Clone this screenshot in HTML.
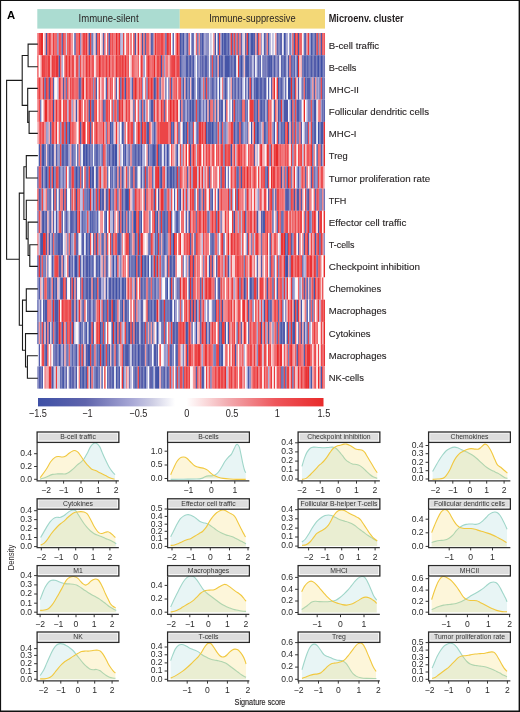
<!DOCTYPE html>
<html><head><meta charset="utf-8"><style>
html,body{margin:0;padding:0;background:#fff;}
svg{display:block;font-family:"Liberation Sans", sans-serif;will-change:transform;}
</style></head><body>
<svg width="520" height="712" viewBox="0 0 520 712">
<rect width="520" height="712" fill="#fff"/>
<rect x="37.3" y="9.1" width="142.5" height="19.5" fill="#abdcd1"/>
<rect x="179.8" y="9.1" width="145.2" height="19.5" fill="#f3d877"/>
<text x="108.55000000000001" y="22" font-size="10.5" text-anchor="middle" fill="#231f20" textLength="60" lengthAdjust="spacingAndGlyphs">Immune-silent</text>
<text x="252.4" y="22" font-size="10.5" text-anchor="middle" fill="#231f20" textLength="86.5" lengthAdjust="spacingAndGlyphs">Immune-suppressive</text>
<text x="328.7" y="21.9" font-size="10.8" font-weight="bold" fill="#231f20" textLength="75" lengthAdjust="spacingAndGlyphs">Microenv. cluster</text>
<text x="7" y="18.8" font-size="11.3" font-weight="bold" fill="#000">A</text>
<text x="328.8" y="48.70" font-size="9.9" fill="#231f20" stroke="#231f20" stroke-width="0.12" textLength="50.40" lengthAdjust="spacingAndGlyphs">B-cell traffic</text>
<text x="328.8" y="70.84" font-size="9.9" fill="#231f20" stroke="#231f20" stroke-width="0.12" textLength="27.70" lengthAdjust="spacingAndGlyphs">B-cells</text>
<text x="328.8" y="92.98" font-size="9.9" fill="#231f20" stroke="#231f20" stroke-width="0.12" textLength="30.20" lengthAdjust="spacingAndGlyphs">MHC-II</text>
<text x="328.8" y="115.12" font-size="9.9" fill="#231f20" stroke="#231f20" stroke-width="0.12" textLength="100.20" lengthAdjust="spacingAndGlyphs">Follicular dendritic cells</text>
<text x="328.8" y="137.26" font-size="9.9" fill="#231f20" stroke="#231f20" stroke-width="0.12" textLength="27.70" lengthAdjust="spacingAndGlyphs">MHC-I</text>
<text x="328.8" y="159.40" font-size="9.9" fill="#231f20" stroke="#231f20" stroke-width="0.12" textLength="18.80" lengthAdjust="spacingAndGlyphs">Treg</text>
<text x="328.8" y="181.54" font-size="9.9" fill="#231f20" stroke="#231f20" stroke-width="0.12" textLength="101.40" lengthAdjust="spacingAndGlyphs">Tumor proliferation rate</text>
<text x="328.8" y="203.68" font-size="9.9" fill="#231f20" stroke="#231f20" stroke-width="0.12" textLength="17.60" lengthAdjust="spacingAndGlyphs">TFH</text>
<text x="328.8" y="225.82" font-size="9.9" fill="#231f20" stroke="#231f20" stroke-width="0.12" textLength="77.50" lengthAdjust="spacingAndGlyphs">Effector cell traffic</text>
<text x="328.8" y="247.96" font-size="9.9" fill="#231f20" stroke="#231f20" stroke-width="0.12" textLength="25.70" lengthAdjust="spacingAndGlyphs">T-cells</text>
<text x="328.8" y="270.10" font-size="9.9" fill="#231f20" stroke="#231f20" stroke-width="0.12" textLength="91.10" lengthAdjust="spacingAndGlyphs">Checkpoint inhibition</text>
<text x="328.8" y="292.24" font-size="9.9" fill="#231f20" stroke="#231f20" stroke-width="0.12" textLength="52.40" lengthAdjust="spacingAndGlyphs">Chemokines</text>
<text x="328.8" y="314.38" font-size="9.9" fill="#231f20" stroke="#231f20" stroke-width="0.12" textLength="57.70" lengthAdjust="spacingAndGlyphs">Macrophages</text>
<text x="328.8" y="336.52" font-size="9.9" fill="#231f20" stroke="#231f20" stroke-width="0.12" textLength="41.70" lengthAdjust="spacingAndGlyphs">Cytokines</text>
<text x="328.8" y="358.66" font-size="9.9" fill="#231f20" stroke="#231f20" stroke-width="0.12" textLength="57.70" lengthAdjust="spacingAndGlyphs">Macrophages</text>
<text x="328.8" y="380.80" font-size="9.9" fill="#231f20" stroke="#231f20" stroke-width="0.12" textLength="35.10" lengthAdjust="spacingAndGlyphs">NK-cells</text>
<style>.h0{fill:#3e50a6}.h1{fill:#4554a7}.h2{fill:#4b58a8}.h3{fill:#525caa}.h4{fill:#5860ab}.h5{fill:#5f64ac}.h6{fill:#6e72b5}.h7{fill:#7d80bd}.h8{fill:#8c8ec6}.h9{fill:#9b9cce}.h10{fill:#aaaad7}.h11{fill:#bcbcde}.h12{fill:#cdcde4}.h13{fill:#e2e2ef}.h14{fill:#f7f7fa}.h15{fill:#ffffff}.h16{fill:#fef8f8}.h17{fill:#fce5e6}.h18{fill:#f9d2d4}.h19{fill:#f6bec2}.h20{fill:#f2aaaf}.h21{fill:#f1999e}.h22{fill:#f0888d}.h23{fill:#f0777c}.h24{fill:#ef666b}.h25{fill:#ee555a}.h26{fill:#ed4c50}.h27{fill:#ec4447}.h28{fill:#ea3b3d}.h29{fill:#e93334}.h30{fill:#e82a2a}.hm rect{height:22.25px}</style><defs><filter id="hb" x="0" y="0" width="1" height="1"><feGaussianBlur stdDeviation="0.35 0.2"/></filter></defs><g class="hm" filter="url(#hb)"><g transform="translate(0,33.00)"><rect x="37.30" width="1.43" class="h24"/><rect x="38.72" width="1.44" class="h27"/><rect x="40.15" width="2.86" class="h30"/><rect x="43.00" width="1.43" class="h16"/><rect x="44.42" width="1.44" class="h21"/><rect x="45.85" width="1.43" class="h1"/><rect x="47.27" width="1.44" class="h27"/><rect x="48.70" width="1.43" class="h28"/><rect x="50.12" width="1.43" class="h27"/><rect x="51.55" width="1.44" class="h21"/><rect x="52.98" width="1.44" class="h28"/><rect x="54.40" width="1.43" class="h26"/><rect x="55.83" width="1.43" class="h24"/><rect x="57.25" width="1.43" class="h7"/><rect x="58.67" width="1.44" class="h26"/><rect x="60.10" width="1.44" class="h27"/><rect x="61.53" width="1.43" class="h4"/><rect x="62.95" width="1.43" class="h26"/><rect x="64.38" width="1.43" class="h28"/><rect x="65.80" width="1.43" class="h12"/><rect x="67.22" width="1.44" class="h28"/><rect x="68.65" width="1.43" class="h27"/><rect x="70.08" width="1.43" class="h25"/><rect x="71.50" width="1.44" class="h22"/><rect x="72.93" width="1.43" class="h14"/><rect x="74.35" width="1.43" class="h0"/><rect x="75.78" width="1.43" class="h24"/><rect x="77.20" width="1.43" class="h26"/><rect x="78.62" width="1.44" class="h29"/><rect x="80.05" width="1.43" class="h8"/><rect x="81.48" width="1.43" class="h23"/><rect x="82.90" width="2.86" class="h27"/><rect x="85.75" width="1.44" class="h29"/><rect x="87.18" width="1.43" class="h23"/><rect x="88.60" width="1.43" class="h2"/><rect x="90.03" width="1.43" class="h28"/><rect x="91.45" width="1.43" class="h4"/><rect x="92.88" width="1.44" class="h11"/><rect x="94.30" width="1.43" class="h19"/><rect x="95.73" width="1.43" class="h2"/><rect x="97.15" width="1.43" class="h27"/><rect x="98.58" width="1.43" class="h28"/><rect x="100.00" width="1.44" class="h14"/><rect x="101.43" width="1.43" class="h19"/><rect x="102.85" width="1.43" class="h3"/><rect x="104.28" width="1.44" class="h26"/><rect x="105.70" width="1.43" class="h14"/><rect x="107.13" width="1.43" class="h26"/><rect x="108.55" width="1.46" class="h3"/><rect x="110.00" width="1.46" class="h25"/><rect x="111.46" width="1.46" class="h28"/><rect x="112.91" width="2.92" class="h23"/><rect x="115.82" width="1.46" class="h30"/><rect x="117.27" width="1.46" class="h27"/><rect x="118.73" width="1.46" class="h29"/><rect x="120.18" width="1.46" class="h9"/><rect x="121.64" width="1.46" class="h11"/><rect x="123.09" width="1.46" class="h29"/><rect x="124.54" width="1.46" class="h14"/><rect x="126.00" width="1.46" class="h23"/><rect x="127.45" width="1.46" class="h29"/><rect x="128.91" width="1.46" class="h18"/><rect x="130.36" width="1.46" class="h27"/><rect x="131.82" width="1.46" class="h15"/><rect x="133.27" width="1.46" class="h29"/><rect x="134.72" width="1.46" class="h2"/><rect x="136.18" width="1.46" class="h19"/><rect x="137.63" width="1.46" class="h30"/><rect x="139.09" width="1.46" class="h19"/><rect x="140.54" width="1.46" class="h23"/><rect x="141.99" width="1.46" class="h1"/><rect x="143.45" width="1.46" class="h24"/><rect x="144.90" width="1.46" class="h4"/><rect x="146.36" width="1.46" class="h27"/><rect x="147.81" width="1.46" class="h24"/><rect x="149.26" width="1.46" class="h21"/><rect x="150.72" width="1.46" class="h4"/><rect x="152.17" width="1.46" class="h1"/><rect x="153.63" width="1.46" class="h22"/><rect x="155.08" width="1.46" class="h30"/><rect x="156.53" width="4.37" class="h25"/><rect x="160.90" width="2.92" class="h27"/><rect x="163.81" width="1.46" class="h23"/><rect x="165.26" width="1.46" class="h3"/><rect x="166.71" width="1.46" class="h29"/><rect x="168.17" width="1.46" class="h30"/><rect x="169.62" width="1.46" class="h27"/><rect x="171.08" width="1.46" class="h15"/><rect x="172.53" width="1.46" class="h5"/><rect x="173.98" width="1.46" class="h16"/><rect x="175.44" width="1.46" class="h24"/><rect x="176.89" width="1.46" class="h30"/><rect x="178.35" width="1.46" class="h27"/><rect x="179.80" width="1.46" class="h1"/><rect x="181.25" width="1.46" class="h2"/><rect x="182.70" width="1.46" class="h1"/><rect x="184.16" width="1.46" class="h8"/><rect x="185.61" width="1.46" class="h7"/><rect x="187.06" width="1.46" class="h2"/><rect x="188.51" width="1.46" class="h24"/><rect x="189.96" width="1.46" class="h16"/><rect x="191.42" width="1.46" class="h1"/><rect x="192.87" width="1.46" class="h6"/><rect x="194.32" width="1.46" class="h14"/><rect x="195.77" width="1.46" class="h24"/><rect x="197.22" width="1.46" class="h3"/><rect x="198.68" width="1.46" class="h22"/><rect x="200.13" width="1.46" class="h3"/><rect x="201.58" width="1.46" class="h1"/><rect x="203.03" width="1.46" class="h6"/><rect x="204.48" width="1.46" class="h9"/><rect x="205.94" width="1.46" class="h8"/><rect x="207.39" width="1.46" class="h5"/><rect x="208.84" width="1.46" class="h16"/><rect x="210.29" width="1.46" class="h11"/><rect x="211.74" width="1.46" class="h16"/><rect x="213.20" width="1.46" class="h22"/><rect x="214.65" width="1.46" class="h1"/><rect x="216.10" width="1.46" class="h14"/><rect x="217.55" width="1.46" class="h2"/><rect x="219.00" width="1.46" class="h27"/><rect x="220.46" width="1.46" class="h8"/><rect x="221.91" width="1.46" class="h1"/><rect x="223.36" width="2.91" class="h2"/><rect x="226.26" width="1.46" class="h1"/><rect x="227.72" width="1.46" class="h3"/><rect x="229.17" width="1.46" class="h7"/><rect x="230.62" width="1.46" class="h28"/><rect x="232.07" width="1.46" class="h4"/><rect x="233.52" width="1.46" class="h27"/><rect x="234.98" width="1.46" class="h7"/><rect x="236.43" width="1.46" class="h27"/><rect x="237.88" width="1.46" class="h6"/><rect x="239.33" width="1.46" class="h25"/><rect x="240.78" width="1.46" class="h5"/><rect x="242.24" width="1.46" class="h11"/><rect x="243.69" width="1.46" class="h18"/><rect x="245.14" width="1.46" class="h0"/><rect x="246.59" width="1.46" class="h28"/><rect x="248.04" width="1.46" class="h0"/><rect x="249.50" width="1.46" class="h7"/><rect x="250.95" width="2.89" class="h1"/><rect x="253.82" width="1.43" class="h3"/><rect x="255.25" width="1.43" class="h22"/><rect x="256.67" width="1.43" class="h3"/><rect x="258.09" width="1.43" class="h28"/><rect x="259.52" width="1.43" class="h22"/><rect x="260.94" width="1.43" class="h9"/><rect x="262.36" width="1.43" class="h16"/><rect x="263.79" width="1.43" class="h3"/><rect x="265.21" width="1.43" class="h5"/><rect x="266.64" width="1.43" class="h23"/><rect x="268.06" width="1.43" class="h2"/><rect x="269.48" width="1.43" class="h10"/><rect x="270.91" width="1.43" class="h16"/><rect x="272.33" width="1.43" class="h10"/><rect x="273.75" width="1.43" class="h14"/><rect x="275.18" width="1.43" class="h22"/><rect x="276.60" width="1.43" class="h4"/><rect x="278.02" width="1.43" class="h7"/><rect x="279.45" width="1.43" class="h1"/><rect x="280.87" width="1.43" class="h5"/><rect x="282.29" width="1.43" class="h16"/><rect x="283.72" width="1.43" class="h0"/><rect x="285.14" width="1.43" class="h4"/><rect x="286.56" width="1.43" class="h10"/><rect x="287.99" width="1.43" class="h16"/><rect x="289.41" width="1.43" class="h3"/><rect x="290.84" width="1.43" class="h11"/><rect x="292.26" width="1.43" class="h26"/><rect x="293.68" width="1.43" class="h2"/><rect x="295.11" width="1.43" class="h30"/><rect x="296.53" width="1.43" class="h27"/><rect x="297.95" width="1.43" class="h1"/><rect x="299.38" width="1.43" class="h28"/><rect x="300.80" width="1.43" class="h24"/><rect x="302.22" width="1.43" class="h16"/><rect x="303.65" width="1.43" class="h6"/><rect x="305.07" width="1.43" class="h2"/><rect x="306.49" width="1.43" class="h22"/><rect x="307.92" width="1.43" class="h28"/><rect x="309.34" width="1.43" class="h9"/><rect x="310.76" width="1.43" class="h1"/><rect x="312.19" width="1.43" class="h3"/><rect x="313.61" width="1.43" class="h7"/><rect x="315.04" width="1.43" class="h1"/><rect x="316.46" width="1.43" class="h29"/><rect x="317.88" width="1.43" class="h7"/><rect x="319.31" width="1.43" class="h25"/><rect x="320.73" width="1.43" class="h2"/><rect x="322.15" width="1.43" class="h27"/><rect x="323.58" width="1.43" class="h25"/></g><g transform="translate(0,55.23)"><rect x="37.30" width="1.43" class="h27"/><rect x="38.72" width="1.44" class="h16"/><rect x="40.15" width="1.43" class="h19"/><rect x="41.57" width="1.44" class="h28"/><rect x="43.00" width="2.86" class="h27"/><rect x="45.85" width="1.43" class="h25"/><rect x="47.27" width="2.86" class="h28"/><rect x="50.12" width="1.43" class="h20"/><rect x="51.55" width="1.44" class="h28"/><rect x="52.98" width="2.86" class="h27"/><rect x="55.83" width="2.86" class="h29"/><rect x="58.67" width="1.44" class="h2"/><rect x="60.10" width="1.44" class="h26"/><rect x="61.53" width="1.43" class="h10"/><rect x="62.95" width="1.43" class="h16"/><rect x="64.38" width="1.43" class="h27"/><rect x="65.80" width="1.43" class="h29"/><rect x="67.22" width="1.44" class="h26"/><rect x="68.65" width="1.43" class="h30"/><rect x="70.08" width="1.43" class="h24"/><rect x="71.50" width="1.44" class="h28"/><rect x="72.93" width="1.43" class="h26"/><rect x="74.35" width="1.43" class="h19"/><rect x="75.78" width="1.43" class="h26"/><rect x="77.20" width="1.43" class="h30"/><rect x="78.62" width="1.44" class="h8"/><rect x="80.05" width="1.43" class="h27"/><rect x="81.48" width="1.43" class="h21"/><rect x="82.90" width="1.43" class="h24"/><rect x="84.33" width="1.43" class="h23"/><rect x="85.75" width="1.44" class="h29"/><rect x="87.18" width="1.43" class="h28"/><rect x="88.60" width="1.43" class="h29"/><rect x="90.03" width="1.43" class="h23"/><rect x="91.45" width="1.43" class="h28"/><rect x="92.88" width="1.44" class="h25"/><rect x="94.30" width="1.43" class="h14"/><rect x="95.73" width="1.43" class="h23"/><rect x="97.15" width="1.43" class="h25"/><rect x="98.58" width="1.43" class="h30"/><rect x="100.00" width="1.44" class="h26"/><rect x="101.43" width="1.43" class="h27"/><rect x="102.85" width="1.43" class="h25"/><rect x="104.28" width="1.44" class="h26"/><rect x="105.70" width="1.43" class="h28"/><rect x="107.13" width="1.43" class="h25"/><rect x="108.55" width="1.46" class="h29"/><rect x="110.00" width="1.46" class="h23"/><rect x="111.46" width="1.46" class="h26"/><rect x="112.91" width="1.46" class="h24"/><rect x="114.37" width="1.46" class="h23"/><rect x="115.82" width="1.46" class="h29"/><rect x="117.27" width="1.46" class="h30"/><rect x="118.73" width="1.46" class="h26"/><rect x="120.18" width="1.46" class="h30"/><rect x="121.64" width="1.46" class="h28"/><rect x="123.09" width="1.46" class="h27"/><rect x="124.54" width="1.46" class="h29"/><rect x="126.00" width="1.46" class="h24"/><rect x="127.45" width="1.46" class="h29"/><rect x="128.91" width="1.46" class="h14"/><rect x="130.36" width="1.46" class="h19"/><rect x="131.82" width="1.46" class="h25"/><rect x="133.27" width="1.46" class="h27"/><rect x="134.72" width="1.46" class="h22"/><rect x="136.18" width="1.46" class="h23"/><rect x="137.63" width="1.46" class="h24"/><rect x="139.09" width="1.46" class="h15"/><rect x="140.54" width="1.46" class="h28"/><rect x="141.99" width="1.46" class="h24"/><rect x="143.45" width="1.46" class="h8"/><rect x="144.90" width="1.46" class="h14"/><rect x="146.36" width="1.46" class="h27"/><rect x="147.81" width="1.46" class="h29"/><rect x="149.26" width="1.46" class="h28"/><rect x="150.72" width="1.46" class="h23"/><rect x="152.17" width="1.46" class="h26"/><rect x="153.63" width="1.46" class="h30"/><rect x="155.08" width="1.46" class="h22"/><rect x="156.53" width="2.92" class="h27"/><rect x="159.44" width="1.46" class="h30"/><rect x="160.90" width="1.46" class="h1"/><rect x="162.35" width="1.46" class="h27"/><rect x="163.81" width="1.46" class="h9"/><rect x="165.26" width="2.92" class="h23"/><rect x="168.17" width="1.46" class="h20"/><rect x="169.62" width="1.46" class="h24"/><rect x="171.08" width="2.92" class="h27"/><rect x="173.98" width="1.46" class="h28"/><rect x="175.44" width="1.46" class="h25"/><rect x="176.89" width="2.92" class="h27"/><rect x="179.80" width="1.46" class="h2"/><rect x="181.25" width="1.46" class="h3"/><rect x="182.70" width="1.46" class="h8"/><rect x="184.16" width="1.46" class="h7"/><rect x="185.61" width="2.91" class="h2"/><rect x="188.51" width="1.46" class="h5"/><rect x="189.96" width="1.46" class="h2"/><rect x="191.42" width="1.46" class="h4"/><rect x="192.87" width="1.46" class="h1"/><rect x="194.32" width="1.46" class="h9"/><rect x="195.77" width="1.46" class="h15"/><rect x="197.22" width="1.46" class="h3"/><rect x="198.68" width="1.46" class="h9"/><rect x="200.13" width="1.46" class="h3"/><rect x="201.58" width="1.46" class="h4"/><rect x="203.03" width="1.46" class="h6"/><rect x="204.48" width="1.46" class="h1"/><rect x="205.94" width="1.46" class="h3"/><rect x="207.39" width="1.46" class="h4"/><rect x="208.84" width="1.46" class="h14"/><rect x="210.29" width="1.46" class="h3"/><rect x="211.74" width="1.46" class="h26"/><rect x="213.20" width="1.46" class="h1"/><rect x="214.65" width="1.46" class="h7"/><rect x="216.10" width="1.46" class="h1"/><rect x="217.55" width="1.46" class="h21"/><rect x="219.00" width="1.46" class="h0"/><rect x="220.46" width="1.46" class="h1"/><rect x="221.91" width="1.46" class="h4"/><rect x="223.36" width="1.46" class="h7"/><rect x="224.81" width="4.37" class="h1"/><rect x="229.17" width="1.46" class="h0"/><rect x="230.62" width="1.46" class="h5"/><rect x="232.07" width="1.46" class="h6"/><rect x="233.52" width="2.91" class="h2"/><rect x="236.43" width="1.46" class="h15"/><rect x="237.88" width="1.46" class="h29"/><rect x="239.33" width="1.46" class="h3"/><rect x="240.78" width="1.46" class="h0"/><rect x="242.24" width="1.46" class="h5"/><rect x="243.69" width="1.46" class="h19"/><rect x="245.14" width="2.91" class="h2"/><rect x="248.04" width="1.46" class="h1"/><rect x="249.50" width="1.46" class="h6"/><rect x="250.95" width="1.46" class="h7"/><rect x="252.40" width="1.43" class="h11"/><rect x="253.82" width="1.43" class="h5"/><rect x="255.25" width="1.43" class="h14"/><rect x="256.67" width="1.43" class="h8"/><rect x="258.09" width="1.43" class="h3"/><rect x="259.52" width="1.43" class="h2"/><rect x="260.94" width="1.43" class="h14"/><rect x="262.36" width="1.43" class="h3"/><rect x="263.79" width="1.43" class="h7"/><rect x="265.21" width="1.43" class="h4"/><rect x="266.64" width="1.43" class="h6"/><rect x="268.06" width="2.86" class="h2"/><rect x="270.91" width="1.43" class="h1"/><rect x="272.33" width="1.43" class="h6"/><rect x="273.75" width="1.43" class="h2"/><rect x="275.18" width="1.43" class="h6"/><rect x="276.60" width="1.43" class="h7"/><rect x="278.02" width="1.43" class="h5"/><rect x="279.45" width="1.43" class="h16"/><rect x="280.87" width="1.43" class="h4"/><rect x="282.29" width="1.43" class="h1"/><rect x="283.72" width="1.43" class="h3"/><rect x="285.14" width="1.43" class="h2"/><rect x="286.56" width="1.43" class="h11"/><rect x="287.99" width="1.43" class="h2"/><rect x="289.41" width="1.43" class="h26"/><rect x="290.84" width="1.43" class="h5"/><rect x="292.26" width="1.43" class="h3"/><rect x="293.68" width="1.43" class="h4"/><rect x="295.11" width="1.43" class="h10"/><rect x="296.53" width="1.43" class="h1"/><rect x="297.95" width="1.43" class="h30"/><rect x="299.38" width="1.43" class="h19"/><rect x="300.80" width="1.43" class="h20"/><rect x="302.22" width="1.43" class="h2"/><rect x="303.65" width="1.43" class="h3"/><rect x="305.07" width="1.43" class="h2"/><rect x="306.49" width="1.43" class="h1"/><rect x="307.92" width="1.43" class="h6"/><rect x="309.34" width="1.43" class="h3"/><rect x="310.76" width="1.43" class="h2"/><rect x="312.19" width="1.43" class="h4"/><rect x="313.61" width="2.86" class="h3"/><rect x="316.46" width="1.43" class="h2"/><rect x="317.88" width="1.43" class="h0"/><rect x="319.31" width="1.43" class="h3"/><rect x="320.73" width="1.43" class="h0"/><rect x="322.15" width="1.43" class="h2"/><rect x="323.58" width="1.43" class="h6"/></g><g transform="translate(0,77.45)"><rect x="37.30" width="1.43" class="h26"/><rect x="38.72" width="1.44" class="h28"/><rect x="40.15" width="1.43" class="h24"/><rect x="41.57" width="1.44" class="h22"/><rect x="43.00" width="1.43" class="h29"/><rect x="44.42" width="1.44" class="h2"/><rect x="45.85" width="1.43" class="h28"/><rect x="47.27" width="1.44" class="h29"/><rect x="48.70" width="1.43" class="h2"/><rect x="50.12" width="1.43" class="h30"/><rect x="51.55" width="1.44" class="h24"/><rect x="52.98" width="1.44" class="h3"/><rect x="54.40" width="2.86" class="h16"/><rect x="57.25" width="1.43" class="h11"/><rect x="58.67" width="1.44" class="h29"/><rect x="60.10" width="1.44" class="h26"/><rect x="61.53" width="1.43" class="h22"/><rect x="62.95" width="1.43" class="h2"/><rect x="64.38" width="1.43" class="h25"/><rect x="65.80" width="1.43" class="h6"/><rect x="67.22" width="1.44" class="h29"/><rect x="68.65" width="1.43" class="h20"/><rect x="70.08" width="1.43" class="h28"/><rect x="71.50" width="1.44" class="h27"/><rect x="72.93" width="1.43" class="h25"/><rect x="74.35" width="1.43" class="h26"/><rect x="75.78" width="1.43" class="h24"/><rect x="77.20" width="1.43" class="h27"/><rect x="78.62" width="1.44" class="h4"/><rect x="80.05" width="1.43" class="h5"/><rect x="81.48" width="1.43" class="h28"/><rect x="82.90" width="1.43" class="h30"/><rect x="84.33" width="1.43" class="h18"/><rect x="85.75" width="1.44" class="h28"/><rect x="87.18" width="1.43" class="h27"/><rect x="88.60" width="1.43" class="h25"/><rect x="90.03" width="1.43" class="h26"/><rect x="91.45" width="1.43" class="h27"/><rect x="92.88" width="1.44" class="h8"/><rect x="94.30" width="1.43" class="h28"/><rect x="95.73" width="1.43" class="h2"/><rect x="97.15" width="1.43" class="h16"/><rect x="98.58" width="1.43" class="h27"/><rect x="100.00" width="1.44" class="h18"/><rect x="101.43" width="2.86" class="h23"/><rect x="104.28" width="1.44" class="h14"/><rect x="105.70" width="1.43" class="h3"/><rect x="107.13" width="1.43" class="h29"/><rect x="108.55" width="1.46" class="h21"/><rect x="110.00" width="1.46" class="h26"/><rect x="111.46" width="1.46" class="h27"/><rect x="112.91" width="1.46" class="h15"/><rect x="114.37" width="1.46" class="h23"/><rect x="115.82" width="1.46" class="h3"/><rect x="117.27" width="1.46" class="h14"/><rect x="118.73" width="1.46" class="h29"/><rect x="120.18" width="1.46" class="h3"/><rect x="121.64" width="1.46" class="h29"/><rect x="123.09" width="1.46" class="h27"/><rect x="124.54" width="1.46" class="h1"/><rect x="126.00" width="1.46" class="h25"/><rect x="127.45" width="1.46" class="h27"/><rect x="128.91" width="1.46" class="h24"/><rect x="130.36" width="1.46" class="h10"/><rect x="131.82" width="1.46" class="h3"/><rect x="133.27" width="1.46" class="h29"/><rect x="134.72" width="1.46" class="h30"/><rect x="136.18" width="1.46" class="h28"/><rect x="137.63" width="1.46" class="h22"/><rect x="139.09" width="1.46" class="h28"/><rect x="140.54" width="1.46" class="h26"/><rect x="141.99" width="1.46" class="h8"/><rect x="143.45" width="1.46" class="h16"/><rect x="144.90" width="1.46" class="h23"/><rect x="146.36" width="1.46" class="h6"/><rect x="147.81" width="1.46" class="h28"/><rect x="149.26" width="1.46" class="h27"/><rect x="150.72" width="1.46" class="h29"/><rect x="152.17" width="1.46" class="h28"/><rect x="153.63" width="1.46" class="h1"/><rect x="155.08" width="1.46" class="h4"/><rect x="156.53" width="1.46" class="h28"/><rect x="157.99" width="1.46" class="h24"/><rect x="159.44" width="1.46" class="h3"/><rect x="160.90" width="1.46" class="h20"/><rect x="162.35" width="1.46" class="h25"/><rect x="163.81" width="1.46" class="h18"/><rect x="165.26" width="1.46" class="h5"/><rect x="166.71" width="1.46" class="h15"/><rect x="168.17" width="1.46" class="h7"/><rect x="169.62" width="1.46" class="h26"/><rect x="171.08" width="1.46" class="h2"/><rect x="172.53" width="1.46" class="h23"/><rect x="173.98" width="1.46" class="h24"/><rect x="175.44" width="1.46" class="h29"/><rect x="176.89" width="1.46" class="h19"/><rect x="178.35" width="1.46" class="h28"/><rect x="179.80" width="1.46" class="h27"/><rect x="181.25" width="1.46" class="h7"/><rect x="182.70" width="1.46" class="h2"/><rect x="184.16" width="1.46" class="h21"/><rect x="185.61" width="1.46" class="h1"/><rect x="187.06" width="1.46" class="h7"/><rect x="188.51" width="1.46" class="h3"/><rect x="189.96" width="1.46" class="h19"/><rect x="191.42" width="2.91" class="h1"/><rect x="194.32" width="1.46" class="h6"/><rect x="195.77" width="1.46" class="h15"/><rect x="197.22" width="1.46" class="h3"/><rect x="198.68" width="1.46" class="h2"/><rect x="200.13" width="1.46" class="h3"/><rect x="201.58" width="1.46" class="h10"/><rect x="203.03" width="1.46" class="h24"/><rect x="204.48" width="1.46" class="h3"/><rect x="205.94" width="1.46" class="h27"/><rect x="207.39" width="1.46" class="h3"/><rect x="208.84" width="1.46" class="h10"/><rect x="210.29" width="1.46" class="h5"/><rect x="211.74" width="1.46" class="h4"/><rect x="213.20" width="1.46" class="h1"/><rect x="214.65" width="1.46" class="h9"/><rect x="216.10" width="1.46" class="h2"/><rect x="217.55" width="1.46" class="h14"/><rect x="219.00" width="1.46" class="h1"/><rect x="220.46" width="1.46" class="h14"/><rect x="221.91" width="1.46" class="h23"/><rect x="223.36" width="1.46" class="h6"/><rect x="224.81" width="1.46" class="h1"/><rect x="226.26" width="1.46" class="h2"/><rect x="227.72" width="1.46" class="h14"/><rect x="229.17" width="1.46" class="h9"/><rect x="230.62" width="1.46" class="h21"/><rect x="232.07" width="1.46" class="h2"/><rect x="233.52" width="1.46" class="h6"/><rect x="234.98" width="1.46" class="h4"/><rect x="236.43" width="1.46" class="h7"/><rect x="237.88" width="1.46" class="h3"/><rect x="239.33" width="1.46" class="h6"/><rect x="240.78" width="1.46" class="h3"/><rect x="242.24" width="1.46" class="h10"/><rect x="243.69" width="1.46" class="h14"/><rect x="245.14" width="1.46" class="h2"/><rect x="246.59" width="1.46" class="h11"/><rect x="248.04" width="1.46" class="h0"/><rect x="249.50" width="1.46" class="h28"/><rect x="250.95" width="1.46" class="h5"/><rect x="252.40" width="1.43" class="h10"/><rect x="253.82" width="1.43" class="h4"/><rect x="255.25" width="2.86" class="h1"/><rect x="258.09" width="1.43" class="h4"/><rect x="259.52" width="1.43" class="h1"/><rect x="260.94" width="1.43" class="h3"/><rect x="262.36" width="1.43" class="h4"/><rect x="263.79" width="2.86" class="h3"/><rect x="266.64" width="1.43" class="h16"/><rect x="268.06" width="1.43" class="h1"/><rect x="269.48" width="1.43" class="h15"/><rect x="270.91" width="1.43" class="h4"/><rect x="272.33" width="1.43" class="h24"/><rect x="273.75" width="1.43" class="h30"/><rect x="275.18" width="1.43" class="h16"/><rect x="276.60" width="1.43" class="h28"/><rect x="278.02" width="1.43" class="h1"/><rect x="279.45" width="1.43" class="h5"/><rect x="280.87" width="1.43" class="h3"/><rect x="282.29" width="1.43" class="h5"/><rect x="283.72" width="1.43" class="h12"/><rect x="285.14" width="1.43" class="h2"/><rect x="286.56" width="1.43" class="h16"/><rect x="287.99" width="2.86" class="h0"/><rect x="290.84" width="1.43" class="h30"/><rect x="292.26" width="1.43" class="h5"/><rect x="293.68" width="1.43" class="h2"/><rect x="295.11" width="1.43" class="h28"/><rect x="296.53" width="1.43" class="h18"/><rect x="297.95" width="1.43" class="h3"/><rect x="299.38" width="1.43" class="h14"/><rect x="300.80" width="1.43" class="h10"/><rect x="302.22" width="1.43" class="h2"/><rect x="303.65" width="1.43" class="h24"/><rect x="305.07" width="1.43" class="h1"/><rect x="306.49" width="4.28" class="h3"/><rect x="310.76" width="1.43" class="h9"/><rect x="312.19" width="1.43" class="h22"/><rect x="313.61" width="1.43" class="h4"/><rect x="315.04" width="1.43" class="h22"/><rect x="316.46" width="1.43" class="h7"/><rect x="317.88" width="1.43" class="h10"/><rect x="319.31" width="1.43" class="h4"/><rect x="320.73" width="1.43" class="h26"/><rect x="322.15" width="1.43" class="h2"/><rect x="323.58" width="1.43" class="h6"/></g><g transform="translate(0,99.68)"><rect x="37.30" width="1.43" class="h23"/><rect x="38.72" width="1.44" class="h26"/><rect x="40.15" width="1.43" class="h5"/><rect x="41.57" width="1.44" class="h15"/><rect x="43.00" width="1.43" class="h19"/><rect x="44.42" width="2.86" class="h30"/><rect x="47.27" width="1.44" class="h23"/><rect x="48.70" width="1.43" class="h25"/><rect x="50.12" width="1.43" class="h27"/><rect x="51.55" width="1.44" class="h26"/><rect x="52.98" width="1.44" class="h0"/><rect x="54.40" width="1.43" class="h23"/><rect x="55.83" width="1.43" class="h29"/><rect x="57.25" width="1.43" class="h24"/><rect x="58.67" width="1.44" class="h26"/><rect x="60.10" width="1.44" class="h30"/><rect x="61.53" width="1.43" class="h16"/><rect x="62.95" width="1.43" class="h27"/><rect x="64.38" width="1.43" class="h29"/><rect x="65.80" width="1.43" class="h26"/><rect x="67.22" width="1.44" class="h10"/><rect x="68.65" width="2.86" class="h27"/><rect x="71.50" width="1.44" class="h9"/><rect x="72.93" width="1.43" class="h21"/><rect x="74.35" width="1.43" class="h19"/><rect x="75.78" width="1.43" class="h1"/><rect x="77.20" width="1.43" class="h19"/><rect x="78.62" width="2.86" class="h29"/><rect x="81.48" width="1.43" class="h24"/><rect x="82.90" width="1.43" class="h15"/><rect x="84.33" width="1.43" class="h30"/><rect x="85.75" width="1.44" class="h21"/><rect x="87.18" width="1.43" class="h27"/><rect x="88.60" width="1.43" class="h1"/><rect x="90.03" width="1.43" class="h30"/><rect x="91.45" width="1.43" class="h2"/><rect x="92.88" width="1.44" class="h5"/><rect x="94.30" width="1.43" class="h29"/><rect x="95.73" width="1.43" class="h27"/><rect x="97.15" width="1.43" class="h16"/><rect x="98.58" width="1.43" class="h24"/><rect x="100.00" width="1.44" class="h20"/><rect x="101.43" width="1.43" class="h25"/><rect x="102.85" width="1.43" class="h4"/><rect x="104.28" width="1.44" class="h2"/><rect x="105.70" width="2.86" class="h27"/><rect x="108.55" width="1.46" class="h26"/><rect x="110.00" width="1.46" class="h15"/><rect x="111.46" width="1.46" class="h27"/><rect x="112.91" width="1.46" class="h8"/><rect x="114.37" width="1.46" class="h30"/><rect x="115.82" width="1.46" class="h23"/><rect x="117.27" width="1.46" class="h2"/><rect x="118.73" width="1.46" class="h30"/><rect x="120.18" width="1.46" class="h28"/><rect x="121.64" width="1.46" class="h29"/><rect x="123.09" width="1.46" class="h21"/><rect x="124.54" width="1.46" class="h22"/><rect x="126.00" width="1.46" class="h28"/><rect x="127.45" width="1.46" class="h25"/><rect x="128.91" width="1.46" class="h26"/><rect x="130.36" width="1.46" class="h18"/><rect x="131.82" width="1.46" class="h19"/><rect x="133.27" width="1.46" class="h1"/><rect x="134.72" width="1.46" class="h25"/><rect x="136.18" width="1.46" class="h15"/><rect x="137.63" width="1.46" class="h25"/><rect x="139.09" width="1.46" class="h10"/><rect x="140.54" width="1.46" class="h4"/><rect x="141.99" width="1.46" class="h24"/><rect x="143.45" width="1.46" class="h2"/><rect x="144.90" width="1.46" class="h11"/><rect x="146.36" width="1.46" class="h25"/><rect x="147.81" width="1.46" class="h16"/><rect x="149.26" width="1.46" class="h7"/><rect x="150.72" width="2.92" class="h2"/><rect x="153.63" width="1.46" class="h28"/><rect x="155.08" width="1.46" class="h20"/><rect x="156.53" width="1.46" class="h27"/><rect x="157.99" width="1.46" class="h24"/><rect x="159.44" width="1.46" class="h21"/><rect x="160.90" width="1.46" class="h29"/><rect x="162.35" width="1.46" class="h28"/><rect x="163.81" width="1.46" class="h5"/><rect x="165.26" width="1.46" class="h28"/><rect x="166.71" width="1.46" class="h16"/><rect x="168.17" width="1.46" class="h25"/><rect x="169.62" width="1.46" class="h30"/><rect x="171.08" width="1.46" class="h27"/><rect x="172.53" width="1.46" class="h29"/><rect x="173.98" width="1.46" class="h25"/><rect x="175.44" width="1.46" class="h27"/><rect x="176.89" width="1.46" class="h29"/><rect x="178.35" width="1.46" class="h15"/><rect x="179.80" width="1.46" class="h2"/><rect x="181.25" width="1.46" class="h24"/><rect x="182.70" width="1.46" class="h6"/><rect x="184.16" width="1.46" class="h3"/><rect x="185.61" width="1.46" class="h10"/><rect x="187.06" width="1.46" class="h5"/><rect x="188.51" width="1.46" class="h6"/><rect x="189.96" width="1.46" class="h1"/><rect x="191.42" width="2.91" class="h2"/><rect x="194.32" width="1.46" class="h5"/><rect x="195.77" width="1.46" class="h27"/><rect x="197.22" width="1.46" class="h5"/><rect x="198.68" width="1.46" class="h3"/><rect x="200.13" width="1.46" class="h2"/><rect x="201.58" width="1.46" class="h10"/><rect x="203.03" width="1.46" class="h6"/><rect x="204.48" width="1.46" class="h10"/><rect x="205.94" width="1.46" class="h2"/><rect x="207.39" width="1.46" class="h21"/><rect x="208.84" width="1.46" class="h1"/><rect x="210.29" width="1.46" class="h27"/><rect x="211.74" width="1.46" class="h23"/><rect x="213.20" width="1.46" class="h3"/><rect x="214.65" width="1.46" class="h21"/><rect x="216.10" width="1.46" class="h0"/><rect x="217.55" width="1.46" class="h19"/><rect x="219.00" width="1.46" class="h3"/><rect x="220.46" width="1.46" class="h0"/><rect x="221.91" width="1.46" class="h3"/><rect x="223.36" width="1.46" class="h16"/><rect x="224.81" width="1.46" class="h2"/><rect x="226.26" width="1.46" class="h26"/><rect x="227.72" width="1.46" class="h15"/><rect x="229.17" width="1.46" class="h9"/><rect x="230.62" width="1.46" class="h16"/><rect x="232.07" width="1.46" class="h2"/><rect x="233.52" width="1.46" class="h28"/><rect x="234.98" width="1.46" class="h6"/><rect x="236.43" width="1.46" class="h5"/><rect x="237.88" width="1.46" class="h8"/><rect x="239.33" width="1.46" class="h2"/><rect x="240.78" width="1.46" class="h4"/><rect x="242.24" width="1.46" class="h27"/><rect x="243.69" width="1.46" class="h24"/><rect x="245.14" width="1.46" class="h2"/><rect x="246.59" width="1.46" class="h6"/><rect x="248.04" width="1.46" class="h15"/><rect x="249.50" width="4.34" class="h28"/><rect x="253.82" width="1.43" class="h5"/><rect x="255.25" width="1.43" class="h4"/><rect x="256.67" width="1.43" class="h1"/><rect x="258.09" width="1.43" class="h24"/><rect x="259.52" width="1.43" class="h4"/><rect x="260.94" width="1.43" class="h2"/><rect x="262.36" width="1.43" class="h1"/><rect x="263.79" width="1.43" class="h4"/><rect x="265.21" width="1.43" class="h9"/><rect x="266.64" width="1.43" class="h5"/><rect x="268.06" width="1.43" class="h27"/><rect x="269.48" width="1.43" class="h25"/><rect x="270.91" width="1.43" class="h21"/><rect x="272.33" width="1.43" class="h15"/><rect x="273.75" width="1.43" class="h2"/><rect x="275.18" width="1.43" class="h27"/><rect x="276.60" width="1.43" class="h20"/><rect x="278.02" width="1.43" class="h1"/><rect x="279.45" width="1.43" class="h0"/><rect x="280.87" width="1.43" class="h28"/><rect x="282.29" width="1.43" class="h8"/><rect x="283.72" width="4.28" class="h2"/><rect x="287.99" width="1.43" class="h14"/><rect x="289.41" width="1.43" class="h9"/><rect x="290.84" width="1.43" class="h0"/><rect x="292.26" width="1.43" class="h28"/><rect x="293.68" width="1.43" class="h7"/><rect x="295.11" width="1.43" class="h28"/><rect x="296.53" width="1.43" class="h1"/><rect x="297.95" width="1.43" class="h2"/><rect x="299.38" width="1.43" class="h1"/><rect x="300.80" width="1.43" class="h10"/><rect x="302.22" width="1.43" class="h15"/><rect x="303.65" width="1.43" class="h30"/><rect x="305.07" width="1.43" class="h15"/><rect x="306.49" width="1.43" class="h10"/><rect x="307.92" width="1.43" class="h7"/><rect x="309.34" width="1.43" class="h3"/><rect x="310.76" width="1.43" class="h25"/><rect x="312.19" width="1.43" class="h6"/><rect x="313.61" width="2.86" class="h1"/><rect x="316.46" width="1.43" class="h14"/><rect x="317.88" width="1.43" class="h22"/><rect x="319.31" width="1.43" class="h26"/><rect x="320.73" width="1.43" class="h9"/><rect x="322.15" width="1.43" class="h3"/><rect x="323.58" width="1.43" class="h4"/></g><g transform="translate(0,121.90)"><rect x="37.30" width="1.43" class="h20"/><rect x="38.72" width="1.44" class="h24"/><rect x="40.15" width="1.43" class="h29"/><rect x="41.57" width="1.44" class="h25"/><rect x="43.00" width="1.43" class="h27"/><rect x="44.42" width="1.44" class="h23"/><rect x="45.85" width="1.43" class="h9"/><rect x="47.27" width="1.44" class="h8"/><rect x="48.70" width="1.43" class="h20"/><rect x="50.12" width="1.43" class="h0"/><rect x="51.55" width="2.86" class="h27"/><rect x="54.40" width="1.43" class="h23"/><rect x="55.83" width="1.43" class="h29"/><rect x="57.25" width="1.43" class="h14"/><rect x="58.67" width="1.44" class="h24"/><rect x="60.10" width="1.44" class="h7"/><rect x="61.53" width="1.43" class="h28"/><rect x="62.95" width="1.43" class="h27"/><rect x="64.38" width="1.43" class="h3"/><rect x="65.80" width="1.43" class="h30"/><rect x="67.22" width="1.44" class="h4"/><rect x="68.65" width="1.43" class="h1"/><rect x="70.08" width="1.43" class="h28"/><rect x="71.50" width="1.44" class="h26"/><rect x="72.93" width="1.43" class="h24"/><rect x="74.35" width="1.43" class="h25"/><rect x="75.78" width="1.43" class="h19"/><rect x="77.20" width="1.43" class="h16"/><rect x="78.62" width="1.44" class="h28"/><rect x="80.05" width="1.43" class="h1"/><rect x="81.48" width="1.43" class="h26"/><rect x="82.90" width="2.86" class="h29"/><rect x="85.75" width="1.44" class="h15"/><rect x="87.18" width="1.43" class="h28"/><rect x="88.60" width="1.43" class="h29"/><rect x="90.03" width="1.43" class="h2"/><rect x="91.45" width="1.43" class="h29"/><rect x="92.88" width="1.44" class="h16"/><rect x="94.30" width="1.43" class="h27"/><rect x="95.73" width="1.43" class="h28"/><rect x="97.15" width="1.43" class="h25"/><rect x="98.58" width="4.29" class="h23"/><rect x="102.85" width="1.43" class="h29"/><rect x="104.28" width="1.44" class="h22"/><rect x="105.70" width="1.43" class="h7"/><rect x="107.13" width="1.43" class="h27"/><rect x="108.55" width="1.46" class="h23"/><rect x="110.00" width="1.46" class="h1"/><rect x="111.46" width="1.46" class="h0"/><rect x="112.91" width="1.46" class="h10"/><rect x="114.37" width="1.46" class="h19"/><rect x="115.82" width="1.46" class="h29"/><rect x="117.27" width="1.46" class="h19"/><rect x="118.73" width="1.46" class="h9"/><rect x="120.18" width="1.46" class="h15"/><rect x="121.64" width="1.46" class="h1"/><rect x="123.09" width="1.46" class="h5"/><rect x="124.54" width="1.46" class="h23"/><rect x="126.00" width="1.46" class="h14"/><rect x="127.45" width="1.46" class="h30"/><rect x="128.91" width="1.46" class="h24"/><rect x="130.36" width="2.92" class="h27"/><rect x="133.27" width="1.46" class="h5"/><rect x="134.72" width="1.46" class="h16"/><rect x="136.18" width="1.46" class="h23"/><rect x="137.63" width="1.46" class="h30"/><rect x="139.09" width="1.46" class="h28"/><rect x="140.54" width="1.46" class="h5"/><rect x="141.99" width="1.46" class="h29"/><rect x="143.45" width="1.46" class="h28"/><rect x="144.90" width="1.46" class="h27"/><rect x="146.36" width="2.92" class="h2"/><rect x="149.26" width="1.46" class="h29"/><rect x="150.72" width="1.46" class="h19"/><rect x="152.17" width="1.46" class="h7"/><rect x="153.63" width="1.46" class="h3"/><rect x="155.08" width="1.46" class="h7"/><rect x="156.53" width="1.46" class="h24"/><rect x="157.99" width="1.46" class="h26"/><rect x="159.44" width="1.46" class="h29"/><rect x="160.90" width="7.28" class="h27"/><rect x="168.17" width="1.46" class="h24"/><rect x="169.62" width="1.46" class="h26"/><rect x="171.08" width="1.46" class="h1"/><rect x="172.53" width="1.46" class="h2"/><rect x="173.98" width="1.46" class="h23"/><rect x="175.44" width="1.46" class="h19"/><rect x="176.89" width="1.46" class="h26"/><rect x="178.35" width="1.46" class="h0"/><rect x="179.80" width="1.46" class="h19"/><rect x="181.25" width="1.46" class="h15"/><rect x="182.70" width="1.46" class="h1"/><rect x="184.16" width="1.46" class="h0"/><rect x="185.61" width="1.46" class="h1"/><rect x="187.06" width="1.46" class="h27"/><rect x="188.51" width="1.46" class="h4"/><rect x="189.96" width="1.46" class="h7"/><rect x="191.42" width="1.46" class="h3"/><rect x="192.87" width="1.46" class="h26"/><rect x="194.32" width="1.46" class="h14"/><rect x="195.77" width="1.46" class="h8"/><rect x="197.22" width="1.46" class="h0"/><rect x="198.68" width="2.91" class="h29"/><rect x="201.58" width="1.46" class="h28"/><rect x="203.03" width="1.46" class="h24"/><rect x="204.48" width="1.46" class="h30"/><rect x="205.94" width="1.46" class="h2"/><rect x="207.39" width="4.37" class="h3"/><rect x="211.74" width="1.46" class="h0"/><rect x="213.20" width="1.46" class="h1"/><rect x="214.65" width="1.46" class="h7"/><rect x="216.10" width="1.46" class="h3"/><rect x="217.55" width="1.46" class="h26"/><rect x="219.00" width="1.46" class="h10"/><rect x="220.46" width="1.46" class="h0"/><rect x="221.91" width="1.46" class="h25"/><rect x="223.36" width="1.46" class="h6"/><rect x="224.81" width="1.46" class="h7"/><rect x="226.26" width="1.46" class="h8"/><rect x="227.72" width="1.46" class="h21"/><rect x="229.17" width="1.46" class="h24"/><rect x="230.62" width="1.46" class="h28"/><rect x="232.07" width="1.46" class="h29"/><rect x="233.52" width="1.46" class="h1"/><rect x="234.98" width="1.46" class="h7"/><rect x="236.43" width="1.46" class="h3"/><rect x="237.88" width="1.46" class="h4"/><rect x="239.33" width="1.46" class="h29"/><rect x="240.78" width="1.46" class="h3"/><rect x="242.24" width="1.46" class="h2"/><rect x="243.69" width="1.46" class="h10"/><rect x="245.14" width="1.46" class="h7"/><rect x="246.59" width="1.46" class="h6"/><rect x="248.04" width="1.46" class="h20"/><rect x="249.50" width="1.46" class="h15"/><rect x="250.95" width="1.46" class="h0"/><rect x="252.40" width="1.43" class="h20"/><rect x="253.82" width="1.43" class="h30"/><rect x="255.25" width="1.43" class="h1"/><rect x="256.67" width="1.43" class="h0"/><rect x="258.09" width="1.43" class="h2"/><rect x="259.52" width="1.43" class="h7"/><rect x="260.94" width="1.43" class="h11"/><rect x="262.36" width="1.43" class="h23"/><rect x="263.79" width="1.43" class="h2"/><rect x="265.21" width="1.43" class="h0"/><rect x="266.64" width="1.43" class="h7"/><rect x="268.06" width="1.43" class="h26"/><rect x="269.48" width="1.43" class="h27"/><rect x="270.91" width="1.43" class="h22"/><rect x="272.33" width="1.43" class="h7"/><rect x="273.75" width="1.43" class="h1"/><rect x="275.18" width="1.43" class="h15"/><rect x="276.60" width="1.43" class="h26"/><rect x="278.02" width="1.43" class="h3"/><rect x="279.45" width="1.43" class="h8"/><rect x="280.87" width="1.43" class="h5"/><rect x="282.29" width="1.43" class="h1"/><rect x="283.72" width="1.43" class="h2"/><rect x="285.14" width="1.43" class="h27"/><rect x="286.56" width="1.43" class="h29"/><rect x="287.99" width="1.43" class="h2"/><rect x="289.41" width="1.43" class="h20"/><rect x="290.84" width="1.43" class="h4"/><rect x="292.26" width="1.43" class="h29"/><rect x="293.68" width="1.43" class="h6"/><rect x="295.11" width="1.43" class="h28"/><rect x="296.53" width="2.86" class="h7"/><rect x="299.38" width="1.43" class="h25"/><rect x="300.80" width="1.43" class="h3"/><rect x="302.22" width="1.43" class="h15"/><rect x="303.65" width="1.43" class="h11"/><rect x="305.07" width="1.43" class="h6"/><rect x="306.49" width="1.43" class="h3"/><rect x="307.92" width="1.43" class="h26"/><rect x="309.34" width="1.43" class="h10"/><rect x="310.76" width="1.43" class="h27"/><rect x="312.19" width="1.43" class="h1"/><rect x="313.61" width="1.43" class="h3"/><rect x="315.04" width="1.43" class="h1"/><rect x="316.46" width="1.43" class="h15"/><rect x="317.88" width="1.43" class="h0"/><rect x="319.31" width="1.43" class="h5"/><rect x="320.73" width="2.86" class="h1"/><rect x="323.58" width="1.43" class="h29"/></g><g transform="translate(0,144.12)"><rect x="37.30" width="1.43" class="h15"/><rect x="38.72" width="1.44" class="h2"/><rect x="40.15" width="1.43" class="h27"/><rect x="41.57" width="1.44" class="h2"/><rect x="43.00" width="1.43" class="h0"/><rect x="44.42" width="1.44" class="h2"/><rect x="45.85" width="1.43" class="h18"/><rect x="47.27" width="1.44" class="h5"/><rect x="48.70" width="1.43" class="h2"/><rect x="50.12" width="1.43" class="h3"/><rect x="51.55" width="1.44" class="h1"/><rect x="52.98" width="1.44" class="h5"/><rect x="54.40" width="1.43" class="h18"/><rect x="55.83" width="1.43" class="h3"/><rect x="57.25" width="1.43" class="h7"/><rect x="58.67" width="1.44" class="h8"/><rect x="60.10" width="1.44" class="h29"/><rect x="61.53" width="1.43" class="h2"/><rect x="62.95" width="1.43" class="h4"/><rect x="64.38" width="1.43" class="h3"/><rect x="65.80" width="2.86" class="h4"/><rect x="68.65" width="1.43" class="h10"/><rect x="70.08" width="1.43" class="h21"/><rect x="71.50" width="1.44" class="h3"/><rect x="72.93" width="1.43" class="h7"/><rect x="74.35" width="1.43" class="h3"/><rect x="75.78" width="1.43" class="h16"/><rect x="77.20" width="1.43" class="h1"/><rect x="78.62" width="1.44" class="h23"/><rect x="80.05" width="1.43" class="h8"/><rect x="81.48" width="1.43" class="h15"/><rect x="82.90" width="2.86" class="h2"/><rect x="85.75" width="1.44" class="h0"/><rect x="87.18" width="1.43" class="h1"/><rect x="88.60" width="1.43" class="h4"/><rect x="90.03" width="1.43" class="h7"/><rect x="91.45" width="1.43" class="h2"/><rect x="92.88" width="1.44" class="h14"/><rect x="94.30" width="1.43" class="h2"/><rect x="95.73" width="1.43" class="h4"/><rect x="97.15" width="1.43" class="h0"/><rect x="98.58" width="1.43" class="h7"/><rect x="100.00" width="1.44" class="h10"/><rect x="101.43" width="1.43" class="h3"/><rect x="102.85" width="1.43" class="h26"/><rect x="104.28" width="1.44" class="h28"/><rect x="105.70" width="1.43" class="h10"/><rect x="107.13" width="1.43" class="h5"/><rect x="108.55" width="1.46" class="h2"/><rect x="110.00" width="1.46" class="h7"/><rect x="111.46" width="1.46" class="h2"/><rect x="112.91" width="1.46" class="h1"/><rect x="114.37" width="2.92" class="h0"/><rect x="117.27" width="1.46" class="h12"/><rect x="118.73" width="1.46" class="h22"/><rect x="120.18" width="1.46" class="h10"/><rect x="121.64" width="1.46" class="h14"/><rect x="123.09" width="1.46" class="h2"/><rect x="124.54" width="1.46" class="h1"/><rect x="126.00" width="1.46" class="h10"/><rect x="127.45" width="1.46" class="h7"/><rect x="128.91" width="1.46" class="h6"/><rect x="130.36" width="1.46" class="h23"/><rect x="131.82" width="1.46" class="h7"/><rect x="133.27" width="1.46" class="h1"/><rect x="134.72" width="1.46" class="h3"/><rect x="136.18" width="1.46" class="h4"/><rect x="137.63" width="1.46" class="h3"/><rect x="139.09" width="1.46" class="h5"/><rect x="140.54" width="1.46" class="h1"/><rect x="141.99" width="1.46" class="h10"/><rect x="143.45" width="1.46" class="h9"/><rect x="144.90" width="1.46" class="h15"/><rect x="146.36" width="1.46" class="h22"/><rect x="147.81" width="1.46" class="h2"/><rect x="149.26" width="2.92" class="h7"/><rect x="152.17" width="2.92" class="h1"/><rect x="155.08" width="1.46" class="h4"/><rect x="156.53" width="1.46" class="h28"/><rect x="157.99" width="1.46" class="h2"/><rect x="159.44" width="1.46" class="h1"/><rect x="160.90" width="1.46" class="h7"/><rect x="162.35" width="1.46" class="h14"/><rect x="163.81" width="1.46" class="h3"/><rect x="165.26" width="1.46" class="h10"/><rect x="166.71" width="1.46" class="h0"/><rect x="168.17" width="1.46" class="h3"/><rect x="169.62" width="1.46" class="h16"/><rect x="171.08" width="1.46" class="h27"/><rect x="172.53" width="1.46" class="h21"/><rect x="173.98" width="1.46" class="h19"/><rect x="175.44" width="1.46" class="h6"/><rect x="176.89" width="1.46" class="h1"/><rect x="178.35" width="1.46" class="h14"/><rect x="179.80" width="1.46" class="h27"/><rect x="181.25" width="1.46" class="h8"/><rect x="182.70" width="1.46" class="h24"/><rect x="184.16" width="1.46" class="h19"/><rect x="185.61" width="1.46" class="h29"/><rect x="187.06" width="1.46" class="h15"/><rect x="188.51" width="1.46" class="h30"/><rect x="189.96" width="1.46" class="h1"/><rect x="191.42" width="1.46" class="h24"/><rect x="192.87" width="1.46" class="h29"/><rect x="194.32" width="1.46" class="h27"/><rect x="195.77" width="1.46" class="h12"/><rect x="197.22" width="1.46" class="h29"/><rect x="198.68" width="2.91" class="h28"/><rect x="201.58" width="1.46" class="h16"/><rect x="203.03" width="1.46" class="h26"/><rect x="204.48" width="1.46" class="h21"/><rect x="205.94" width="1.46" class="h27"/><rect x="207.39" width="1.46" class="h26"/><rect x="208.84" width="1.46" class="h27"/><rect x="210.29" width="1.46" class="h21"/><rect x="211.74" width="1.46" class="h25"/><rect x="213.20" width="1.46" class="h30"/><rect x="214.65" width="1.46" class="h15"/><rect x="216.10" width="1.46" class="h27"/><rect x="217.55" width="1.46" class="h26"/><rect x="219.00" width="1.46" class="h21"/><rect x="220.46" width="1.46" class="h29"/><rect x="221.91" width="1.46" class="h27"/><rect x="223.36" width="1.46" class="h6"/><rect x="224.81" width="1.46" class="h28"/><rect x="226.26" width="1.46" class="h29"/><rect x="227.72" width="1.46" class="h26"/><rect x="229.17" width="1.46" class="h30"/><rect x="230.62" width="1.46" class="h0"/><rect x="232.07" width="1.46" class="h22"/><rect x="233.52" width="1.46" class="h28"/><rect x="234.98" width="1.46" class="h11"/><rect x="236.43" width="1.46" class="h24"/><rect x="237.88" width="2.91" class="h28"/><rect x="240.78" width="1.46" class="h27"/><rect x="242.24" width="1.46" class="h24"/><rect x="243.69" width="1.46" class="h25"/><rect x="245.14" width="1.46" class="h23"/><rect x="246.59" width="1.46" class="h14"/><rect x="248.04" width="1.46" class="h26"/><rect x="249.50" width="2.91" class="h25"/><rect x="252.40" width="1.43" class="h28"/><rect x="253.82" width="1.43" class="h3"/><rect x="255.25" width="1.43" class="h19"/><rect x="256.67" width="1.43" class="h11"/><rect x="258.09" width="1.43" class="h14"/><rect x="259.52" width="1.43" class="h27"/><rect x="260.94" width="1.43" class="h29"/><rect x="262.36" width="1.43" class="h21"/><rect x="263.79" width="1.43" class="h19"/><rect x="265.21" width="1.43" class="h14"/><rect x="266.64" width="1.43" class="h29"/><rect x="268.06" width="1.43" class="h28"/><rect x="269.48" width="1.43" class="h6"/><rect x="270.91" width="1.43" class="h28"/><rect x="272.33" width="1.43" class="h21"/><rect x="273.75" width="1.43" class="h28"/><rect x="275.18" width="2.86" class="h30"/><rect x="278.02" width="1.43" class="h24"/><rect x="279.45" width="1.43" class="h28"/><rect x="280.87" width="1.43" class="h23"/><rect x="282.29" width="1.43" class="h26"/><rect x="283.72" width="1.43" class="h23"/><rect x="285.14" width="1.43" class="h28"/><rect x="286.56" width="1.43" class="h26"/><rect x="287.99" width="1.43" class="h23"/><rect x="289.41" width="1.43" class="h16"/><rect x="290.84" width="1.43" class="h28"/><rect x="292.26" width="1.43" class="h6"/><rect x="293.68" width="1.43" class="h24"/><rect x="295.11" width="1.43" class="h27"/><rect x="296.53" width="1.43" class="h16"/><rect x="297.95" width="1.43" class="h26"/><rect x="299.38" width="1.43" class="h29"/><rect x="300.80" width="1.43" class="h27"/><rect x="302.22" width="1.43" class="h11"/><rect x="303.65" width="1.43" class="h27"/><rect x="305.07" width="1.43" class="h19"/><rect x="306.49" width="2.86" class="h25"/><rect x="309.34" width="1.43" class="h27"/><rect x="310.76" width="1.43" class="h29"/><rect x="312.19" width="1.43" class="h2"/><rect x="313.61" width="1.43" class="h22"/><rect x="315.04" width="1.43" class="h16"/><rect x="316.46" width="1.43" class="h2"/><rect x="317.88" width="1.43" class="h24"/><rect x="319.31" width="1.43" class="h26"/><rect x="320.73" width="1.43" class="h3"/><rect x="322.15" width="1.43" class="h9"/><rect x="323.58" width="1.43" class="h30"/></g><g transform="translate(0,166.35)"><rect x="37.30" width="1.43" class="h3"/><rect x="38.72" width="2.86" class="h25"/><rect x="41.57" width="1.44" class="h1"/><rect x="43.00" width="1.43" class="h9"/><rect x="44.42" width="1.44" class="h3"/><rect x="45.85" width="1.43" class="h0"/><rect x="47.27" width="1.44" class="h3"/><rect x="48.70" width="1.43" class="h29"/><rect x="50.12" width="1.43" class="h4"/><rect x="51.55" width="1.44" class="h26"/><rect x="52.98" width="1.44" class="h0"/><rect x="54.40" width="1.43" class="h6"/><rect x="55.83" width="1.43" class="h27"/><rect x="57.25" width="1.43" class="h30"/><rect x="58.67" width="1.44" class="h5"/><rect x="60.10" width="1.44" class="h7"/><rect x="61.53" width="1.43" class="h8"/><rect x="62.95" width="1.43" class="h6"/><rect x="64.38" width="1.43" class="h8"/><rect x="65.80" width="1.43" class="h27"/><rect x="67.22" width="1.44" class="h15"/><rect x="68.65" width="1.43" class="h7"/><rect x="70.08" width="1.43" class="h6"/><rect x="71.50" width="1.44" class="h29"/><rect x="72.93" width="1.43" class="h26"/><rect x="74.35" width="1.43" class="h2"/><rect x="75.78" width="1.43" class="h0"/><rect x="77.20" width="1.43" class="h2"/><rect x="78.62" width="1.44" class="h4"/><rect x="80.05" width="1.43" class="h25"/><rect x="81.48" width="1.43" class="h1"/><rect x="82.90" width="1.43" class="h15"/><rect x="84.33" width="1.43" class="h27"/><rect x="85.75" width="1.44" class="h6"/><rect x="87.18" width="1.43" class="h1"/><rect x="88.60" width="1.43" class="h28"/><rect x="90.03" width="1.43" class="h0"/><rect x="91.45" width="2.86" class="h2"/><rect x="94.30" width="1.43" class="h16"/><rect x="95.73" width="1.43" class="h2"/><rect x="97.15" width="1.43" class="h0"/><rect x="98.58" width="1.43" class="h24"/><rect x="100.00" width="1.44" class="h28"/><rect x="101.43" width="1.43" class="h11"/><rect x="102.85" width="1.43" class="h22"/><rect x="104.28" width="1.44" class="h30"/><rect x="105.70" width="1.43" class="h22"/><rect x="107.13" width="1.43" class="h3"/><rect x="108.55" width="1.46" class="h15"/><rect x="110.00" width="1.46" class="h5"/><rect x="111.46" width="1.46" class="h2"/><rect x="112.91" width="1.46" class="h10"/><rect x="114.37" width="1.46" class="h4"/><rect x="115.82" width="1.46" class="h3"/><rect x="117.27" width="1.46" class="h23"/><rect x="118.73" width="1.46" class="h4"/><rect x="120.18" width="1.46" class="h24"/><rect x="121.64" width="1.46" class="h2"/><rect x="123.09" width="1.46" class="h7"/><rect x="124.54" width="1.46" class="h19"/><rect x="126.00" width="1.46" class="h27"/><rect x="127.45" width="1.46" class="h6"/><rect x="128.91" width="1.46" class="h19"/><rect x="130.36" width="1.46" class="h2"/><rect x="131.82" width="1.46" class="h5"/><rect x="133.27" width="1.46" class="h26"/><rect x="134.72" width="1.46" class="h4"/><rect x="136.18" width="1.46" class="h1"/><rect x="137.63" width="2.92" class="h14"/><rect x="140.54" width="1.46" class="h3"/><rect x="141.99" width="1.46" class="h11"/><rect x="143.45" width="1.46" class="h3"/><rect x="144.90" width="1.46" class="h28"/><rect x="146.36" width="1.46" class="h0"/><rect x="147.81" width="1.46" class="h21"/><rect x="149.26" width="1.46" class="h27"/><rect x="150.72" width="1.46" class="h23"/><rect x="152.17" width="1.46" class="h1"/><rect x="153.63" width="1.46" class="h12"/><rect x="155.08" width="2.92" class="h28"/><rect x="157.99" width="1.46" class="h30"/><rect x="159.44" width="1.46" class="h3"/><rect x="160.90" width="1.46" class="h1"/><rect x="162.35" width="1.46" class="h27"/><rect x="163.81" width="1.46" class="h26"/><rect x="165.26" width="1.46" class="h11"/><rect x="166.71" width="1.46" class="h1"/><rect x="168.17" width="1.46" class="h3"/><rect x="169.62" width="2.92" class="h1"/><rect x="172.53" width="1.46" class="h2"/><rect x="173.98" width="1.46" class="h6"/><rect x="175.44" width="1.46" class="h2"/><rect x="176.89" width="1.46" class="h29"/><rect x="178.35" width="1.46" class="h4"/><rect x="179.80" width="1.46" class="h26"/><rect x="181.25" width="1.46" class="h27"/><rect x="182.70" width="1.46" class="h19"/><rect x="184.16" width="1.46" class="h23"/><rect x="185.61" width="1.46" class="h24"/><rect x="187.06" width="1.46" class="h3"/><rect x="188.51" width="1.46" class="h22"/><rect x="189.96" width="1.46" class="h28"/><rect x="191.42" width="1.46" class="h8"/><rect x="192.87" width="4.37" class="h28"/><rect x="197.22" width="1.46" class="h11"/><rect x="198.68" width="1.46" class="h30"/><rect x="200.13" width="1.46" class="h20"/><rect x="201.58" width="1.46" class="h29"/><rect x="203.03" width="1.46" class="h11"/><rect x="204.48" width="1.46" class="h24"/><rect x="205.94" width="1.46" class="h19"/><rect x="207.39" width="1.46" class="h30"/><rect x="208.84" width="1.46" class="h3"/><rect x="210.29" width="1.46" class="h27"/><rect x="211.74" width="1.46" class="h16"/><rect x="213.20" width="1.46" class="h24"/><rect x="214.65" width="2.91" class="h23"/><rect x="217.55" width="1.46" class="h14"/><rect x="219.00" width="1.46" class="h25"/><rect x="220.46" width="1.46" class="h4"/><rect x="221.91" width="2.91" class="h27"/><rect x="224.81" width="1.46" class="h3"/><rect x="226.26" width="1.46" class="h15"/><rect x="227.72" width="1.46" class="h6"/><rect x="229.17" width="1.46" class="h15"/><rect x="230.62" width="1.46" class="h27"/><rect x="232.07" width="1.46" class="h23"/><rect x="233.52" width="1.46" class="h24"/><rect x="234.98" width="1.46" class="h27"/><rect x="236.43" width="1.46" class="h1"/><rect x="237.88" width="1.46" class="h6"/><rect x="239.33" width="1.46" class="h28"/><rect x="240.78" width="1.46" class="h2"/><rect x="242.24" width="1.46" class="h29"/><rect x="243.69" width="1.46" class="h28"/><rect x="245.14" width="1.46" class="h24"/><rect x="246.59" width="1.46" class="h30"/><rect x="248.04" width="1.46" class="h25"/><rect x="249.50" width="1.46" class="h28"/><rect x="250.95" width="1.46" class="h20"/><rect x="252.40" width="1.43" class="h26"/><rect x="253.82" width="1.43" class="h27"/><rect x="255.25" width="1.43" class="h28"/><rect x="256.67" width="1.43" class="h14"/><rect x="258.09" width="1.43" class="h29"/><rect x="259.52" width="1.43" class="h19"/><rect x="260.94" width="1.43" class="h26"/><rect x="262.36" width="1.43" class="h29"/><rect x="263.79" width="1.43" class="h27"/><rect x="265.21" width="1.43" class="h3"/><rect x="266.64" width="1.43" class="h2"/><rect x="268.06" width="1.43" class="h28"/><rect x="269.48" width="1.43" class="h15"/><rect x="270.91" width="1.43" class="h30"/><rect x="272.33" width="2.86" class="h28"/><rect x="275.18" width="1.43" class="h24"/><rect x="276.60" width="1.43" class="h26"/><rect x="278.02" width="1.43" class="h25"/><rect x="279.45" width="1.43" class="h28"/><rect x="280.87" width="1.43" class="h1"/><rect x="282.29" width="1.43" class="h23"/><rect x="283.72" width="1.43" class="h7"/><rect x="285.14" width="1.43" class="h26"/><rect x="286.56" width="1.43" class="h3"/><rect x="287.99" width="1.43" class="h30"/><rect x="289.41" width="1.43" class="h29"/><rect x="290.84" width="1.43" class="h7"/><rect x="292.26" width="1.43" class="h21"/><rect x="293.68" width="1.43" class="h29"/><rect x="295.11" width="1.43" class="h16"/><rect x="296.53" width="1.43" class="h8"/><rect x="297.95" width="1.43" class="h3"/><rect x="299.38" width="1.43" class="h9"/><rect x="300.80" width="1.43" class="h23"/><rect x="302.22" width="1.43" class="h30"/><rect x="303.65" width="1.43" class="h23"/><rect x="305.07" width="1.43" class="h2"/><rect x="306.49" width="1.43" class="h24"/><rect x="307.92" width="1.43" class="h16"/><rect x="309.34" width="1.43" class="h21"/><rect x="310.76" width="1.43" class="h3"/><rect x="312.19" width="1.43" class="h30"/><rect x="313.61" width="1.43" class="h6"/><rect x="315.04" width="1.43" class="h8"/><rect x="316.46" width="1.43" class="h6"/><rect x="317.88" width="1.43" class="h27"/><rect x="319.31" width="1.43" class="h22"/><rect x="320.73" width="1.43" class="h26"/><rect x="322.15" width="1.43" class="h28"/><rect x="323.58" width="1.43" class="h19"/></g><g transform="translate(0,188.58)"><rect x="37.30" width="1.43" class="h26"/><rect x="38.72" width="1.44" class="h3"/><rect x="40.15" width="1.43" class="h5"/><rect x="41.57" width="1.44" class="h27"/><rect x="43.00" width="1.43" class="h10"/><rect x="44.42" width="1.44" class="h20"/><rect x="45.85" width="1.43" class="h23"/><rect x="47.27" width="1.44" class="h3"/><rect x="48.70" width="1.43" class="h6"/><rect x="50.12" width="1.43" class="h2"/><rect x="51.55" width="1.44" class="h16"/><rect x="52.98" width="1.44" class="h1"/><rect x="54.40" width="1.43" class="h27"/><rect x="55.83" width="1.43" class="h6"/><rect x="57.25" width="1.43" class="h14"/><rect x="58.67" width="1.44" class="h5"/><rect x="60.10" width="2.86" class="h23"/><rect x="62.95" width="1.43" class="h1"/><rect x="64.38" width="1.43" class="h28"/><rect x="65.80" width="1.43" class="h3"/><rect x="67.22" width="2.86" class="h15"/><rect x="70.08" width="1.43" class="h5"/><rect x="71.50" width="1.44" class="h27"/><rect x="72.93" width="1.43" class="h20"/><rect x="74.35" width="1.43" class="h30"/><rect x="75.78" width="1.43" class="h0"/><rect x="77.20" width="1.43" class="h28"/><rect x="78.62" width="1.44" class="h25"/><rect x="80.05" width="1.43" class="h11"/><rect x="81.48" width="1.43" class="h10"/><rect x="82.90" width="1.43" class="h25"/><rect x="84.33" width="1.43" class="h3"/><rect x="85.75" width="1.44" class="h7"/><rect x="87.18" width="1.43" class="h1"/><rect x="88.60" width="1.43" class="h2"/><rect x="90.03" width="1.43" class="h30"/><rect x="91.45" width="1.43" class="h10"/><rect x="92.88" width="1.44" class="h4"/><rect x="94.30" width="1.43" class="h7"/><rect x="95.73" width="1.43" class="h27"/><rect x="97.15" width="1.43" class="h1"/><rect x="98.58" width="1.43" class="h28"/><rect x="100.00" width="1.44" class="h1"/><rect x="101.43" width="2.86" class="h3"/><rect x="104.28" width="1.44" class="h19"/><rect x="105.70" width="1.43" class="h3"/><rect x="107.13" width="1.43" class="h2"/><rect x="108.55" width="1.46" class="h30"/><rect x="110.00" width="1.46" class="h3"/><rect x="111.46" width="1.46" class="h7"/><rect x="112.91" width="1.46" class="h6"/><rect x="114.37" width="1.46" class="h24"/><rect x="115.82" width="1.46" class="h27"/><rect x="117.27" width="1.46" class="h3"/><rect x="118.73" width="1.46" class="h21"/><rect x="120.18" width="1.46" class="h29"/><rect x="121.64" width="1.46" class="h3"/><rect x="123.09" width="1.46" class="h7"/><rect x="124.54" width="1.46" class="h4"/><rect x="126.00" width="2.92" class="h0"/><rect x="128.91" width="1.46" class="h27"/><rect x="130.36" width="1.46" class="h19"/><rect x="131.82" width="1.46" class="h10"/><rect x="133.27" width="1.46" class="h4"/><rect x="134.72" width="1.46" class="h28"/><rect x="136.18" width="1.46" class="h27"/><rect x="137.63" width="1.46" class="h23"/><rect x="139.09" width="1.46" class="h26"/><rect x="140.54" width="1.46" class="h21"/><rect x="141.99" width="1.46" class="h14"/><rect x="143.45" width="1.46" class="h25"/><rect x="144.90" width="1.46" class="h2"/><rect x="146.36" width="1.46" class="h28"/><rect x="147.81" width="2.92" class="h21"/><rect x="150.72" width="1.46" class="h25"/><rect x="152.17" width="1.46" class="h26"/><rect x="153.63" width="1.46" class="h3"/><rect x="155.08" width="1.46" class="h30"/><rect x="156.53" width="1.46" class="h14"/><rect x="157.99" width="1.46" class="h1"/><rect x="159.44" width="1.46" class="h23"/><rect x="160.90" width="2.92" class="h29"/><rect x="163.81" width="1.46" class="h7"/><rect x="165.26" width="1.46" class="h2"/><rect x="166.71" width="1.46" class="h23"/><rect x="168.17" width="1.46" class="h28"/><rect x="169.62" width="1.46" class="h10"/><rect x="171.08" width="1.46" class="h27"/><rect x="172.53" width="1.46" class="h15"/><rect x="173.98" width="1.46" class="h3"/><rect x="175.44" width="1.46" class="h15"/><rect x="176.89" width="1.46" class="h28"/><rect x="178.35" width="1.46" class="h3"/><rect x="179.80" width="1.46" class="h0"/><rect x="181.25" width="1.46" class="h18"/><rect x="182.70" width="1.46" class="h28"/><rect x="184.16" width="1.46" class="h10"/><rect x="185.61" width="1.46" class="h28"/><rect x="187.06" width="1.46" class="h8"/><rect x="188.51" width="1.46" class="h19"/><rect x="189.96" width="1.46" class="h28"/><rect x="191.42" width="2.91" class="h27"/><rect x="194.32" width="1.46" class="h2"/><rect x="195.77" width="1.46" class="h14"/><rect x="197.22" width="1.46" class="h28"/><rect x="198.68" width="1.46" class="h4"/><rect x="200.13" width="1.46" class="h6"/><rect x="201.58" width="1.46" class="h23"/><rect x="203.03" width="1.46" class="h2"/><rect x="204.48" width="1.46" class="h28"/><rect x="205.94" width="1.46" class="h20"/><rect x="207.39" width="1.46" class="h15"/><rect x="208.84" width="1.46" class="h28"/><rect x="210.29" width="1.46" class="h3"/><rect x="211.74" width="1.46" class="h2"/><rect x="213.20" width="1.46" class="h16"/><rect x="214.65" width="1.46" class="h25"/><rect x="216.10" width="1.46" class="h14"/><rect x="217.55" width="1.46" class="h0"/><rect x="219.00" width="1.46" class="h22"/><rect x="220.46" width="1.46" class="h29"/><rect x="221.91" width="5.82" class="h23"/><rect x="227.72" width="1.46" class="h29"/><rect x="229.17" width="1.46" class="h6"/><rect x="230.62" width="1.46" class="h28"/><rect x="232.07" width="1.46" class="h9"/><rect x="233.52" width="1.46" class="h15"/><rect x="234.98" width="1.46" class="h28"/><rect x="236.43" width="1.46" class="h1"/><rect x="237.88" width="1.46" class="h29"/><rect x="239.33" width="1.46" class="h26"/><rect x="240.78" width="1.46" class="h22"/><rect x="242.24" width="1.46" class="h25"/><rect x="243.69" width="1.46" class="h18"/><rect x="245.14" width="1.46" class="h7"/><rect x="246.59" width="1.46" class="h29"/><rect x="248.04" width="1.46" class="h24"/><rect x="249.50" width="1.46" class="h20"/><rect x="250.95" width="1.46" class="h24"/><rect x="252.40" width="1.43" class="h15"/><rect x="253.82" width="1.43" class="h27"/><rect x="255.25" width="1.43" class="h19"/><rect x="256.67" width="1.43" class="h11"/><rect x="258.09" width="1.43" class="h8"/><rect x="259.52" width="1.43" class="h26"/><rect x="260.94" width="1.43" class="h23"/><rect x="262.36" width="1.43" class="h18"/><rect x="263.79" width="2.86" class="h27"/><rect x="266.64" width="1.43" class="h16"/><rect x="268.06" width="1.43" class="h1"/><rect x="269.48" width="1.43" class="h27"/><rect x="270.91" width="1.43" class="h28"/><rect x="272.33" width="1.43" class="h1"/><rect x="273.75" width="1.43" class="h19"/><rect x="275.18" width="1.43" class="h1"/><rect x="276.60" width="2.86" class="h27"/><rect x="279.45" width="1.43" class="h25"/><rect x="280.87" width="1.43" class="h23"/><rect x="282.29" width="1.43" class="h28"/><rect x="283.72" width="1.43" class="h22"/><rect x="285.14" width="2.86" class="h3"/><rect x="287.99" width="1.43" class="h5"/><rect x="289.41" width="1.43" class="h6"/><rect x="290.84" width="1.43" class="h27"/><rect x="292.26" width="1.43" class="h29"/><rect x="293.68" width="1.43" class="h1"/><rect x="295.11" width="1.43" class="h24"/><rect x="296.53" width="2.86" class="h2"/><rect x="299.38" width="1.43" class="h26"/><rect x="300.80" width="1.43" class="h3"/><rect x="302.22" width="1.43" class="h22"/><rect x="303.65" width="1.43" class="h14"/><rect x="305.07" width="1.43" class="h28"/><rect x="306.49" width="1.43" class="h5"/><rect x="307.92" width="1.43" class="h2"/><rect x="309.34" width="1.43" class="h27"/><rect x="310.76" width="1.43" class="h20"/><rect x="312.19" width="1.43" class="h15"/><rect x="313.61" width="1.43" class="h24"/><rect x="315.04" width="1.43" class="h3"/><rect x="316.46" width="1.43" class="h28"/><rect x="317.88" width="1.43" class="h24"/><rect x="319.31" width="1.43" class="h5"/><rect x="320.73" width="1.43" class="h7"/><rect x="322.15" width="1.43" class="h23"/><rect x="323.58" width="1.43" class="h6"/></g><g transform="translate(0,210.80)"><rect x="37.30" width="1.43" class="h6"/><rect x="38.72" width="1.44" class="h26"/><rect x="40.15" width="1.43" class="h21"/><rect x="41.57" width="1.44" class="h4"/><rect x="43.00" width="1.43" class="h1"/><rect x="44.42" width="1.44" class="h4"/><rect x="45.85" width="1.43" class="h3"/><rect x="47.27" width="1.44" class="h20"/><rect x="48.70" width="1.43" class="h7"/><rect x="50.12" width="1.43" class="h1"/><rect x="51.55" width="1.44" class="h19"/><rect x="52.98" width="1.44" class="h3"/><rect x="54.40" width="1.43" class="h14"/><rect x="55.83" width="1.43" class="h1"/><rect x="57.25" width="1.43" class="h9"/><rect x="58.67" width="1.44" class="h25"/><rect x="60.10" width="1.44" class="h29"/><rect x="61.53" width="1.43" class="h3"/><rect x="62.95" width="1.43" class="h15"/><rect x="64.38" width="1.43" class="h6"/><rect x="65.80" width="1.43" class="h3"/><rect x="67.22" width="1.44" class="h6"/><rect x="68.65" width="1.43" class="h12"/><rect x="70.08" width="2.86" class="h3"/><rect x="72.93" width="1.43" class="h6"/><rect x="74.35" width="1.43" class="h5"/><rect x="75.78" width="1.43" class="h0"/><rect x="77.20" width="1.43" class="h27"/><rect x="78.62" width="1.44" class="h29"/><rect x="80.05" width="1.43" class="h11"/><rect x="81.48" width="1.43" class="h1"/><rect x="82.90" width="1.43" class="h7"/><rect x="84.33" width="1.43" class="h2"/><rect x="85.75" width="1.44" class="h9"/><rect x="87.18" width="1.43" class="h29"/><rect x="88.60" width="1.43" class="h9"/><rect x="90.03" width="1.43" class="h2"/><rect x="91.45" width="1.43" class="h0"/><rect x="92.88" width="1.44" class="h6"/><rect x="94.30" width="1.43" class="h1"/><rect x="95.73" width="1.43" class="h8"/><rect x="97.15" width="1.43" class="h0"/><rect x="98.58" width="1.43" class="h14"/><rect x="100.00" width="1.44" class="h21"/><rect x="101.43" width="1.43" class="h24"/><rect x="102.85" width="1.43" class="h16"/><rect x="104.28" width="1.44" class="h2"/><rect x="105.70" width="1.43" class="h0"/><rect x="107.13" width="1.43" class="h15"/><rect x="108.55" width="1.46" class="h29"/><rect x="110.00" width="2.92" class="h11"/><rect x="112.91" width="1.46" class="h3"/><rect x="114.37" width="1.46" class="h23"/><rect x="115.82" width="1.46" class="h16"/><rect x="117.27" width="1.46" class="h23"/><rect x="118.73" width="1.46" class="h1"/><rect x="120.18" width="1.46" class="h27"/><rect x="121.64" width="1.46" class="h0"/><rect x="123.09" width="1.46" class="h7"/><rect x="124.54" width="1.46" class="h5"/><rect x="126.00" width="1.46" class="h23"/><rect x="127.45" width="1.46" class="h0"/><rect x="128.91" width="1.46" class="h11"/><rect x="130.36" width="1.46" class="h6"/><rect x="131.82" width="1.46" class="h22"/><rect x="133.27" width="2.92" class="h0"/><rect x="136.18" width="1.46" class="h28"/><rect x="137.63" width="1.46" class="h27"/><rect x="139.09" width="1.46" class="h4"/><rect x="140.54" width="1.46" class="h1"/><rect x="141.99" width="1.46" class="h15"/><rect x="143.45" width="1.46" class="h27"/><rect x="144.90" width="1.46" class="h23"/><rect x="146.36" width="1.46" class="h25"/><rect x="147.81" width="1.46" class="h20"/><rect x="149.26" width="1.46" class="h4"/><rect x="150.72" width="1.46" class="h15"/><rect x="152.17" width="1.46" class="h25"/><rect x="153.63" width="1.46" class="h28"/><rect x="155.08" width="1.46" class="h2"/><rect x="156.53" width="1.46" class="h0"/><rect x="157.99" width="1.46" class="h21"/><rect x="159.44" width="1.46" class="h4"/><rect x="160.90" width="1.46" class="h28"/><rect x="162.35" width="1.46" class="h0"/><rect x="163.81" width="1.46" class="h3"/><rect x="165.26" width="1.46" class="h2"/><rect x="166.71" width="1.46" class="h5"/><rect x="168.17" width="1.46" class="h28"/><rect x="169.62" width="1.46" class="h30"/><rect x="171.08" width="1.46" class="h4"/><rect x="172.53" width="1.46" class="h15"/><rect x="173.98" width="1.46" class="h11"/><rect x="175.44" width="1.46" class="h1"/><rect x="176.89" width="1.46" class="h2"/><rect x="178.35" width="1.46" class="h3"/><rect x="179.80" width="1.46" class="h14"/><rect x="181.25" width="1.46" class="h28"/><rect x="182.70" width="1.46" class="h24"/><rect x="184.16" width="1.46" class="h14"/><rect x="185.61" width="1.46" class="h4"/><rect x="187.06" width="1.46" class="h18"/><rect x="188.51" width="1.46" class="h1"/><rect x="189.96" width="1.46" class="h27"/><rect x="191.42" width="1.46" class="h22"/><rect x="192.87" width="1.46" class="h25"/><rect x="194.32" width="1.46" class="h27"/><rect x="195.77" width="1.46" class="h6"/><rect x="197.22" width="1.46" class="h27"/><rect x="198.68" width="1.46" class="h28"/><rect x="200.13" width="1.46" class="h29"/><rect x="201.58" width="1.46" class="h22"/><rect x="203.03" width="1.46" class="h30"/><rect x="204.48" width="1.46" class="h28"/><rect x="205.94" width="1.46" class="h24"/><rect x="207.39" width="1.46" class="h1"/><rect x="208.84" width="1.46" class="h9"/><rect x="210.29" width="1.46" class="h25"/><rect x="211.74" width="1.46" class="h28"/><rect x="213.20" width="1.46" class="h25"/><rect x="214.65" width="1.46" class="h27"/><rect x="216.10" width="1.46" class="h3"/><rect x="217.55" width="1.46" class="h30"/><rect x="219.00" width="1.46" class="h23"/><rect x="220.46" width="1.46" class="h6"/><rect x="221.91" width="1.46" class="h19"/><rect x="223.36" width="1.46" class="h18"/><rect x="224.81" width="1.46" class="h28"/><rect x="226.26" width="1.46" class="h23"/><rect x="227.72" width="1.46" class="h25"/><rect x="229.17" width="1.46" class="h15"/><rect x="230.62" width="1.46" class="h16"/><rect x="232.07" width="1.46" class="h30"/><rect x="233.52" width="1.46" class="h0"/><rect x="234.98" width="2.91" class="h23"/><rect x="237.88" width="1.46" class="h10"/><rect x="239.33" width="1.46" class="h29"/><rect x="240.78" width="1.46" class="h11"/><rect x="242.24" width="1.46" class="h28"/><rect x="243.69" width="1.46" class="h29"/><rect x="245.14" width="1.46" class="h1"/><rect x="246.59" width="1.46" class="h23"/><rect x="248.04" width="1.46" class="h25"/><rect x="249.50" width="2.91" class="h27"/><rect x="252.40" width="1.43" class="h22"/><rect x="253.82" width="1.43" class="h29"/><rect x="255.25" width="1.43" class="h26"/><rect x="256.67" width="1.43" class="h2"/><rect x="258.09" width="1.43" class="h11"/><rect x="259.52" width="1.43" class="h18"/><rect x="260.94" width="1.43" class="h4"/><rect x="262.36" width="2.86" class="h2"/><rect x="265.21" width="1.43" class="h30"/><rect x="266.64" width="1.43" class="h26"/><rect x="268.06" width="1.43" class="h24"/><rect x="269.48" width="1.43" class="h28"/><rect x="270.91" width="1.43" class="h23"/><rect x="272.33" width="1.43" class="h1"/><rect x="273.75" width="1.43" class="h14"/><rect x="275.18" width="1.43" class="h21"/><rect x="276.60" width="1.43" class="h5"/><rect x="278.02" width="1.43" class="h28"/><rect x="279.45" width="1.43" class="h26"/><rect x="280.87" width="1.43" class="h6"/><rect x="282.29" width="1.43" class="h0"/><rect x="283.72" width="1.43" class="h23"/><rect x="285.14" width="2.86" class="h27"/><rect x="287.99" width="1.43" class="h19"/><rect x="289.41" width="1.43" class="h30"/><rect x="290.84" width="1.43" class="h21"/><rect x="292.26" width="1.43" class="h28"/><rect x="293.68" width="1.43" class="h23"/><rect x="295.11" width="1.43" class="h28"/><rect x="296.53" width="1.43" class="h23"/><rect x="297.95" width="1.43" class="h26"/><rect x="299.38" width="2.86" class="h27"/><rect x="302.22" width="1.43" class="h16"/><rect x="303.65" width="1.43" class="h24"/><rect x="305.07" width="1.43" class="h4"/><rect x="306.49" width="1.43" class="h25"/><rect x="307.92" width="1.43" class="h30"/><rect x="309.34" width="1.43" class="h1"/><rect x="310.76" width="1.43" class="h9"/><rect x="312.19" width="1.43" class="h30"/><rect x="313.61" width="1.43" class="h29"/><rect x="315.04" width="1.43" class="h26"/><rect x="316.46" width="1.43" class="h16"/><rect x="317.88" width="1.43" class="h1"/><rect x="319.31" width="2.86" class="h28"/><rect x="322.15" width="1.43" class="h15"/><rect x="323.58" width="1.43" class="h29"/></g><g transform="translate(0,233.03)"><rect x="37.30" width="1.43" class="h23"/><rect x="38.72" width="1.44" class="h11"/><rect x="40.15" width="2.86" class="h2"/><rect x="43.00" width="2.86" class="h29"/><rect x="45.85" width="1.43" class="h3"/><rect x="47.27" width="1.44" class="h22"/><rect x="48.70" width="1.43" class="h1"/><rect x="50.12" width="1.43" class="h10"/><rect x="51.55" width="1.44" class="h5"/><rect x="52.98" width="1.44" class="h24"/><rect x="54.40" width="1.43" class="h5"/><rect x="55.83" width="1.43" class="h6"/><rect x="57.25" width="2.86" class="h1"/><rect x="60.10" width="2.86" class="h3"/><rect x="62.95" width="1.43" class="h16"/><rect x="64.38" width="1.43" class="h11"/><rect x="65.80" width="1.43" class="h20"/><rect x="67.22" width="1.44" class="h6"/><rect x="68.65" width="1.43" class="h24"/><rect x="70.08" width="1.43" class="h1"/><rect x="71.50" width="1.44" class="h8"/><rect x="72.93" width="1.43" class="h11"/><rect x="74.35" width="1.43" class="h30"/><rect x="75.78" width="2.86" class="h5"/><rect x="78.62" width="2.86" class="h14"/><rect x="81.48" width="1.43" class="h2"/><rect x="82.90" width="1.43" class="h3"/><rect x="84.33" width="1.43" class="h14"/><rect x="85.75" width="1.44" class="h1"/><rect x="87.18" width="1.43" class="h3"/><rect x="88.60" width="1.43" class="h1"/><rect x="90.03" width="1.43" class="h26"/><rect x="91.45" width="1.43" class="h15"/><rect x="92.88" width="1.44" class="h5"/><rect x="94.30" width="1.43" class="h27"/><rect x="95.73" width="1.43" class="h1"/><rect x="97.15" width="1.43" class="h28"/><rect x="98.58" width="1.43" class="h9"/><rect x="100.00" width="1.44" class="h21"/><rect x="101.43" width="1.43" class="h0"/><rect x="102.85" width="1.43" class="h6"/><rect x="104.28" width="1.44" class="h22"/><rect x="105.70" width="1.43" class="h5"/><rect x="107.13" width="1.43" class="h27"/><rect x="108.55" width="1.46" class="h16"/><rect x="110.00" width="1.46" class="h27"/><rect x="111.46" width="1.46" class="h2"/><rect x="112.91" width="1.46" class="h24"/><rect x="114.37" width="2.92" class="h25"/><rect x="117.27" width="2.92" class="h2"/><rect x="120.18" width="1.46" class="h3"/><rect x="121.64" width="1.46" class="h22"/><rect x="123.09" width="1.46" class="h14"/><rect x="124.54" width="1.46" class="h23"/><rect x="126.00" width="2.92" class="h27"/><rect x="128.91" width="1.46" class="h3"/><rect x="130.36" width="1.46" class="h5"/><rect x="131.82" width="1.46" class="h20"/><rect x="133.27" width="1.46" class="h24"/><rect x="134.72" width="1.46" class="h2"/><rect x="136.18" width="1.46" class="h5"/><rect x="137.63" width="1.46" class="h29"/><rect x="139.09" width="1.46" class="h1"/><rect x="140.54" width="1.46" class="h29"/><rect x="141.99" width="1.46" class="h26"/><rect x="143.45" width="1.46" class="h18"/><rect x="144.90" width="1.46" class="h15"/><rect x="146.36" width="1.46" class="h18"/><rect x="147.81" width="1.46" class="h7"/><rect x="149.26" width="1.46" class="h0"/><rect x="150.72" width="1.46" class="h27"/><rect x="152.17" width="1.46" class="h26"/><rect x="153.63" width="1.46" class="h10"/><rect x="155.08" width="1.46" class="h2"/><rect x="156.53" width="1.46" class="h5"/><rect x="157.99" width="1.46" class="h28"/><rect x="159.44" width="1.46" class="h4"/><rect x="160.90" width="1.46" class="h20"/><rect x="162.35" width="1.46" class="h5"/><rect x="163.81" width="1.46" class="h2"/><rect x="165.26" width="1.46" class="h0"/><rect x="166.71" width="1.46" class="h8"/><rect x="168.17" width="1.46" class="h23"/><rect x="169.62" width="1.46" class="h28"/><rect x="171.08" width="1.46" class="h6"/><rect x="172.53" width="1.46" class="h0"/><rect x="173.98" width="1.46" class="h30"/><rect x="175.44" width="1.46" class="h29"/><rect x="176.89" width="1.46" class="h15"/><rect x="178.35" width="1.46" class="h27"/><rect x="179.80" width="1.46" class="h29"/><rect x="181.25" width="1.46" class="h14"/><rect x="182.70" width="1.46" class="h19"/><rect x="184.16" width="1.46" class="h28"/><rect x="185.61" width="1.46" class="h24"/><rect x="187.06" width="1.46" class="h27"/><rect x="188.51" width="1.46" class="h29"/><rect x="189.96" width="1.46" class="h3"/><rect x="191.42" width="1.46" class="h28"/><rect x="192.87" width="1.46" class="h19"/><rect x="194.32" width="1.46" class="h0"/><rect x="195.77" width="1.46" class="h27"/><rect x="197.22" width="1.46" class="h29"/><rect x="198.68" width="1.46" class="h23"/><rect x="200.13" width="1.46" class="h21"/><rect x="201.58" width="1.46" class="h11"/><rect x="203.03" width="1.46" class="h27"/><rect x="204.48" width="1.46" class="h23"/><rect x="205.94" width="1.46" class="h24"/><rect x="207.39" width="1.46" class="h26"/><rect x="208.84" width="1.46" class="h16"/><rect x="210.29" width="1.46" class="h1"/><rect x="211.74" width="1.46" class="h5"/><rect x="213.20" width="1.46" class="h1"/><rect x="214.65" width="1.46" class="h24"/><rect x="216.10" width="1.46" class="h26"/><rect x="217.55" width="1.46" class="h9"/><rect x="219.00" width="1.46" class="h16"/><rect x="220.46" width="1.46" class="h26"/><rect x="221.91" width="1.46" class="h29"/><rect x="223.36" width="1.46" class="h3"/><rect x="224.81" width="1.46" class="h16"/><rect x="226.26" width="1.46" class="h23"/><rect x="227.72" width="1.46" class="h30"/><rect x="229.17" width="1.46" class="h19"/><rect x="230.62" width="1.46" class="h29"/><rect x="232.07" width="1.46" class="h27"/><rect x="233.52" width="1.46" class="h28"/><rect x="234.98" width="1.46" class="h24"/><rect x="236.43" width="1.46" class="h29"/><rect x="237.88" width="1.46" class="h25"/><rect x="239.33" width="1.46" class="h27"/><rect x="240.78" width="1.46" class="h12"/><rect x="242.24" width="1.46" class="h30"/><rect x="243.69" width="1.46" class="h15"/><rect x="245.14" width="1.46" class="h18"/><rect x="246.59" width="1.46" class="h5"/><rect x="248.04" width="1.46" class="h28"/><rect x="249.50" width="1.46" class="h20"/><rect x="250.95" width="1.46" class="h7"/><rect x="252.40" width="1.43" class="h27"/><rect x="253.82" width="1.43" class="h11"/><rect x="255.25" width="2.86" class="h28"/><rect x="258.09" width="1.43" class="h24"/><rect x="259.52" width="1.43" class="h21"/><rect x="260.94" width="1.43" class="h6"/><rect x="262.36" width="1.43" class="h26"/><rect x="263.79" width="1.43" class="h22"/><rect x="265.21" width="1.43" class="h26"/><rect x="266.64" width="1.43" class="h29"/><rect x="268.06" width="1.43" class="h16"/><rect x="269.48" width="1.43" class="h2"/><rect x="270.91" width="1.43" class="h25"/><rect x="272.33" width="1.43" class="h21"/><rect x="273.75" width="1.43" class="h25"/><rect x="275.18" width="1.43" class="h29"/><rect x="276.60" width="1.43" class="h22"/><rect x="278.02" width="1.43" class="h14"/><rect x="279.45" width="1.43" class="h11"/><rect x="280.87" width="2.86" class="h29"/><rect x="283.72" width="1.43" class="h30"/><rect x="285.14" width="1.43" class="h0"/><rect x="286.56" width="1.43" class="h5"/><rect x="287.99" width="1.43" class="h28"/><rect x="289.41" width="1.43" class="h30"/><rect x="290.84" width="1.43" class="h4"/><rect x="292.26" width="1.43" class="h6"/><rect x="293.68" width="1.43" class="h27"/><rect x="295.11" width="1.43" class="h29"/><rect x="296.53" width="1.43" class="h15"/><rect x="297.95" width="1.43" class="h3"/><rect x="299.38" width="1.43" class="h24"/><rect x="300.80" width="1.43" class="h16"/><rect x="302.22" width="1.43" class="h23"/><rect x="303.65" width="1.43" class="h1"/><rect x="305.07" width="1.43" class="h25"/><rect x="306.49" width="1.43" class="h30"/><rect x="307.92" width="1.43" class="h3"/><rect x="309.34" width="1.43" class="h19"/><rect x="310.76" width="1.43" class="h27"/><rect x="312.19" width="1.43" class="h21"/><rect x="313.61" width="1.43" class="h25"/><rect x="315.04" width="1.43" class="h0"/><rect x="316.46" width="1.43" class="h26"/><rect x="317.88" width="1.43" class="h28"/><rect x="319.31" width="1.43" class="h0"/><rect x="320.73" width="1.43" class="h28"/><rect x="322.15" width="1.43" class="h24"/><rect x="323.58" width="1.43" class="h8"/></g><g transform="translate(0,255.25)"><rect x="37.30" width="1.43" class="h3"/><rect x="38.72" width="1.44" class="h29"/><rect x="40.15" width="1.43" class="h2"/><rect x="41.57" width="1.44" class="h25"/><rect x="43.00" width="1.43" class="h7"/><rect x="44.42" width="1.44" class="h2"/><rect x="45.85" width="1.43" class="h19"/><rect x="47.27" width="1.44" class="h6"/><rect x="48.70" width="1.43" class="h15"/><rect x="50.12" width="1.43" class="h14"/><rect x="51.55" width="1.44" class="h2"/><rect x="52.98" width="1.44" class="h8"/><rect x="54.40" width="1.43" class="h30"/><rect x="55.83" width="2.86" class="h27"/><rect x="58.67" width="2.86" class="h3"/><rect x="61.53" width="1.43" class="h22"/><rect x="62.95" width="1.43" class="h3"/><rect x="64.38" width="1.43" class="h11"/><rect x="65.80" width="1.43" class="h16"/><rect x="67.22" width="1.44" class="h25"/><rect x="68.65" width="1.43" class="h0"/><rect x="70.08" width="1.43" class="h6"/><rect x="71.50" width="1.44" class="h3"/><rect x="72.93" width="1.43" class="h11"/><rect x="74.35" width="2.86" class="h0"/><rect x="77.20" width="1.43" class="h6"/><rect x="78.62" width="1.44" class="h28"/><rect x="80.05" width="1.43" class="h3"/><rect x="81.48" width="1.43" class="h12"/><rect x="82.90" width="1.43" class="h2"/><rect x="84.33" width="1.43" class="h6"/><rect x="85.75" width="2.86" class="h2"/><rect x="88.60" width="1.43" class="h1"/><rect x="90.03" width="1.43" class="h6"/><rect x="91.45" width="1.43" class="h0"/><rect x="92.88" width="1.44" class="h7"/><rect x="94.30" width="1.43" class="h16"/><rect x="95.73" width="1.43" class="h3"/><rect x="97.15" width="1.43" class="h2"/><rect x="98.58" width="1.43" class="h1"/><rect x="100.00" width="1.44" class="h10"/><rect x="101.43" width="1.43" class="h21"/><rect x="102.85" width="1.43" class="h6"/><rect x="104.28" width="1.44" class="h23"/><rect x="105.70" width="1.43" class="h4"/><rect x="107.13" width="1.43" class="h5"/><rect x="108.55" width="1.46" class="h16"/><rect x="110.00" width="1.46" class="h20"/><rect x="111.46" width="1.46" class="h7"/><rect x="112.91" width="1.46" class="h0"/><rect x="114.37" width="1.46" class="h10"/><rect x="115.82" width="1.46" class="h1"/><rect x="117.27" width="1.46" class="h27"/><rect x="118.73" width="1.46" class="h11"/><rect x="120.18" width="1.46" class="h6"/><rect x="121.64" width="1.46" class="h21"/><rect x="123.09" width="1.46" class="h25"/><rect x="124.54" width="1.46" class="h23"/><rect x="126.00" width="1.46" class="h15"/><rect x="127.45" width="1.46" class="h24"/><rect x="128.91" width="1.46" class="h4"/><rect x="130.36" width="2.92" class="h6"/><rect x="133.27" width="1.46" class="h2"/><rect x="134.72" width="1.46" class="h1"/><rect x="136.18" width="1.46" class="h28"/><rect x="137.63" width="1.46" class="h2"/><rect x="139.09" width="1.46" class="h5"/><rect x="140.54" width="1.46" class="h29"/><rect x="141.99" width="1.46" class="h1"/><rect x="143.45" width="1.46" class="h3"/><rect x="144.90" width="1.46" class="h2"/><rect x="146.36" width="1.46" class="h6"/><rect x="147.81" width="1.46" class="h1"/><rect x="149.26" width="1.46" class="h15"/><rect x="150.72" width="1.46" class="h3"/><rect x="152.17" width="1.46" class="h7"/><rect x="153.63" width="1.46" class="h29"/><rect x="155.08" width="1.46" class="h3"/><rect x="156.53" width="1.46" class="h30"/><rect x="157.99" width="1.46" class="h8"/><rect x="159.44" width="1.46" class="h28"/><rect x="160.90" width="1.46" class="h9"/><rect x="162.35" width="1.46" class="h1"/><rect x="163.81" width="1.46" class="h9"/><rect x="165.26" width="1.46" class="h18"/><rect x="166.71" width="1.46" class="h3"/><rect x="168.17" width="1.46" class="h28"/><rect x="169.62" width="1.46" class="h2"/><rect x="171.08" width="1.46" class="h3"/><rect x="172.53" width="1.46" class="h4"/><rect x="173.98" width="1.46" class="h2"/><rect x="175.44" width="1.46" class="h24"/><rect x="176.89" width="1.46" class="h15"/><rect x="178.35" width="1.46" class="h14"/><rect x="179.80" width="1.46" class="h16"/><rect x="181.25" width="1.46" class="h28"/><rect x="182.70" width="1.46" class="h7"/><rect x="184.16" width="1.46" class="h15"/><rect x="185.61" width="1.46" class="h9"/><rect x="187.06" width="1.46" class="h20"/><rect x="188.51" width="1.46" class="h1"/><rect x="189.96" width="1.46" class="h28"/><rect x="191.42" width="1.46" class="h30"/><rect x="192.87" width="1.46" class="h1"/><rect x="194.32" width="1.46" class="h29"/><rect x="195.77" width="1.46" class="h20"/><rect x="197.22" width="1.46" class="h27"/><rect x="198.68" width="1.46" class="h23"/><rect x="200.13" width="1.46" class="h16"/><rect x="201.58" width="1.46" class="h21"/><rect x="203.03" width="1.46" class="h7"/><rect x="204.48" width="1.46" class="h25"/><rect x="205.94" width="1.46" class="h27"/><rect x="207.39" width="1.46" class="h14"/><rect x="208.84" width="1.46" class="h0"/><rect x="210.29" width="1.46" class="h29"/><rect x="211.74" width="1.46" class="h2"/><rect x="213.20" width="1.46" class="h22"/><rect x="214.65" width="1.46" class="h14"/><rect x="216.10" width="1.46" class="h1"/><rect x="217.55" width="2.91" class="h27"/><rect x="220.46" width="1.46" class="h23"/><rect x="221.91" width="1.46" class="h24"/><rect x="223.36" width="1.46" class="h9"/><rect x="224.81" width="1.46" class="h28"/><rect x="226.26" width="1.46" class="h26"/><rect x="227.72" width="1.46" class="h1"/><rect x="229.17" width="1.46" class="h11"/><rect x="230.62" width="1.46" class="h25"/><rect x="232.07" width="2.91" class="h18"/><rect x="234.98" width="1.46" class="h25"/><rect x="236.43" width="1.46" class="h30"/><rect x="237.88" width="1.46" class="h27"/><rect x="239.33" width="1.46" class="h29"/><rect x="240.78" width="1.46" class="h23"/><rect x="242.24" width="1.46" class="h29"/><rect x="243.69" width="1.46" class="h7"/><rect x="245.14" width="1.46" class="h29"/><rect x="246.59" width="1.46" class="h23"/><rect x="248.04" width="1.46" class="h19"/><rect x="249.50" width="1.46" class="h30"/><rect x="250.95" width="1.46" class="h26"/><rect x="252.40" width="1.43" class="h20"/><rect x="253.82" width="1.43" class="h23"/><rect x="255.25" width="1.43" class="h16"/><rect x="256.67" width="1.43" class="h5"/><rect x="258.09" width="1.43" class="h18"/><rect x="259.52" width="1.43" class="h19"/><rect x="260.94" width="1.43" class="h3"/><rect x="262.36" width="1.43" class="h22"/><rect x="263.79" width="1.43" class="h16"/><rect x="265.21" width="1.43" class="h24"/><rect x="266.64" width="1.43" class="h26"/><rect x="268.06" width="1.43" class="h14"/><rect x="269.48" width="1.43" class="h3"/><rect x="270.91" width="1.43" class="h26"/><rect x="272.33" width="1.43" class="h27"/><rect x="273.75" width="1.43" class="h8"/><rect x="275.18" width="1.43" class="h14"/><rect x="276.60" width="1.43" class="h27"/><rect x="278.02" width="1.43" class="h7"/><rect x="279.45" width="1.43" class="h29"/><rect x="280.87" width="1.43" class="h24"/><rect x="282.29" width="1.43" class="h23"/><rect x="283.72" width="1.43" class="h29"/><rect x="285.14" width="2.86" class="h0"/><rect x="287.99" width="1.43" class="h21"/><rect x="289.41" width="1.43" class="h6"/><rect x="290.84" width="2.86" class="h29"/><rect x="293.68" width="1.43" class="h23"/><rect x="295.11" width="1.43" class="h28"/><rect x="296.53" width="1.43" class="h27"/><rect x="297.95" width="1.43" class="h28"/><rect x="299.38" width="1.43" class="h27"/><rect x="300.80" width="1.43" class="h26"/><rect x="302.22" width="1.43" class="h2"/><rect x="303.65" width="1.43" class="h11"/><rect x="305.07" width="1.43" class="h10"/><rect x="306.49" width="1.43" class="h30"/><rect x="307.92" width="1.43" class="h26"/><rect x="309.34" width="2.86" class="h29"/><rect x="312.19" width="1.43" class="h23"/><rect x="313.61" width="1.43" class="h28"/><rect x="315.04" width="1.43" class="h27"/><rect x="316.46" width="1.43" class="h3"/><rect x="317.88" width="1.43" class="h24"/><rect x="319.31" width="1.43" class="h30"/><rect x="320.73" width="1.43" class="h19"/><rect x="322.15" width="1.43" class="h15"/><rect x="323.58" width="1.43" class="h30"/></g><g transform="translate(0,277.48)"><rect x="37.30" width="1.43" class="h7"/><rect x="38.72" width="1.44" class="h3"/><rect x="40.15" width="1.43" class="h21"/><rect x="41.57" width="1.44" class="h12"/><rect x="43.00" width="1.43" class="h6"/><rect x="44.42" width="1.44" class="h28"/><rect x="45.85" width="1.43" class="h23"/><rect x="47.27" width="1.44" class="h1"/><rect x="48.70" width="1.43" class="h4"/><rect x="50.12" width="1.43" class="h6"/><rect x="51.55" width="1.44" class="h23"/><rect x="52.98" width="1.44" class="h0"/><rect x="54.40" width="1.43" class="h4"/><rect x="55.83" width="1.43" class="h1"/><rect x="57.25" width="1.43" class="h20"/><rect x="58.67" width="1.44" class="h11"/><rect x="60.10" width="2.86" class="h2"/><rect x="62.95" width="1.43" class="h27"/><rect x="64.38" width="1.43" class="h28"/><rect x="65.80" width="1.43" class="h4"/><rect x="67.22" width="1.44" class="h16"/><rect x="68.65" width="1.43" class="h15"/><rect x="70.08" width="1.43" class="h2"/><rect x="71.50" width="1.44" class="h28"/><rect x="72.93" width="1.43" class="h1"/><rect x="74.35" width="1.43" class="h23"/><rect x="75.78" width="1.43" class="h4"/><rect x="77.20" width="1.43" class="h16"/><rect x="78.62" width="1.44" class="h15"/><rect x="80.05" width="1.43" class="h6"/><rect x="81.48" width="1.43" class="h28"/><rect x="82.90" width="1.43" class="h5"/><rect x="84.33" width="1.43" class="h4"/><rect x="85.75" width="2.86" class="h3"/><rect x="88.60" width="1.43" class="h1"/><rect x="90.03" width="1.43" class="h2"/><rect x="91.45" width="1.43" class="h23"/><rect x="92.88" width="1.44" class="h2"/><rect x="94.30" width="1.43" class="h0"/><rect x="95.73" width="1.43" class="h3"/><rect x="97.15" width="1.43" class="h27"/><rect x="98.58" width="2.86" class="h3"/><rect x="101.43" width="1.43" class="h10"/><rect x="102.85" width="1.43" class="h9"/><rect x="104.28" width="1.44" class="h18"/><rect x="105.70" width="1.43" class="h1"/><rect x="107.13" width="1.43" class="h11"/><rect x="108.55" width="2.92" class="h2"/><rect x="111.46" width="1.46" class="h5"/><rect x="112.91" width="1.46" class="h1"/><rect x="114.37" width="1.46" class="h3"/><rect x="115.82" width="1.46" class="h0"/><rect x="117.27" width="1.46" class="h4"/><rect x="118.73" width="1.46" class="h1"/><rect x="120.18" width="1.46" class="h8"/><rect x="121.64" width="1.46" class="h1"/><rect x="123.09" width="1.46" class="h0"/><rect x="124.54" width="1.46" class="h2"/><rect x="126.00" width="1.46" class="h19"/><rect x="127.45" width="1.46" class="h29"/><rect x="128.91" width="1.46" class="h21"/><rect x="130.36" width="1.46" class="h29"/><rect x="131.82" width="1.46" class="h10"/><rect x="133.27" width="1.46" class="h21"/><rect x="134.72" width="1.46" class="h1"/><rect x="136.18" width="1.46" class="h28"/><rect x="137.63" width="1.46" class="h16"/><rect x="139.09" width="1.46" class="h27"/><rect x="140.54" width="1.46" class="h3"/><rect x="141.99" width="1.46" class="h6"/><rect x="143.45" width="1.46" class="h3"/><rect x="144.90" width="1.46" class="h6"/><rect x="146.36" width="1.46" class="h25"/><rect x="147.81" width="1.46" class="h7"/><rect x="149.26" width="1.46" class="h1"/><rect x="150.72" width="1.46" class="h24"/><rect x="152.17" width="1.46" class="h5"/><rect x="153.63" width="1.46" class="h6"/><rect x="155.08" width="1.46" class="h3"/><rect x="156.53" width="1.46" class="h8"/><rect x="157.99" width="1.46" class="h7"/><rect x="159.44" width="1.46" class="h26"/><rect x="160.90" width="1.46" class="h10"/><rect x="162.35" width="1.46" class="h16"/><rect x="163.81" width="1.46" class="h15"/><rect x="165.26" width="1.46" class="h1"/><rect x="166.71" width="1.46" class="h0"/><rect x="168.17" width="1.46" class="h14"/><rect x="169.62" width="1.46" class="h2"/><rect x="171.08" width="1.46" class="h29"/><rect x="172.53" width="1.46" class="h6"/><rect x="173.98" width="1.46" class="h16"/><rect x="175.44" width="1.46" class="h9"/><rect x="176.89" width="1.46" class="h6"/><rect x="178.35" width="1.46" class="h2"/><rect x="179.80" width="1.46" class="h29"/><rect x="181.25" width="1.46" class="h21"/><rect x="182.70" width="1.46" class="h28"/><rect x="184.16" width="1.46" class="h30"/><rect x="185.61" width="1.46" class="h25"/><rect x="187.06" width="1.46" class="h14"/><rect x="188.51" width="1.46" class="h2"/><rect x="189.96" width="1.46" class="h30"/><rect x="191.42" width="1.46" class="h0"/><rect x="192.87" width="1.46" class="h25"/><rect x="194.32" width="1.46" class="h28"/><rect x="195.77" width="1.46" class="h19"/><rect x="197.22" width="1.46" class="h27"/><rect x="198.68" width="1.46" class="h23"/><rect x="200.13" width="1.46" class="h2"/><rect x="201.58" width="1.46" class="h28"/><rect x="203.03" width="1.46" class="h10"/><rect x="204.48" width="1.46" class="h27"/><rect x="205.94" width="1.46" class="h29"/><rect x="207.39" width="1.46" class="h28"/><rect x="208.84" width="2.91" class="h29"/><rect x="211.74" width="1.46" class="h23"/><rect x="213.20" width="1.46" class="h26"/><rect x="214.65" width="1.46" class="h6"/><rect x="216.10" width="1.46" class="h15"/><rect x="217.55" width="1.46" class="h5"/><rect x="219.00" width="1.46" class="h2"/><rect x="220.46" width="1.46" class="h28"/><rect x="221.91" width="1.46" class="h21"/><rect x="223.36" width="1.46" class="h27"/><rect x="224.81" width="1.46" class="h16"/><rect x="226.26" width="1.46" class="h24"/><rect x="227.72" width="1.46" class="h26"/><rect x="229.17" width="1.46" class="h20"/><rect x="230.62" width="1.46" class="h24"/><rect x="232.07" width="1.46" class="h29"/><rect x="233.52" width="1.46" class="h10"/><rect x="234.98" width="1.46" class="h20"/><rect x="236.43" width="1.46" class="h25"/><rect x="237.88" width="1.46" class="h30"/><rect x="239.33" width="1.46" class="h3"/><rect x="240.78" width="1.46" class="h27"/><rect x="242.24" width="1.46" class="h26"/><rect x="243.69" width="1.46" class="h0"/><rect x="245.14" width="1.46" class="h4"/><rect x="246.59" width="1.46" class="h26"/><rect x="248.04" width="1.46" class="h14"/><rect x="249.50" width="1.46" class="h0"/><rect x="250.95" width="1.46" class="h4"/><rect x="252.40" width="1.43" class="h3"/><rect x="253.82" width="2.86" class="h28"/><rect x="256.67" width="1.43" class="h4"/><rect x="258.09" width="1.43" class="h18"/><rect x="259.52" width="1.43" class="h29"/><rect x="260.94" width="2.86" class="h27"/><rect x="263.79" width="1.43" class="h18"/><rect x="265.21" width="1.43" class="h25"/><rect x="266.64" width="1.43" class="h1"/><rect x="268.06" width="1.43" class="h24"/><rect x="269.48" width="1.43" class="h26"/><rect x="270.91" width="1.43" class="h24"/><rect x="272.33" width="1.43" class="h1"/><rect x="273.75" width="1.43" class="h25"/><rect x="275.18" width="1.43" class="h16"/><rect x="276.60" width="1.43" class="h2"/><rect x="278.02" width="1.43" class="h24"/><rect x="279.45" width="1.43" class="h28"/><rect x="280.87" width="1.43" class="h25"/><rect x="282.29" width="1.43" class="h7"/><rect x="283.72" width="1.43" class="h29"/><rect x="285.14" width="1.43" class="h9"/><rect x="286.56" width="1.43" class="h29"/><rect x="287.99" width="1.43" class="h14"/><rect x="289.41" width="1.43" class="h19"/><rect x="290.84" width="1.43" class="h28"/><rect x="292.26" width="1.43" class="h4"/><rect x="293.68" width="1.43" class="h10"/><rect x="295.11" width="1.43" class="h14"/><rect x="296.53" width="1.43" class="h16"/><rect x="297.95" width="1.43" class="h24"/><rect x="299.38" width="1.43" class="h7"/><rect x="300.80" width="1.43" class="h12"/><rect x="302.22" width="1.43" class="h28"/><rect x="303.65" width="1.43" class="h3"/><rect x="305.07" width="1.43" class="h24"/><rect x="306.49" width="1.43" class="h1"/><rect x="307.92" width="1.43" class="h19"/><rect x="309.34" width="1.43" class="h2"/><rect x="310.76" width="1.43" class="h22"/><rect x="312.19" width="1.43" class="h29"/><rect x="313.61" width="1.43" class="h1"/><rect x="315.04" width="1.43" class="h28"/><rect x="316.46" width="1.43" class="h24"/><rect x="317.88" width="1.43" class="h28"/><rect x="319.31" width="1.43" class="h29"/><rect x="320.73" width="1.43" class="h18"/><rect x="322.15" width="1.43" class="h28"/><rect x="323.58" width="1.43" class="h15"/></g><g transform="translate(0,299.70)"><rect x="37.30" width="1.43" class="h3"/><rect x="38.72" width="1.44" class="h11"/><rect x="40.15" width="1.43" class="h4"/><rect x="41.57" width="1.44" class="h15"/><rect x="43.00" width="1.43" class="h3"/><rect x="44.42" width="2.86" class="h2"/><rect x="47.27" width="1.44" class="h27"/><rect x="48.70" width="2.86" class="h23"/><rect x="51.55" width="1.44" class="h6"/><rect x="52.98" width="1.44" class="h29"/><rect x="54.40" width="4.28" class="h2"/><rect x="58.67" width="1.44" class="h29"/><rect x="60.10" width="1.44" class="h15"/><rect x="61.53" width="1.43" class="h29"/><rect x="62.95" width="1.43" class="h25"/><rect x="64.38" width="1.43" class="h30"/><rect x="65.80" width="1.43" class="h26"/><rect x="67.22" width="1.44" class="h29"/><rect x="68.65" width="1.43" class="h26"/><rect x="70.08" width="1.43" class="h29"/><rect x="71.50" width="1.44" class="h2"/><rect x="72.93" width="1.43" class="h4"/><rect x="74.35" width="1.43" class="h23"/><rect x="75.78" width="1.43" class="h2"/><rect x="77.20" width="1.43" class="h9"/><rect x="78.62" width="1.44" class="h29"/><rect x="80.05" width="1.43" class="h20"/><rect x="81.48" width="1.43" class="h6"/><rect x="82.90" width="1.43" class="h5"/><rect x="84.33" width="1.43" class="h27"/><rect x="85.75" width="1.44" class="h14"/><rect x="87.18" width="1.43" class="h2"/><rect x="88.60" width="1.43" class="h3"/><rect x="90.03" width="1.43" class="h5"/><rect x="91.45" width="1.43" class="h9"/><rect x="92.88" width="1.44" class="h5"/><rect x="94.30" width="1.43" class="h2"/><rect x="95.73" width="1.43" class="h21"/><rect x="97.15" width="1.43" class="h26"/><rect x="98.58" width="1.43" class="h29"/><rect x="100.00" width="1.44" class="h11"/><rect x="101.43" width="1.43" class="h25"/><rect x="102.85" width="1.43" class="h3"/><rect x="104.28" width="1.44" class="h2"/><rect x="105.70" width="1.43" class="h5"/><rect x="107.13" width="1.43" class="h29"/><rect x="108.55" width="1.46" class="h3"/><rect x="110.00" width="1.46" class="h2"/><rect x="111.46" width="1.46" class="h30"/><rect x="112.91" width="2.92" class="h1"/><rect x="115.82" width="1.46" class="h6"/><rect x="117.27" width="1.46" class="h25"/><rect x="118.73" width="1.46" class="h12"/><rect x="120.18" width="1.46" class="h2"/><rect x="121.64" width="1.46" class="h0"/><rect x="123.09" width="1.46" class="h22"/><rect x="124.54" width="1.46" class="h2"/><rect x="126.00" width="1.46" class="h4"/><rect x="127.45" width="1.46" class="h3"/><rect x="128.91" width="1.46" class="h15"/><rect x="130.36" width="1.46" class="h26"/><rect x="131.82" width="1.46" class="h15"/><rect x="133.27" width="1.46" class="h27"/><rect x="134.72" width="1.46" class="h5"/><rect x="136.18" width="1.46" class="h24"/><rect x="137.63" width="1.46" class="h9"/><rect x="139.09" width="1.46" class="h10"/><rect x="140.54" width="1.46" class="h4"/><rect x="141.99" width="1.46" class="h5"/><rect x="143.45" width="1.46" class="h14"/><rect x="144.90" width="1.46" class="h18"/><rect x="146.36" width="1.46" class="h28"/><rect x="147.81" width="1.46" class="h3"/><rect x="149.26" width="1.46" class="h1"/><rect x="150.72" width="1.46" class="h3"/><rect x="152.17" width="1.46" class="h6"/><rect x="153.63" width="1.46" class="h2"/><rect x="155.08" width="1.46" class="h1"/><rect x="156.53" width="1.46" class="h30"/><rect x="157.99" width="1.46" class="h20"/><rect x="159.44" width="1.46" class="h3"/><rect x="160.90" width="1.46" class="h4"/><rect x="162.35" width="1.46" class="h3"/><rect x="163.81" width="1.46" class="h29"/><rect x="165.26" width="1.46" class="h1"/><rect x="166.71" width="1.46" class="h6"/><rect x="168.17" width="1.46" class="h4"/><rect x="169.62" width="2.92" class="h1"/><rect x="172.53" width="1.46" class="h15"/><rect x="173.98" width="1.46" class="h5"/><rect x="175.44" width="1.46" class="h8"/><rect x="176.89" width="1.46" class="h15"/><rect x="178.35" width="1.46" class="h8"/><rect x="179.80" width="1.46" class="h25"/><rect x="181.25" width="1.46" class="h6"/><rect x="182.70" width="1.46" class="h16"/><rect x="184.16" width="1.46" class="h27"/><rect x="185.61" width="1.46" class="h28"/><rect x="187.06" width="1.46" class="h21"/><rect x="188.51" width="1.46" class="h28"/><rect x="189.96" width="1.46" class="h2"/><rect x="191.42" width="1.46" class="h29"/><rect x="192.87" width="1.46" class="h0"/><rect x="194.32" width="1.46" class="h27"/><rect x="195.77" width="1.46" class="h1"/><rect x="197.22" width="1.46" class="h9"/><rect x="198.68" width="1.46" class="h27"/><rect x="200.13" width="1.46" class="h1"/><rect x="201.58" width="1.46" class="h23"/><rect x="203.03" width="1.46" class="h27"/><rect x="204.48" width="1.46" class="h10"/><rect x="205.94" width="1.46" class="h16"/><rect x="207.39" width="1.46" class="h4"/><rect x="208.84" width="1.46" class="h14"/><rect x="210.29" width="1.46" class="h16"/><rect x="211.74" width="1.46" class="h8"/><rect x="213.20" width="1.46" class="h4"/><rect x="214.65" width="1.46" class="h2"/><rect x="216.10" width="1.46" class="h28"/><rect x="217.55" width="1.46" class="h26"/><rect x="219.00" width="1.46" class="h6"/><rect x="220.46" width="1.46" class="h28"/><rect x="221.91" width="1.46" class="h1"/><rect x="223.36" width="1.46" class="h23"/><rect x="224.81" width="1.46" class="h22"/><rect x="226.26" width="1.46" class="h24"/><rect x="227.72" width="1.46" class="h26"/><rect x="229.17" width="1.46" class="h27"/><rect x="230.62" width="1.46" class="h28"/><rect x="232.07" width="1.46" class="h20"/><rect x="233.52" width="1.46" class="h27"/><rect x="234.98" width="1.46" class="h18"/><rect x="236.43" width="1.46" class="h22"/><rect x="237.88" width="2.91" class="h26"/><rect x="240.78" width="1.46" class="h15"/><rect x="242.24" width="2.91" class="h29"/><rect x="245.14" width="1.46" class="h20"/><rect x="246.59" width="1.46" class="h27"/><rect x="248.04" width="1.46" class="h2"/><rect x="249.50" width="1.46" class="h24"/><rect x="250.95" width="1.46" class="h25"/><rect x="252.40" width="1.43" class="h6"/><rect x="253.82" width="1.43" class="h16"/><rect x="255.25" width="1.43" class="h30"/><rect x="256.67" width="1.43" class="h20"/><rect x="258.09" width="1.43" class="h28"/><rect x="259.52" width="1.43" class="h11"/><rect x="260.94" width="1.43" class="h27"/><rect x="262.36" width="1.43" class="h10"/><rect x="263.79" width="1.43" class="h1"/><rect x="265.21" width="1.43" class="h28"/><rect x="266.64" width="1.43" class="h29"/><rect x="268.06" width="1.43" class="h3"/><rect x="269.48" width="1.43" class="h2"/><rect x="270.91" width="1.43" class="h6"/><rect x="272.33" width="1.43" class="h23"/><rect x="273.75" width="1.43" class="h25"/><rect x="275.18" width="1.43" class="h30"/><rect x="276.60" width="1.43" class="h25"/><rect x="278.02" width="1.43" class="h5"/><rect x="279.45" width="1.43" class="h25"/><rect x="280.87" width="1.43" class="h28"/><rect x="282.29" width="1.43" class="h4"/><rect x="283.72" width="1.43" class="h14"/><rect x="285.14" width="1.43" class="h7"/><rect x="286.56" width="1.43" class="h20"/><rect x="287.99" width="1.43" class="h27"/><rect x="289.41" width="1.43" class="h25"/><rect x="290.84" width="1.43" class="h29"/><rect x="292.26" width="1.43" class="h21"/><rect x="293.68" width="1.43" class="h1"/><rect x="295.11" width="1.43" class="h30"/><rect x="296.53" width="1.43" class="h1"/><rect x="297.95" width="1.43" class="h28"/><rect x="299.38" width="1.43" class="h20"/><rect x="300.80" width="1.43" class="h1"/><rect x="302.22" width="1.43" class="h14"/><rect x="303.65" width="1.43" class="h19"/><rect x="305.07" width="1.43" class="h23"/><rect x="306.49" width="1.43" class="h0"/><rect x="307.92" width="1.43" class="h15"/><rect x="309.34" width="1.43" class="h2"/><rect x="310.76" width="1.43" class="h24"/><rect x="312.19" width="1.43" class="h3"/><rect x="313.61" width="1.43" class="h24"/><rect x="315.04" width="1.43" class="h15"/><rect x="316.46" width="1.43" class="h22"/><rect x="317.88" width="1.43" class="h29"/><rect x="319.31" width="1.43" class="h10"/><rect x="320.73" width="1.43" class="h25"/><rect x="322.15" width="1.43" class="h29"/><rect x="323.58" width="1.43" class="h28"/></g><g transform="translate(0,321.93)"><rect x="37.30" width="1.43" class="h2"/><rect x="38.72" width="1.44" class="h21"/><rect x="40.15" width="1.43" class="h6"/><rect x="41.57" width="1.44" class="h26"/><rect x="43.00" width="1.43" class="h5"/><rect x="44.42" width="1.44" class="h20"/><rect x="45.85" width="1.43" class="h0"/><rect x="47.27" width="1.44" class="h24"/><rect x="48.70" width="1.43" class="h1"/><rect x="50.12" width="1.43" class="h12"/><rect x="51.55" width="1.44" class="h5"/><rect x="52.98" width="1.44" class="h24"/><rect x="54.40" width="1.43" class="h4"/><rect x="55.83" width="2.86" class="h2"/><rect x="58.67" width="1.44" class="h30"/><rect x="60.10" width="1.44" class="h26"/><rect x="61.53" width="1.43" class="h1"/><rect x="62.95" width="1.43" class="h28"/><rect x="64.38" width="1.43" class="h22"/><rect x="65.80" width="1.43" class="h6"/><rect x="67.22" width="1.44" class="h30"/><rect x="68.65" width="1.43" class="h25"/><rect x="70.08" width="1.43" class="h4"/><rect x="71.50" width="1.44" class="h30"/><rect x="72.93" width="1.43" class="h2"/><rect x="74.35" width="1.43" class="h12"/><rect x="75.78" width="2.86" class="h16"/><rect x="78.62" width="1.44" class="h7"/><rect x="80.05" width="1.43" class="h1"/><rect x="81.48" width="1.43" class="h4"/><rect x="82.90" width="1.43" class="h12"/><rect x="84.33" width="1.43" class="h3"/><rect x="85.75" width="1.44" class="h2"/><rect x="87.18" width="1.43" class="h12"/><rect x="88.60" width="1.43" class="h0"/><rect x="90.03" width="1.43" class="h3"/><rect x="91.45" width="1.43" class="h29"/><rect x="92.88" width="1.44" class="h3"/><rect x="94.30" width="1.43" class="h14"/><rect x="95.73" width="1.43" class="h24"/><rect x="97.15" width="1.43" class="h30"/><rect x="98.58" width="1.43" class="h29"/><rect x="100.00" width="1.44" class="h1"/><rect x="101.43" width="1.43" class="h2"/><rect x="102.85" width="1.43" class="h27"/><rect x="104.28" width="1.44" class="h2"/><rect x="105.70" width="1.43" class="h15"/><rect x="107.13" width="1.43" class="h28"/><rect x="108.55" width="2.92" class="h14"/><rect x="111.46" width="1.46" class="h0"/><rect x="112.91" width="1.46" class="h30"/><rect x="114.37" width="1.46" class="h5"/><rect x="115.82" width="1.46" class="h0"/><rect x="117.27" width="1.46" class="h26"/><rect x="118.73" width="1.46" class="h5"/><rect x="120.18" width="1.46" class="h29"/><rect x="121.64" width="1.46" class="h10"/><rect x="123.09" width="1.46" class="h12"/><rect x="124.54" width="1.46" class="h27"/><rect x="126.00" width="1.46" class="h5"/><rect x="127.45" width="1.46" class="h2"/><rect x="128.91" width="1.46" class="h0"/><rect x="130.36" width="1.46" class="h30"/><rect x="131.82" width="1.46" class="h5"/><rect x="133.27" width="1.46" class="h25"/><rect x="134.72" width="1.46" class="h0"/><rect x="136.18" width="2.92" class="h4"/><rect x="139.09" width="1.46" class="h11"/><rect x="140.54" width="2.92" class="h3"/><rect x="143.45" width="1.46" class="h2"/><rect x="144.90" width="1.46" class="h27"/><rect x="146.36" width="1.46" class="h3"/><rect x="147.81" width="1.46" class="h20"/><rect x="149.26" width="1.46" class="h3"/><rect x="150.72" width="1.46" class="h21"/><rect x="152.17" width="1.46" class="h2"/><rect x="153.63" width="1.46" class="h19"/><rect x="155.08" width="1.46" class="h14"/><rect x="156.53" width="1.46" class="h0"/><rect x="157.99" width="1.46" class="h9"/><rect x="159.44" width="1.46" class="h14"/><rect x="160.90" width="1.46" class="h7"/><rect x="162.35" width="1.46" class="h0"/><rect x="163.81" width="1.46" class="h26"/><rect x="165.26" width="1.46" class="h0"/><rect x="166.71" width="1.46" class="h14"/><rect x="168.17" width="1.46" class="h26"/><rect x="169.62" width="1.46" class="h8"/><rect x="171.08" width="1.46" class="h29"/><rect x="172.53" width="1.46" class="h2"/><rect x="173.98" width="1.46" class="h5"/><rect x="175.44" width="1.46" class="h1"/><rect x="176.89" width="1.46" class="h4"/><rect x="178.35" width="1.46" class="h29"/><rect x="179.80" width="1.46" class="h27"/><rect x="181.25" width="1.46" class="h29"/><rect x="182.70" width="1.46" class="h28"/><rect x="184.16" width="1.46" class="h26"/><rect x="185.61" width="1.46" class="h1"/><rect x="187.06" width="1.46" class="h2"/><rect x="188.51" width="1.46" class="h29"/><rect x="189.96" width="1.46" class="h23"/><rect x="191.42" width="1.46" class="h4"/><rect x="192.87" width="1.46" class="h15"/><rect x="194.32" width="1.46" class="h10"/><rect x="195.77" width="1.46" class="h0"/><rect x="197.22" width="1.46" class="h19"/><rect x="198.68" width="1.46" class="h21"/><rect x="200.13" width="1.46" class="h3"/><rect x="201.58" width="1.46" class="h29"/><rect x="203.03" width="1.46" class="h25"/><rect x="204.48" width="1.46" class="h28"/><rect x="205.94" width="1.46" class="h2"/><rect x="207.39" width="1.46" class="h9"/><rect x="208.84" width="1.46" class="h3"/><rect x="210.29" width="1.46" class="h24"/><rect x="211.74" width="1.46" class="h28"/><rect x="213.20" width="2.91" class="h24"/><rect x="216.10" width="1.46" class="h15"/><rect x="217.55" width="1.46" class="h25"/><rect x="219.00" width="1.46" class="h4"/><rect x="220.46" width="1.46" class="h1"/><rect x="221.91" width="2.91" class="h28"/><rect x="224.81" width="1.46" class="h2"/><rect x="226.26" width="1.46" class="h15"/><rect x="227.72" width="1.46" class="h1"/><rect x="229.17" width="1.46" class="h27"/><rect x="230.62" width="1.46" class="h21"/><rect x="232.07" width="1.46" class="h26"/><rect x="233.52" width="1.46" class="h28"/><rect x="234.98" width="1.46" class="h18"/><rect x="236.43" width="1.46" class="h6"/><rect x="237.88" width="1.46" class="h28"/><rect x="239.33" width="1.46" class="h25"/><rect x="240.78" width="1.46" class="h5"/><rect x="242.24" width="1.46" class="h19"/><rect x="243.69" width="1.46" class="h30"/><rect x="245.14" width="1.46" class="h28"/><rect x="246.59" width="1.46" class="h16"/><rect x="248.04" width="1.46" class="h5"/><rect x="249.50" width="1.46" class="h27"/><rect x="250.95" width="1.46" class="h23"/><rect x="252.40" width="2.86" class="h25"/><rect x="255.25" width="1.43" class="h28"/><rect x="256.67" width="1.43" class="h10"/><rect x="258.09" width="1.43" class="h26"/><rect x="259.52" width="1.43" class="h30"/><rect x="260.94" width="1.43" class="h2"/><rect x="262.36" width="1.43" class="h22"/><rect x="263.79" width="1.43" class="h29"/><rect x="265.21" width="1.43" class="h7"/><rect x="266.64" width="1.43" class="h22"/><rect x="268.06" width="1.43" class="h0"/><rect x="269.48" width="1.43" class="h23"/><rect x="270.91" width="1.43" class="h19"/><rect x="272.33" width="1.43" class="h7"/><rect x="273.75" width="1.43" class="h22"/><rect x="275.18" width="1.43" class="h27"/><rect x="276.60" width="1.43" class="h5"/><rect x="278.02" width="1.43" class="h26"/><rect x="279.45" width="1.43" class="h3"/><rect x="280.87" width="1.43" class="h2"/><rect x="282.29" width="2.86" class="h3"/><rect x="285.14" width="1.43" class="h14"/><rect x="286.56" width="1.43" class="h3"/><rect x="287.99" width="1.43" class="h28"/><rect x="289.41" width="1.43" class="h6"/><rect x="290.84" width="1.43" class="h29"/><rect x="292.26" width="2.86" class="h1"/><rect x="295.11" width="1.43" class="h26"/><rect x="296.53" width="1.43" class="h16"/><rect x="297.95" width="1.43" class="h7"/><rect x="299.38" width="1.43" class="h27"/><rect x="300.80" width="1.43" class="h2"/><rect x="302.22" width="1.43" class="h21"/><rect x="303.65" width="1.43" class="h3"/><rect x="305.07" width="1.43" class="h11"/><rect x="306.49" width="1.43" class="h5"/><rect x="307.92" width="1.43" class="h27"/><rect x="309.34" width="1.43" class="h8"/><rect x="310.76" width="1.43" class="h14"/><rect x="312.19" width="1.43" class="h25"/><rect x="313.61" width="1.43" class="h28"/><rect x="315.04" width="1.43" class="h23"/><rect x="316.46" width="1.43" class="h27"/><rect x="317.88" width="2.86" class="h16"/><rect x="320.73" width="1.43" class="h27"/><rect x="322.15" width="1.43" class="h20"/><rect x="323.58" width="1.43" class="h30"/></g><g transform="translate(0,344.15)"><rect x="37.30" width="1.43" class="h14"/><rect x="38.72" width="1.44" class="h3"/><rect x="40.15" width="1.43" class="h16"/><rect x="41.57" width="1.44" class="h26"/><rect x="43.00" width="1.43" class="h27"/><rect x="44.42" width="1.44" class="h2"/><rect x="45.85" width="1.43" class="h1"/><rect x="47.27" width="1.44" class="h27"/><rect x="48.70" width="1.43" class="h16"/><rect x="50.12" width="1.43" class="h22"/><rect x="51.55" width="1.44" class="h14"/><rect x="52.98" width="1.44" class="h7"/><rect x="54.40" width="1.43" class="h2"/><rect x="55.83" width="1.43" class="h5"/><rect x="57.25" width="1.43" class="h6"/><rect x="58.67" width="1.44" class="h0"/><rect x="60.10" width="1.44" class="h4"/><rect x="61.53" width="1.43" class="h10"/><rect x="62.95" width="1.43" class="h4"/><rect x="64.38" width="1.43" class="h21"/><rect x="65.80" width="1.43" class="h7"/><rect x="67.22" width="1.44" class="h3"/><rect x="68.65" width="1.43" class="h24"/><rect x="70.08" width="1.43" class="h8"/><rect x="71.50" width="1.44" class="h2"/><rect x="72.93" width="1.43" class="h8"/><rect x="74.35" width="1.43" class="h3"/><rect x="75.78" width="1.43" class="h2"/><rect x="77.20" width="1.43" class="h10"/><rect x="78.62" width="1.44" class="h26"/><rect x="80.05" width="1.43" class="h5"/><rect x="81.48" width="1.43" class="h29"/><rect x="82.90" width="1.43" class="h6"/><rect x="84.33" width="1.43" class="h19"/><rect x="85.75" width="1.44" class="h3"/><rect x="87.18" width="2.86" class="h0"/><rect x="90.03" width="1.43" class="h28"/><rect x="91.45" width="1.43" class="h2"/><rect x="92.88" width="1.44" class="h6"/><rect x="94.30" width="1.43" class="h25"/><rect x="95.73" width="1.43" class="h8"/><rect x="97.15" width="1.43" class="h1"/><rect x="98.58" width="1.43" class="h3"/><rect x="100.00" width="1.44" class="h29"/><rect x="101.43" width="1.43" class="h2"/><rect x="102.85" width="1.43" class="h1"/><rect x="104.28" width="1.44" class="h3"/><rect x="105.70" width="1.43" class="h27"/><rect x="107.13" width="1.43" class="h4"/><rect x="108.55" width="1.46" class="h2"/><rect x="110.00" width="1.46" class="h19"/><rect x="111.46" width="1.46" class="h1"/><rect x="112.91" width="1.46" class="h7"/><rect x="114.37" width="1.46" class="h25"/><rect x="115.82" width="1.46" class="h3"/><rect x="117.27" width="1.46" class="h1"/><rect x="118.73" width="1.46" class="h12"/><rect x="120.18" width="1.46" class="h22"/><rect x="121.64" width="1.46" class="h25"/><rect x="123.09" width="1.46" class="h1"/><rect x="124.54" width="1.46" class="h4"/><rect x="126.00" width="2.92" class="h2"/><rect x="128.91" width="1.46" class="h7"/><rect x="130.36" width="1.46" class="h12"/><rect x="131.82" width="1.46" class="h3"/><rect x="133.27" width="1.46" class="h4"/><rect x="134.72" width="1.46" class="h3"/><rect x="136.18" width="1.46" class="h6"/><rect x="137.63" width="1.46" class="h0"/><rect x="139.09" width="1.46" class="h4"/><rect x="140.54" width="4.37" class="h3"/><rect x="144.90" width="1.46" class="h21"/><rect x="146.36" width="1.46" class="h4"/><rect x="147.81" width="1.46" class="h3"/><rect x="149.26" width="1.46" class="h1"/><rect x="150.72" width="1.46" class="h7"/><rect x="152.17" width="1.46" class="h15"/><rect x="153.63" width="2.92" class="h2"/><rect x="156.53" width="1.46" class="h3"/><rect x="157.99" width="1.46" class="h16"/><rect x="159.44" width="1.46" class="h28"/><rect x="160.90" width="1.46" class="h16"/><rect x="162.35" width="1.46" class="h14"/><rect x="163.81" width="2.92" class="h9"/><rect x="166.71" width="1.46" class="h8"/><rect x="168.17" width="1.46" class="h28"/><rect x="169.62" width="1.46" class="h4"/><rect x="171.08" width="1.46" class="h3"/><rect x="172.53" width="1.46" class="h7"/><rect x="173.98" width="1.46" class="h15"/><rect x="175.44" width="1.46" class="h0"/><rect x="176.89" width="1.46" class="h5"/><rect x="178.35" width="1.46" class="h29"/><rect x="179.80" width="1.46" class="h21"/><rect x="181.25" width="1.46" class="h12"/><rect x="182.70" width="1.46" class="h7"/><rect x="184.16" width="1.46" class="h19"/><rect x="185.61" width="1.46" class="h28"/><rect x="187.06" width="1.46" class="h1"/><rect x="188.51" width="1.46" class="h29"/><rect x="189.96" width="1.46" class="h28"/><rect x="191.42" width="1.46" class="h27"/><rect x="192.87" width="1.46" class="h20"/><rect x="194.32" width="2.91" class="h27"/><rect x="197.22" width="2.91" class="h29"/><rect x="200.13" width="1.46" class="h25"/><rect x="201.58" width="1.46" class="h10"/><rect x="203.03" width="1.46" class="h23"/><rect x="204.48" width="1.46" class="h30"/><rect x="205.94" width="1.46" class="h28"/><rect x="207.39" width="1.46" class="h24"/><rect x="208.84" width="1.46" class="h26"/><rect x="210.29" width="1.46" class="h29"/><rect x="211.74" width="1.46" class="h23"/><rect x="213.20" width="2.91" class="h7"/><rect x="216.10" width="2.91" class="h27"/><rect x="219.00" width="1.46" class="h3"/><rect x="220.46" width="1.46" class="h0"/><rect x="221.91" width="1.46" class="h1"/><rect x="223.36" width="1.46" class="h15"/><rect x="224.81" width="1.46" class="h23"/><rect x="226.26" width="1.46" class="h27"/><rect x="227.72" width="1.46" class="h16"/><rect x="229.17" width="1.46" class="h28"/><rect x="230.62" width="1.46" class="h18"/><rect x="232.07" width="1.46" class="h28"/><rect x="233.52" width="1.46" class="h26"/><rect x="234.98" width="1.46" class="h1"/><rect x="236.43" width="1.46" class="h23"/><rect x="237.88" width="1.46" class="h14"/><rect x="239.33" width="1.46" class="h25"/><rect x="240.78" width="1.46" class="h21"/><rect x="242.24" width="1.46" class="h28"/><rect x="243.69" width="1.46" class="h11"/><rect x="245.14" width="1.46" class="h16"/><rect x="246.59" width="1.46" class="h23"/><rect x="248.04" width="1.46" class="h25"/><rect x="249.50" width="1.46" class="h28"/><rect x="250.95" width="1.46" class="h26"/><rect x="252.40" width="1.43" class="h23"/><rect x="253.82" width="1.43" class="h28"/><rect x="255.25" width="1.43" class="h23"/><rect x="256.67" width="1.43" class="h8"/><rect x="258.09" width="2.86" class="h29"/><rect x="260.94" width="1.43" class="h25"/><rect x="262.36" width="1.43" class="h12"/><rect x="263.79" width="1.43" class="h27"/><rect x="265.21" width="1.43" class="h30"/><rect x="266.64" width="1.43" class="h14"/><rect x="268.06" width="1.43" class="h28"/><rect x="269.48" width="1.43" class="h30"/><rect x="270.91" width="1.43" class="h18"/><rect x="272.33" width="1.43" class="h21"/><rect x="273.75" width="1.43" class="h23"/><rect x="275.18" width="1.43" class="h25"/><rect x="276.60" width="1.43" class="h30"/><rect x="278.02" width="1.43" class="h28"/><rect x="279.45" width="2.86" class="h29"/><rect x="282.29" width="1.43" class="h14"/><rect x="283.72" width="1.43" class="h25"/><rect x="285.14" width="1.43" class="h20"/><rect x="286.56" width="1.43" class="h24"/><rect x="287.99" width="1.43" class="h7"/><rect x="289.41" width="1.43" class="h30"/><rect x="290.84" width="1.43" class="h29"/><rect x="292.26" width="1.43" class="h24"/><rect x="293.68" width="1.43" class="h20"/><rect x="295.11" width="1.43" class="h26"/><rect x="296.53" width="1.43" class="h2"/><rect x="297.95" width="1.43" class="h26"/><rect x="299.38" width="1.43" class="h29"/><rect x="300.80" width="1.43" class="h23"/><rect x="302.22" width="1.43" class="h24"/><rect x="303.65" width="1.43" class="h3"/><rect x="305.07" width="1.43" class="h27"/><rect x="306.49" width="4.28" class="h29"/><rect x="310.76" width="1.43" class="h24"/><rect x="312.19" width="1.43" class="h18"/><rect x="313.61" width="1.43" class="h25"/><rect x="315.04" width="1.43" class="h27"/><rect x="316.46" width="1.43" class="h15"/><rect x="317.88" width="1.43" class="h27"/><rect x="319.31" width="1.43" class="h14"/><rect x="320.73" width="1.43" class="h27"/><rect x="322.15" width="1.43" class="h25"/><rect x="323.58" width="1.43" class="h29"/></g><g transform="translate(0,366.38)"><rect x="37.30" width="1.43" class="h7"/><rect x="38.72" width="1.44" class="h3"/><rect x="40.15" width="1.43" class="h2"/><rect x="41.57" width="1.44" class="h3"/><rect x="43.00" width="1.43" class="h15"/><rect x="44.42" width="1.44" class="h23"/><rect x="45.85" width="2.86" class="h20"/><rect x="48.70" width="2.86" class="h29"/><rect x="51.55" width="1.44" class="h2"/><rect x="52.98" width="1.44" class="h8"/><rect x="54.40" width="1.43" class="h12"/><rect x="55.83" width="1.43" class="h28"/><rect x="57.25" width="2.86" class="h12"/><rect x="60.10" width="1.44" class="h3"/><rect x="61.53" width="1.43" class="h4"/><rect x="62.95" width="1.43" class="h1"/><rect x="64.38" width="1.43" class="h7"/><rect x="65.80" width="1.43" class="h5"/><rect x="67.22" width="1.44" class="h16"/><rect x="68.65" width="1.43" class="h7"/><rect x="70.08" width="1.43" class="h1"/><rect x="71.50" width="1.44" class="h3"/><rect x="72.93" width="1.43" class="h5"/><rect x="74.35" width="1.43" class="h7"/><rect x="75.78" width="1.43" class="h2"/><rect x="77.20" width="1.43" class="h15"/><rect x="78.62" width="1.44" class="h23"/><rect x="80.05" width="1.43" class="h1"/><rect x="81.48" width="1.43" class="h2"/><rect x="82.90" width="1.43" class="h1"/><rect x="84.33" width="1.43" class="h4"/><rect x="85.75" width="1.44" class="h2"/><rect x="87.18" width="1.43" class="h29"/><rect x="88.60" width="1.43" class="h12"/><rect x="90.03" width="1.43" class="h0"/><rect x="91.45" width="1.43" class="h25"/><rect x="92.88" width="1.44" class="h10"/><rect x="94.30" width="1.43" class="h3"/><rect x="95.73" width="1.43" class="h4"/><rect x="97.15" width="1.43" class="h1"/><rect x="98.58" width="1.43" class="h6"/><rect x="100.00" width="1.44" class="h18"/><rect x="101.43" width="1.43" class="h1"/><rect x="102.85" width="1.43" class="h15"/><rect x="104.28" width="1.44" class="h30"/><rect x="105.70" width="1.43" class="h15"/><rect x="107.13" width="1.43" class="h2"/><rect x="108.55" width="1.46" class="h6"/><rect x="110.00" width="1.46" class="h5"/><rect x="111.46" width="1.46" class="h2"/><rect x="112.91" width="1.46" class="h3"/><rect x="114.37" width="1.46" class="h14"/><rect x="115.82" width="1.46" class="h1"/><rect x="117.27" width="1.46" class="h3"/><rect x="118.73" width="1.46" class="h2"/><rect x="120.18" width="1.46" class="h16"/><rect x="121.64" width="1.46" class="h29"/><rect x="123.09" width="1.46" class="h3"/><rect x="124.54" width="1.46" class="h11"/><rect x="126.00" width="1.46" class="h22"/><rect x="127.45" width="1.46" class="h19"/><rect x="128.91" width="1.46" class="h6"/><rect x="130.36" width="1.46" class="h10"/><rect x="131.82" width="1.46" class="h16"/><rect x="133.27" width="1.46" class="h3"/><rect x="134.72" width="1.46" class="h4"/><rect x="136.18" width="1.46" class="h2"/><rect x="137.63" width="1.46" class="h26"/><rect x="139.09" width="1.46" class="h1"/><rect x="140.54" width="1.46" class="h5"/><rect x="141.99" width="1.46" class="h3"/><rect x="143.45" width="1.46" class="h4"/><rect x="144.90" width="1.46" class="h1"/><rect x="146.36" width="1.46" class="h9"/><rect x="147.81" width="1.46" class="h15"/><rect x="149.26" width="2.92" class="h5"/><rect x="152.17" width="1.46" class="h0"/><rect x="153.63" width="1.46" class="h11"/><rect x="155.08" width="2.92" class="h1"/><rect x="157.99" width="1.46" class="h0"/><rect x="159.44" width="1.46" class="h20"/><rect x="160.90" width="1.46" class="h6"/><rect x="162.35" width="1.46" class="h2"/><rect x="163.81" width="1.46" class="h3"/><rect x="165.26" width="1.46" class="h7"/><rect x="166.71" width="1.46" class="h3"/><rect x="168.17" width="1.46" class="h2"/><rect x="169.62" width="1.46" class="h27"/><rect x="171.08" width="1.46" class="h8"/><rect x="172.53" width="1.46" class="h23"/><rect x="173.98" width="1.46" class="h15"/><rect x="175.44" width="1.46" class="h3"/><rect x="176.89" width="1.46" class="h27"/><rect x="178.35" width="1.46" class="h6"/><rect x="179.80" width="2.91" class="h26"/><rect x="182.70" width="1.46" class="h6"/><rect x="184.16" width="1.46" class="h29"/><rect x="185.61" width="1.46" class="h28"/><rect x="187.06" width="1.46" class="h26"/><rect x="188.51" width="1.46" class="h29"/><rect x="189.96" width="1.46" class="h14"/><rect x="191.42" width="1.46" class="h16"/><rect x="192.87" width="1.46" class="h21"/><rect x="194.32" width="1.46" class="h24"/><rect x="195.77" width="1.46" class="h3"/><rect x="197.22" width="1.46" class="h28"/><rect x="198.68" width="1.46" class="h21"/><rect x="200.13" width="1.46" class="h28"/><rect x="201.58" width="1.46" class="h2"/><rect x="203.03" width="1.46" class="h3"/><rect x="204.48" width="1.46" class="h16"/><rect x="205.94" width="1.46" class="h28"/><rect x="207.39" width="1.46" class="h20"/><rect x="208.84" width="1.46" class="h25"/><rect x="210.29" width="1.46" class="h6"/><rect x="211.74" width="1.46" class="h23"/><rect x="213.20" width="1.46" class="h25"/><rect x="214.65" width="1.46" class="h27"/><rect x="216.10" width="1.46" class="h25"/><rect x="217.55" width="1.46" class="h27"/><rect x="219.00" width="1.46" class="h28"/><rect x="220.46" width="2.91" class="h27"/><rect x="223.36" width="1.46" class="h28"/><rect x="224.81" width="1.46" class="h30"/><rect x="226.26" width="1.46" class="h10"/><rect x="227.72" width="1.46" class="h21"/><rect x="229.17" width="1.46" class="h29"/><rect x="230.62" width="1.46" class="h28"/><rect x="232.07" width="1.46" class="h24"/><rect x="233.52" width="1.46" class="h25"/><rect x="234.98" width="1.46" class="h27"/><rect x="236.43" width="1.46" class="h26"/><rect x="237.88" width="1.46" class="h16"/><rect x="239.33" width="1.46" class="h30"/><rect x="240.78" width="1.46" class="h27"/><rect x="242.24" width="1.46" class="h22"/><rect x="243.69" width="1.46" class="h23"/><rect x="245.14" width="1.46" class="h14"/><rect x="246.59" width="1.46" class="h10"/><rect x="248.04" width="1.46" class="h1"/><rect x="249.50" width="1.46" class="h8"/><rect x="250.95" width="1.46" class="h21"/><rect x="252.40" width="1.43" class="h28"/><rect x="253.82" width="1.43" class="h26"/><rect x="255.25" width="1.43" class="h28"/><rect x="256.67" width="1.43" class="h29"/><rect x="258.09" width="1.43" class="h23"/><rect x="259.52" width="1.43" class="h27"/><rect x="260.94" width="1.43" class="h26"/><rect x="262.36" width="1.43" class="h15"/><rect x="263.79" width="1.43" class="h27"/><rect x="265.21" width="2.86" class="h24"/><rect x="268.06" width="1.43" class="h10"/><rect x="269.48" width="1.43" class="h24"/><rect x="270.91" width="1.43" class="h28"/><rect x="272.33" width="1.43" class="h15"/><rect x="273.75" width="1.43" class="h28"/><rect x="275.18" width="1.43" class="h14"/><rect x="276.60" width="2.86" class="h25"/><rect x="279.45" width="1.43" class="h29"/><rect x="280.87" width="1.43" class="h6"/><rect x="282.29" width="1.43" class="h2"/><rect x="283.72" width="1.43" class="h27"/><rect x="285.14" width="1.43" class="h3"/><rect x="286.56" width="1.43" class="h27"/><rect x="287.99" width="1.43" class="h28"/><rect x="289.41" width="1.43" class="h20"/><rect x="290.84" width="1.43" class="h28"/><rect x="292.26" width="1.43" class="h4"/><rect x="293.68" width="1.43" class="h26"/><rect x="295.11" width="1.43" class="h19"/><rect x="296.53" width="1.43" class="h20"/><rect x="297.95" width="1.43" class="h29"/><rect x="299.38" width="1.43" class="h23"/><rect x="300.80" width="1.43" class="h28"/><rect x="302.22" width="1.43" class="h27"/><rect x="303.65" width="1.43" class="h25"/><rect x="305.07" width="2.86" class="h29"/><rect x="307.92" width="1.43" class="h30"/><rect x="309.34" width="1.43" class="h8"/><rect x="310.76" width="1.43" class="h2"/><rect x="312.19" width="1.43" class="h21"/><rect x="313.61" width="1.43" class="h24"/><rect x="315.04" width="1.43" class="h26"/><rect x="316.46" width="1.43" class="h15"/><rect x="317.88" width="1.43" class="h30"/><rect x="319.31" width="1.43" class="h23"/><rect x="320.73" width="1.43" class="h1"/><rect x="322.15" width="1.43" class="h29"/><rect x="323.58" width="1.43" class="h22"/></g></g>
<path d="M28.1 44.1L37.3 44.1M28.1 66.8L37.3 66.8M28.1 44.1L28.1 66.8M29.1 111.3L37.3 111.3M29.1 133.4L37.3 133.4M29.1 111.3L29.1 133.4M27.7 88.4L37.3 88.4M27.7 122.35L29.1 122.35M27.7 88.4L27.7 122.35M22.2 55.45L28.1 55.45M22.2 105.375L27.7 105.375M22.2 55.45L22.2 105.375M26.3 155.6L37.3 155.6M26.3 178L37.3 178M26.3 155.6L26.3 178M29.8 244.7L37.3 244.7M29.8 266.4L37.3 266.4M29.8 244.7L29.8 266.4M28.1 222.1L37.3 222.1M28.1 255.54999999999998L29.8 255.54999999999998M28.1 222.1L28.1 255.54999999999998M26.3 200.2L37.3 200.2M26.3 238.825L28.1 238.825M26.3 200.2L26.3 238.825M23.9 166.8L26.3 166.8M23.9 219.5125L26.3 219.5125M23.9 166.8L23.9 219.5125M26.3 288.9L37.3 288.9M26.3 311.4L37.3 311.4M26.3 288.9L26.3 311.4M27.4 355.7L37.3 355.7M27.4 378.2L37.3 378.2M27.4 355.7L27.4 378.2M25.5 333.6L37.3 333.6M25.5 366.95L27.4 366.95M25.5 333.6L25.5 366.95M22.5 300.15L26.3 300.15M22.5 350.275L25.5 350.275M22.5 300.15L22.5 350.275M19.3 193.15625L23.9 193.15625M19.3 325.2125L22.5 325.2125M19.3 193.15625L19.3 325.2125M6.6 80.4125L22.2 80.4125M6.6 259.184375L19.3 259.184375M6.6 80.4125L6.6 259.184375" stroke="#1a1a1a" stroke-width="1.1" fill="none" stroke-linecap="square"/>
<defs><linearGradient id="cb" x1="0" x2="1" y1="0" y2="0"><stop offset="0.0000" stop-color="#3e50a6"/><stop offset="0.1667" stop-color="#5f64ac"/><stop offset="0.3333" stop-color="#aaaad7"/><stop offset="0.4000" stop-color="#cdcde4"/><stop offset="0.4800" stop-color="#ffffff"/><stop offset="0.5200" stop-color="#ffffff"/><stop offset="0.6000" stop-color="#f9d2d4"/><stop offset="0.6667" stop-color="#f2aaaf"/><stop offset="0.8333" stop-color="#ee555a"/><stop offset="1.0000" stop-color="#e82a2a"/></linearGradient></defs>
<rect x="38" y="398" width="285.5" height="8.4" fill="url(#cb)"/>
<text x="37.9" y="417" font-size="10.4" text-anchor="middle" fill="#231f20" textLength="18.16" lengthAdjust="spacingAndGlyphs">−1.5</text>
<text x="87.5" y="417" font-size="10.4" text-anchor="middle" fill="#231f20" textLength="10.49" lengthAdjust="spacingAndGlyphs">−1</text>
<text x="138.4" y="417" font-size="10.4" text-anchor="middle" fill="#231f20" textLength="18.16" lengthAdjust="spacingAndGlyphs">−0.5</text>
<text x="186.8" y="417" font-size="10.4" text-anchor="middle" fill="#231f20" textLength="5.12" lengthAdjust="spacingAndGlyphs">0</text>
<text x="232.1" y="417" font-size="10.4" text-anchor="middle" fill="#231f20" textLength="12.79" lengthAdjust="spacingAndGlyphs">0.5</text>
<text x="277.4" y="417" font-size="10.4" text-anchor="middle" fill="#231f20" textLength="5.12" lengthAdjust="spacingAndGlyphs">1</text>
<text x="323.9" y="417" font-size="10.4" text-anchor="middle" fill="#231f20" textLength="12.79" lengthAdjust="spacingAndGlyphs">1.5</text>
<path d="M40.13 479.19C41.10 478.86 43.86 478.01 45.92 477.21C47.99 476.41 50.61 474.95 52.54 474.40C54.47 473.85 55.84 473.98 57.50 473.90C59.15 473.82 61.08 473.90 62.46 473.90C63.84 473.90 64.66 474.18 65.77 473.90C66.87 473.63 67.83 473.07 69.07 472.25C70.31 471.42 71.83 470.18 73.21 468.94C74.59 467.70 76.10 465.91 77.34 464.81C78.58 463.70 79.55 463.29 80.65 462.33C81.75 461.36 82.86 460.53 83.96 459.02C85.06 457.50 86.16 455.30 87.27 453.23C88.37 451.16 89.47 448.27 90.57 446.61C91.67 444.96 92.92 443.86 93.88 443.31C94.84 442.76 95.40 442.76 96.36 443.31C97.33 443.86 98.70 445.10 99.67 446.61C100.63 448.13 101.18 450.20 102.15 452.40C103.11 454.61 104.35 457.50 105.46 459.84C106.56 462.19 107.66 464.53 108.76 466.46C109.87 468.39 111.02 470.04 112.07 471.42C113.12 472.80 114.55 474.18 115.05 474.73L115.05 479.30L40.13 479.30Z" fill="rgba(150,210,210,0.22)" stroke="none"/>
<path d="M40.13 479.19C41.10 478.86 43.86 478.01 45.92 477.21C47.99 476.41 50.61 474.95 52.54 474.40C54.47 473.85 55.84 473.98 57.50 473.90C59.15 473.82 61.08 473.90 62.46 473.90C63.84 473.90 64.66 474.18 65.77 473.90C66.87 473.63 67.83 473.07 69.07 472.25C70.31 471.42 71.83 470.18 73.21 468.94C74.59 467.70 76.10 465.91 77.34 464.81C78.58 463.70 79.55 463.29 80.65 462.33C81.75 461.36 82.86 460.53 83.96 459.02C85.06 457.50 86.16 455.30 87.27 453.23C88.37 451.16 89.47 448.27 90.57 446.61C91.67 444.96 92.92 443.86 93.88 443.31C94.84 442.76 95.40 442.76 96.36 443.31C97.33 443.86 98.70 445.10 99.67 446.61C100.63 448.13 101.18 450.20 102.15 452.40C103.11 454.61 104.35 457.50 105.46 459.84C106.56 462.19 107.66 464.53 108.76 466.46C109.87 468.39 111.02 470.04 112.07 471.42C113.12 472.80 114.55 474.18 115.05 474.73" fill="none" stroke="#9fd6c9" stroke-width="1.1"/>
<path d="M40.13 477.70C41.10 476.38 44.13 472.47 45.92 469.77C47.71 467.07 49.37 463.57 50.88 461.50C52.40 459.43 53.78 458.19 55.02 457.36C56.26 456.54 57.08 456.59 58.33 456.54C59.57 456.48 61.22 457.12 62.46 457.03C63.70 456.95 64.66 456.67 65.77 456.04C66.87 455.41 67.83 454.11 69.07 453.23C70.31 452.35 72.11 451.16 73.21 450.75C74.31 450.34 74.86 450.47 75.69 450.75C76.52 451.02 77.34 451.58 78.17 452.40C79.00 453.23 79.69 454.33 80.65 455.71C81.61 457.09 82.86 459.16 83.96 460.67C85.06 462.19 86.02 463.43 87.27 464.81C88.51 466.18 90.02 467.98 91.40 468.94C92.78 469.90 94.02 469.90 95.53 470.59C97.05 471.28 98.84 472.25 100.49 473.07C102.15 473.90 103.80 474.73 105.46 475.55C107.11 476.38 108.90 477.43 110.42 478.04C111.93 478.64 113.86 479.00 114.55 479.19L114.55 479.30L40.13 479.30Z" fill="rgba(245,210,70,0.2)" stroke="none"/>
<path d="M40.13 477.70C41.10 476.38 44.13 472.47 45.92 469.77C47.71 467.07 49.37 463.57 50.88 461.50C52.40 459.43 53.78 458.19 55.02 457.36C56.26 456.54 57.08 456.59 58.33 456.54C59.57 456.48 61.22 457.12 62.46 457.03C63.70 456.95 64.66 456.67 65.77 456.04C66.87 455.41 67.83 454.11 69.07 453.23C70.31 452.35 72.11 451.16 73.21 450.75C74.31 450.34 74.86 450.47 75.69 450.75C76.52 451.02 77.34 451.58 78.17 452.40C79.00 453.23 79.69 454.33 80.65 455.71C81.61 457.09 82.86 459.16 83.96 460.67C85.06 462.19 86.02 463.43 87.27 464.81C88.51 466.18 90.02 467.98 91.40 468.94C92.78 469.90 94.02 469.90 95.53 470.59C97.05 471.28 98.84 472.25 100.49 473.07C102.15 473.90 103.80 474.73 105.46 475.55C107.11 476.38 108.90 477.43 110.42 478.04C111.93 478.64 113.86 479.00 114.55 479.19" fill="none" stroke="#f1c83f" stroke-width="1.1"/>
<rect x="37.10" y="432.00" width="81.75" height="10.4" fill="#fff" stroke="#2a2a2a" stroke-width="1.3"/>
<rect x="38.70" y="433.50" width="78.6" height="7.1" fill="#dddddd"/>
<text x="78.00" y="439.40" font-size="7.5" text-anchor="middle" fill="#333333" textLength="35.71" lengthAdjust="spacingAndGlyphs">B-cell traffic</text>
<path d="M37.10 442.90V480.80H118.85" fill="none" stroke="#333333" stroke-width="1.2"/>
<text x="32.10" y="481.60" font-size="8.6" text-anchor="end" fill="#2b2b2b">0.0</text>
<text x="32.10" y="468.80" font-size="8.6" text-anchor="end" fill="#2b2b2b">0.2</text>
<text x="32.10" y="456.00" font-size="8.6" text-anchor="end" fill="#2b2b2b">0.4</text>
<text x="46.25" y="493.30" font-size="8.6" text-anchor="middle" fill="#2b2b2b">−2</text>
<text x="63.60" y="493.30" font-size="8.6" text-anchor="middle" fill="#2b2b2b">−1</text>
<text x="81.00" y="493.30" font-size="8.6" text-anchor="middle" fill="#2b2b2b">0</text>
<text x="98.50" y="493.30" font-size="8.6" text-anchor="middle" fill="#2b2b2b">1</text>
<text x="116.20" y="493.30" font-size="8.6" text-anchor="middle" fill="#2b2b2b">2</text>
<path d="M34.10 479.30H37.10M34.10 466.50H37.10M34.10 453.70H37.10M46.25 480.80V483.60M63.60 480.80V483.60M81.00 480.80V483.60M98.50 480.80V483.60M116.20 480.80V483.60" stroke="#333333" stroke-width="1" fill="none"/>
<path d="M170.64 479.36C172.79 479.33 179.18 479.25 183.54 479.19C187.89 479.14 193.74 479.17 196.77 479.03C199.80 478.89 200.35 478.75 201.73 478.37C203.11 477.98 203.93 477.13 205.04 476.71C206.14 476.30 207.24 476.02 208.34 475.89C209.45 475.75 210.55 476.02 211.65 475.89C212.75 475.75 213.86 475.67 214.96 475.06C216.06 474.45 217.16 473.54 218.27 472.25C219.37 470.95 220.47 469.08 221.57 467.29C222.67 465.49 223.78 463.15 224.88 461.50C225.98 459.84 227.08 458.60 228.19 457.36C229.29 456.12 230.53 455.43 231.49 454.06C232.46 452.68 233.20 450.61 233.98 449.10C234.75 447.58 235.49 445.71 236.13 444.96C236.76 444.22 237.23 444.22 237.78 444.63C238.33 445.04 238.88 445.73 239.43 447.44C239.98 449.15 240.54 452.27 241.09 454.88C241.64 457.50 242.19 460.67 242.74 463.15C243.29 465.63 243.90 468.17 244.39 469.77C244.89 471.37 245.50 472.25 245.72 472.74L245.72 478.50L170.64 478.50Z" fill="rgba(150,210,210,0.22)" stroke="none"/>
<path d="M170.64 479.36C172.79 479.33 179.18 479.25 183.54 479.19C187.89 479.14 193.74 479.17 196.77 479.03C199.80 478.89 200.35 478.75 201.73 478.37C203.11 477.98 203.93 477.13 205.04 476.71C206.14 476.30 207.24 476.02 208.34 475.89C209.45 475.75 210.55 476.02 211.65 475.89C212.75 475.75 213.86 475.67 214.96 475.06C216.06 474.45 217.16 473.54 218.27 472.25C219.37 470.95 220.47 469.08 221.57 467.29C222.67 465.49 223.78 463.15 224.88 461.50C225.98 459.84 227.08 458.60 228.19 457.36C229.29 456.12 230.53 455.43 231.49 454.06C232.46 452.68 233.20 450.61 233.98 449.10C234.75 447.58 235.49 445.71 236.13 444.96C236.76 444.22 237.23 444.22 237.78 444.63C238.33 445.04 238.88 445.73 239.43 447.44C239.98 449.15 240.54 452.27 241.09 454.88C241.64 457.50 242.19 460.67 242.74 463.15C243.29 465.63 243.90 468.17 244.39 469.77C244.89 471.37 245.50 472.25 245.72 472.74" fill="none" stroke="#9fd6c9" stroke-width="1.1"/>
<path d="M170.64 474.73C171.13 473.63 172.57 470.32 173.61 468.11C174.66 465.91 175.82 463.21 176.92 461.50C178.02 459.79 179.13 458.60 180.23 457.86C181.33 457.12 182.43 456.98 183.54 457.03C184.64 457.09 185.74 457.45 186.84 458.19C187.95 458.94 189.05 460.40 190.15 461.50C191.25 462.60 192.36 463.92 193.46 464.81C194.56 465.69 195.66 466.32 196.77 466.79C197.87 467.26 198.83 467.34 200.07 467.62C201.31 467.89 202.97 468.03 204.21 468.44C205.45 468.86 206.41 469.33 207.52 470.10C208.62 470.87 209.72 472.16 210.82 473.07C211.93 473.98 212.89 474.87 214.13 475.55C215.37 476.24 216.75 476.74 218.27 477.21C219.78 477.68 221.30 478.06 223.23 478.37C225.16 478.67 227.64 478.86 229.84 479.03C232.05 479.19 233.81 479.30 236.46 479.36C239.10 479.41 244.17 479.36 245.72 479.36L245.72 478.50L170.64 478.50Z" fill="rgba(245,210,70,0.2)" stroke="none"/>
<path d="M170.64 474.73C171.13 473.63 172.57 470.32 173.61 468.11C174.66 465.91 175.82 463.21 176.92 461.50C178.02 459.79 179.13 458.60 180.23 457.86C181.33 457.12 182.43 456.98 183.54 457.03C184.64 457.09 185.74 457.45 186.84 458.19C187.95 458.94 189.05 460.40 190.15 461.50C191.25 462.60 192.36 463.92 193.46 464.81C194.56 465.69 195.66 466.32 196.77 466.79C197.87 467.26 198.83 467.34 200.07 467.62C201.31 467.89 202.97 468.03 204.21 468.44C205.45 468.86 206.41 469.33 207.52 470.10C208.62 470.87 209.72 472.16 210.82 473.07C211.93 473.98 212.89 474.87 214.13 475.55C215.37 476.24 216.75 476.74 218.27 477.21C219.78 477.68 221.30 478.06 223.23 478.37C225.16 478.67 227.64 478.86 229.84 479.03C232.05 479.19 233.81 479.30 236.46 479.36C239.10 479.41 244.17 479.36 245.72 479.36" fill="none" stroke="#f1c83f" stroke-width="1.1"/>
<rect x="167.60" y="432.00" width="81.75" height="10.4" fill="#fff" stroke="#2a2a2a" stroke-width="1.3"/>
<rect x="169.20" y="433.50" width="78.6" height="7.1" fill="#dddddd"/>
<text x="208.50" y="439.40" font-size="7.5" text-anchor="middle" fill="#333333" textLength="20.58" lengthAdjust="spacingAndGlyphs">B-cells</text>
<path d="M167.60 442.90V480.80H249.35" fill="none" stroke="#333333" stroke-width="1.2"/>
<text x="162.60" y="480.80" font-size="8.6" text-anchor="end" fill="#2b2b2b">0.0</text>
<text x="162.60" y="467.30" font-size="8.6" text-anchor="end" fill="#2b2b2b">0.5</text>
<text x="162.60" y="453.50" font-size="8.6" text-anchor="end" fill="#2b2b2b">1.0</text>
<text x="188.50" y="493.30" font-size="8.6" text-anchor="middle" fill="#2b2b2b">−1</text>
<text x="211.30" y="493.30" font-size="8.6" text-anchor="middle" fill="#2b2b2b">0</text>
<text x="234.80" y="493.30" font-size="8.6" text-anchor="middle" fill="#2b2b2b">1</text>
<path d="M164.60 478.50H167.60M164.60 465.00H167.60M164.60 451.20H167.60M188.50 480.80V483.60M211.30 480.80V483.60M234.80 480.80V483.60" stroke="#333333" stroke-width="1" fill="none"/>
<path d="M301.96 466.46C302.37 465.08 303.61 460.53 304.44 458.19C305.27 455.85 305.96 454.06 306.92 452.40C307.89 450.75 309.13 449.15 310.23 448.27C311.33 447.39 312.16 447.25 313.54 447.11C314.92 446.97 316.84 447.33 318.50 447.44C320.15 447.55 321.81 447.77 323.46 447.77C325.11 447.77 326.90 447.55 328.42 447.44C329.94 447.33 331.31 446.97 332.55 447.11C333.80 447.25 334.76 447.52 335.86 448.27C336.96 449.01 338.07 450.34 339.17 451.58C340.27 452.82 341.37 454.33 342.48 455.71C343.58 457.09 344.68 458.74 345.78 459.84C346.89 460.95 347.99 461.64 349.09 462.33C350.19 463.01 351.16 463.62 352.40 463.98C353.64 464.34 355.29 464.20 356.53 464.47C357.77 464.75 358.74 465.03 359.84 465.63C360.94 466.24 362.05 467.15 363.15 468.11C364.25 469.08 365.35 470.37 366.46 471.42C367.56 472.47 368.66 473.52 369.76 474.40C370.87 475.28 371.83 476.05 373.07 476.71C374.31 477.37 376.52 478.09 377.21 478.37L377.21 479.00L301.96 479.00Z" fill="rgba(150,210,210,0.22)" stroke="none"/>
<path d="M301.96 466.46C302.37 465.08 303.61 460.53 304.44 458.19C305.27 455.85 305.96 454.06 306.92 452.40C307.89 450.75 309.13 449.15 310.23 448.27C311.33 447.39 312.16 447.25 313.54 447.11C314.92 446.97 316.84 447.33 318.50 447.44C320.15 447.55 321.81 447.77 323.46 447.77C325.11 447.77 326.90 447.55 328.42 447.44C329.94 447.33 331.31 446.97 332.55 447.11C333.80 447.25 334.76 447.52 335.86 448.27C336.96 449.01 338.07 450.34 339.17 451.58C340.27 452.82 341.37 454.33 342.48 455.71C343.58 457.09 344.68 458.74 345.78 459.84C346.89 460.95 347.99 461.64 349.09 462.33C350.19 463.01 351.16 463.62 352.40 463.98C353.64 464.34 355.29 464.20 356.53 464.47C357.77 464.75 358.74 465.03 359.84 465.63C360.94 466.24 362.05 467.15 363.15 468.11C364.25 469.08 365.35 470.37 366.46 471.42C367.56 472.47 368.66 473.52 369.76 474.40C370.87 475.28 371.83 476.05 373.07 476.71C374.31 477.37 376.52 478.09 377.21 478.37" fill="none" stroke="#9fd6c9" stroke-width="1.1"/>
<path d="M301.96 479.36C302.65 479.19 304.72 479.14 306.10 478.37C307.47 477.59 308.99 475.89 310.23 474.73C311.47 473.57 312.43 472.58 313.54 471.42C314.64 470.26 315.74 468.94 316.84 467.78C317.95 466.62 319.05 465.52 320.15 464.47C321.25 463.43 322.36 462.68 323.46 461.50C324.56 460.31 325.66 458.88 326.77 457.36C327.87 455.85 328.97 453.92 330.07 452.40C331.18 450.89 332.28 449.29 333.38 448.27C334.48 447.25 335.59 446.78 336.69 446.28C337.79 445.79 338.76 445.65 340.00 445.29C341.24 444.93 343.03 444.33 344.13 444.13C345.23 443.94 345.65 443.91 346.61 444.13C347.58 444.35 348.82 444.91 349.92 445.46C351.02 446.01 352.26 446.84 353.23 447.44C354.19 448.05 354.74 448.74 355.71 449.10C356.67 449.45 357.91 449.40 359.01 449.59C360.12 449.78 361.36 449.78 362.32 450.25C363.29 450.72 363.98 451.36 364.80 452.40C365.63 453.45 366.46 455.16 367.28 456.54C368.11 457.92 368.94 459.29 369.76 460.67C370.59 462.05 371.42 463.43 372.24 464.81C373.07 466.18 373.90 467.62 374.72 468.94C375.55 470.26 376.79 472.11 377.21 472.74L377.21 479.00L301.96 479.00Z" fill="rgba(245,210,70,0.2)" stroke="none"/>
<path d="M301.96 479.36C302.65 479.19 304.72 479.14 306.10 478.37C307.47 477.59 308.99 475.89 310.23 474.73C311.47 473.57 312.43 472.58 313.54 471.42C314.64 470.26 315.74 468.94 316.84 467.78C317.95 466.62 319.05 465.52 320.15 464.47C321.25 463.43 322.36 462.68 323.46 461.50C324.56 460.31 325.66 458.88 326.77 457.36C327.87 455.85 328.97 453.92 330.07 452.40C331.18 450.89 332.28 449.29 333.38 448.27C334.48 447.25 335.59 446.78 336.69 446.28C337.79 445.79 338.76 445.65 340.00 445.29C341.24 444.93 343.03 444.33 344.13 444.13C345.23 443.94 345.65 443.91 346.61 444.13C347.58 444.35 348.82 444.91 349.92 445.46C351.02 446.01 352.26 446.84 353.23 447.44C354.19 448.05 354.74 448.74 355.71 449.10C356.67 449.45 357.91 449.40 359.01 449.59C360.12 449.78 361.36 449.78 362.32 450.25C363.29 450.72 363.98 451.36 364.80 452.40C365.63 453.45 366.46 455.16 367.28 456.54C368.11 457.92 368.94 459.29 369.76 460.67C370.59 462.05 371.42 463.43 372.24 464.81C373.07 466.18 373.90 467.62 374.72 468.94C375.55 470.26 376.79 472.11 377.21 472.74" fill="none" stroke="#f1c83f" stroke-width="1.1"/>
<rect x="298.10" y="432.00" width="81.75" height="10.4" fill="#fff" stroke="#2a2a2a" stroke-width="1.3"/>
<rect x="299.70" y="433.50" width="78.6" height="7.1" fill="#dddddd"/>
<text x="339.00" y="439.40" font-size="7.5" text-anchor="middle" fill="#333333" textLength="63.30" lengthAdjust="spacingAndGlyphs">Checkpoint inhibition</text>
<path d="M298.10 442.90V480.80H379.85" fill="none" stroke="#333333" stroke-width="1.2"/>
<text x="293.10" y="481.30" font-size="8.6" text-anchor="end" fill="#2b2b2b">0.0</text>
<text x="293.10" y="472.40" font-size="8.6" text-anchor="end" fill="#2b2b2b">0.1</text>
<text x="293.10" y="463.40" font-size="8.6" text-anchor="end" fill="#2b2b2b">0.2</text>
<text x="293.10" y="454.20" font-size="8.6" text-anchor="end" fill="#2b2b2b">0.3</text>
<text x="293.10" y="445.10" font-size="8.6" text-anchor="end" fill="#2b2b2b">0.4</text>
<text x="302.00" y="493.30" font-size="8.6" text-anchor="middle" fill="#2b2b2b">−2</text>
<text x="320.20" y="493.30" font-size="8.6" text-anchor="middle" fill="#2b2b2b">−1</text>
<text x="338.30" y="493.30" font-size="8.6" text-anchor="middle" fill="#2b2b2b">0</text>
<text x="356.50" y="493.30" font-size="8.6" text-anchor="middle" fill="#2b2b2b">1</text>
<text x="375.00" y="493.30" font-size="8.6" text-anchor="middle" fill="#2b2b2b">2</text>
<path d="M295.10 479.00H298.10M295.10 470.10H298.10M295.10 461.10H298.10M295.10 451.90H298.10M295.10 442.80H298.10M302.00 480.80V483.60M320.20 480.80V483.60M338.30 480.80V483.60M356.50 480.80V483.60M375.00 480.80V483.60" stroke="#333333" stroke-width="1" fill="none"/>
<path d="M432.63 471.42C433.10 470.59 434.42 468.25 435.44 466.46C436.46 464.67 437.65 462.46 438.75 460.67C439.85 458.88 440.82 457.36 442.06 455.71C443.30 454.06 444.81 451.99 446.19 450.75C447.57 449.51 448.95 448.87 450.33 448.27C451.70 447.66 453.22 447.19 454.46 447.11C455.70 447.03 456.66 447.39 457.77 447.77C458.87 448.16 459.97 448.87 461.07 449.43C462.18 449.98 463.14 450.50 464.38 451.08C465.62 451.66 467.14 452.21 468.52 452.90C469.89 453.59 471.27 454.28 472.65 455.21C474.03 456.15 475.41 457.34 476.78 458.52C478.16 459.71 479.54 461.06 480.92 462.33C482.30 463.59 483.67 465.03 485.05 466.13C486.43 467.23 487.81 468.11 489.19 468.94C490.57 469.77 491.94 470.40 493.32 471.09C494.70 471.78 496.08 472.33 497.46 473.07C498.83 473.82 500.35 474.78 501.59 475.55C502.83 476.33 503.93 477.24 504.90 477.70C505.86 478.17 506.96 478.26 507.38 478.37L507.38 479.00L432.63 479.00Z" fill="rgba(150,210,210,0.22)" stroke="none"/>
<path d="M432.63 471.42C433.10 470.59 434.42 468.25 435.44 466.46C436.46 464.67 437.65 462.46 438.75 460.67C439.85 458.88 440.82 457.36 442.06 455.71C443.30 454.06 444.81 451.99 446.19 450.75C447.57 449.51 448.95 448.87 450.33 448.27C451.70 447.66 453.22 447.19 454.46 447.11C455.70 447.03 456.66 447.39 457.77 447.77C458.87 448.16 459.97 448.87 461.07 449.43C462.18 449.98 463.14 450.50 464.38 451.08C465.62 451.66 467.14 452.21 468.52 452.90C469.89 453.59 471.27 454.28 472.65 455.21C474.03 456.15 475.41 457.34 476.78 458.52C478.16 459.71 479.54 461.06 480.92 462.33C482.30 463.59 483.67 465.03 485.05 466.13C486.43 467.23 487.81 468.11 489.19 468.94C490.57 469.77 491.94 470.40 493.32 471.09C494.70 471.78 496.08 472.33 497.46 473.07C498.83 473.82 500.35 474.78 501.59 475.55C502.83 476.33 503.93 477.24 504.90 477.70C505.86 478.17 506.96 478.26 507.38 478.37" fill="none" stroke="#9fd6c9" stroke-width="1.1"/>
<path d="M432.63 479.36C433.51 479.30 436.21 479.19 437.92 479.03C439.63 478.86 441.51 478.94 442.88 478.37C444.26 477.79 445.09 476.85 446.19 475.55C447.29 474.26 448.40 472.66 449.50 470.59C450.60 468.53 451.70 465.36 452.81 463.15C453.91 460.95 455.01 458.96 456.11 457.36C457.22 455.77 458.32 454.53 459.42 453.56C460.52 452.60 461.49 452.24 462.73 451.58C463.97 450.91 465.48 450.09 466.86 449.59C468.24 449.10 469.62 448.68 471.00 448.60C472.37 448.52 473.89 449.01 475.13 449.10C476.37 449.18 477.47 449.37 478.44 449.10C479.40 448.82 480.09 448.13 480.92 447.44C481.75 446.75 482.71 445.51 483.40 444.96C484.09 444.41 484.36 444.08 485.05 444.13C485.74 444.19 486.71 444.47 487.53 445.29C488.36 446.12 489.19 447.63 490.01 449.10C490.84 450.56 491.67 452.27 492.49 454.06C493.32 455.85 494.15 458.05 494.98 459.84C495.80 461.64 496.49 463.57 497.46 464.81C498.42 466.05 499.66 466.38 500.76 467.29C501.87 468.20 502.97 469.30 504.07 470.26C505.17 471.23 506.83 472.61 507.38 473.07L507.38 479.00L432.63 479.00Z" fill="rgba(245,210,70,0.2)" stroke="none"/>
<path d="M432.63 479.36C433.51 479.30 436.21 479.19 437.92 479.03C439.63 478.86 441.51 478.94 442.88 478.37C444.26 477.79 445.09 476.85 446.19 475.55C447.29 474.26 448.40 472.66 449.50 470.59C450.60 468.53 451.70 465.36 452.81 463.15C453.91 460.95 455.01 458.96 456.11 457.36C457.22 455.77 458.32 454.53 459.42 453.56C460.52 452.60 461.49 452.24 462.73 451.58C463.97 450.91 465.48 450.09 466.86 449.59C468.24 449.10 469.62 448.68 471.00 448.60C472.37 448.52 473.89 449.01 475.13 449.10C476.37 449.18 477.47 449.37 478.44 449.10C479.40 448.82 480.09 448.13 480.92 447.44C481.75 446.75 482.71 445.51 483.40 444.96C484.09 444.41 484.36 444.08 485.05 444.13C485.74 444.19 486.71 444.47 487.53 445.29C488.36 446.12 489.19 447.63 490.01 449.10C490.84 450.56 491.67 452.27 492.49 454.06C493.32 455.85 494.15 458.05 494.98 459.84C495.80 461.64 496.49 463.57 497.46 464.81C498.42 466.05 499.66 466.38 500.76 467.29C501.87 468.20 502.97 469.30 504.07 470.26C505.17 471.23 506.83 472.61 507.38 473.07" fill="none" stroke="#f1c83f" stroke-width="1.1"/>
<rect x="428.60" y="432.00" width="81.75" height="10.4" fill="#fff" stroke="#2a2a2a" stroke-width="1.3"/>
<rect x="430.20" y="433.50" width="78.6" height="7.1" fill="#dddddd"/>
<text x="469.50" y="439.40" font-size="7.5" text-anchor="middle" fill="#333333" textLength="38.13" lengthAdjust="spacingAndGlyphs">Chemokines</text>
<path d="M428.60 442.90V480.80H510.35" fill="none" stroke="#333333" stroke-width="1.2"/>
<text x="423.60" y="481.30" font-size="8.6" text-anchor="end" fill="#2b2b2b">0.0</text>
<text x="423.60" y="473.00" font-size="8.6" text-anchor="end" fill="#2b2b2b">0.1</text>
<text x="423.60" y="464.60" font-size="8.6" text-anchor="end" fill="#2b2b2b">0.2</text>
<text x="423.60" y="456.00" font-size="8.6" text-anchor="end" fill="#2b2b2b">0.3</text>
<text x="423.60" y="447.80" font-size="8.6" text-anchor="end" fill="#2b2b2b">0.4</text>
<text x="435.40" y="493.30" font-size="8.6" text-anchor="middle" fill="#2b2b2b">−2</text>
<text x="452.80" y="493.30" font-size="8.6" text-anchor="middle" fill="#2b2b2b">−1</text>
<text x="469.80" y="493.30" font-size="8.6" text-anchor="middle" fill="#2b2b2b">0</text>
<text x="486.70" y="493.30" font-size="8.6" text-anchor="middle" fill="#2b2b2b">1</text>
<text x="504.10" y="493.30" font-size="8.6" text-anchor="middle" fill="#2b2b2b">2</text>
<path d="M425.60 479.00H428.60M425.60 470.70H428.60M425.60 462.30H428.60M425.60 453.70H428.60M425.60 445.50H428.60M435.40 480.80V483.60M452.80 480.80V483.60M469.80 480.80V483.60M486.70 480.80V483.60M504.10 480.80V483.60" stroke="#333333" stroke-width="1" fill="none"/>
<path d="M40.63 537.59C41.10 536.77 42.42 534.42 43.44 532.63C44.46 530.84 45.65 528.64 46.75 526.84C47.85 525.05 48.95 523.26 50.06 521.88C51.16 520.51 52.26 519.35 53.36 518.58C54.47 517.80 55.57 517.45 56.67 517.25C57.77 517.06 58.88 517.61 59.98 517.42C61.08 517.23 62.18 516.73 63.29 516.10C64.39 515.46 65.49 514.44 66.59 513.61C67.70 512.79 68.80 511.74 69.90 511.13C71.00 510.53 72.24 510.06 73.21 509.98C74.17 509.89 74.86 509.89 75.69 510.64C76.52 511.38 77.34 513.12 78.17 514.44C79.00 515.76 79.69 517.06 80.65 518.58C81.61 520.09 82.86 522.02 83.96 523.54C85.06 525.05 86.16 526.43 87.27 527.67C88.37 528.91 89.47 530.01 90.57 530.98C91.67 531.94 92.78 532.77 93.88 533.46C94.98 534.15 95.95 534.62 97.19 535.11C98.43 535.61 99.94 535.88 101.32 536.44C102.70 536.99 104.08 537.81 105.46 538.42C106.83 539.03 108.35 539.52 109.59 540.07C110.83 540.63 111.80 541.12 112.90 541.73C114.00 542.33 115.65 543.38 116.21 543.71L116.21 546.60L40.63 546.60Z" fill="rgba(150,210,210,0.22)" stroke="none"/>
<path d="M40.63 537.59C41.10 536.77 42.42 534.42 43.44 532.63C44.46 530.84 45.65 528.64 46.75 526.84C47.85 525.05 48.95 523.26 50.06 521.88C51.16 520.51 52.26 519.35 53.36 518.58C54.47 517.80 55.57 517.45 56.67 517.25C57.77 517.06 58.88 517.61 59.98 517.42C61.08 517.23 62.18 516.73 63.29 516.10C64.39 515.46 65.49 514.44 66.59 513.61C67.70 512.79 68.80 511.74 69.90 511.13C71.00 510.53 72.24 510.06 73.21 509.98C74.17 509.89 74.86 509.89 75.69 510.64C76.52 511.38 77.34 513.12 78.17 514.44C79.00 515.76 79.69 517.06 80.65 518.58C81.61 520.09 82.86 522.02 83.96 523.54C85.06 525.05 86.16 526.43 87.27 527.67C88.37 528.91 89.47 530.01 90.57 530.98C91.67 531.94 92.78 532.77 93.88 533.46C94.98 534.15 95.95 534.62 97.19 535.11C98.43 535.61 99.94 535.88 101.32 536.44C102.70 536.99 104.08 537.81 105.46 538.42C106.83 539.03 108.35 539.52 109.59 540.07C110.83 540.63 111.80 541.12 112.90 541.73C114.00 542.33 115.65 543.38 116.21 543.71" fill="none" stroke="#9fd6c9" stroke-width="1.1"/>
<path d="M40.63 545.04C41.24 544.70 43.11 544.02 44.27 543.05C45.43 542.09 46.47 540.71 47.58 539.25C48.68 537.79 49.78 535.80 50.88 534.29C51.99 532.77 53.09 531.45 54.19 530.15C55.29 528.86 56.40 527.62 57.50 526.51C58.60 525.41 59.70 524.45 60.81 523.54C61.91 522.63 63.01 522.02 64.11 521.06C65.22 520.09 66.32 518.77 67.42 517.75C68.52 516.73 69.63 515.76 70.73 514.94C71.83 514.11 72.93 513.28 74.04 512.79C75.14 512.29 76.24 512.15 77.34 511.96C78.45 511.77 79.55 511.63 80.65 511.63C81.75 511.63 82.86 511.58 83.96 511.96C85.06 512.35 86.16 512.71 87.27 513.95C88.37 515.19 89.47 517.39 90.57 519.40C91.67 521.41 92.78 524.09 93.88 526.02C94.98 527.95 96.22 529.79 97.19 530.98C98.15 532.16 98.84 532.72 99.67 533.13C100.49 533.54 101.18 533.60 102.15 533.46C103.11 533.32 104.49 532.58 105.46 532.30C106.42 532.03 107.11 531.70 107.94 531.81C108.76 531.92 109.59 532.41 110.42 532.96C111.24 533.51 112.07 534.34 112.90 535.11C113.72 535.88 114.96 537.18 115.38 537.59L115.38 546.60L40.63 546.60Z" fill="rgba(245,210,70,0.2)" stroke="none"/>
<path d="M40.63 545.04C41.24 544.70 43.11 544.02 44.27 543.05C45.43 542.09 46.47 540.71 47.58 539.25C48.68 537.79 49.78 535.80 50.88 534.29C51.99 532.77 53.09 531.45 54.19 530.15C55.29 528.86 56.40 527.62 57.50 526.51C58.60 525.41 59.70 524.45 60.81 523.54C61.91 522.63 63.01 522.02 64.11 521.06C65.22 520.09 66.32 518.77 67.42 517.75C68.52 516.73 69.63 515.76 70.73 514.94C71.83 514.11 72.93 513.28 74.04 512.79C75.14 512.29 76.24 512.15 77.34 511.96C78.45 511.77 79.55 511.63 80.65 511.63C81.75 511.63 82.86 511.58 83.96 511.96C85.06 512.35 86.16 512.71 87.27 513.95C88.37 515.19 89.47 517.39 90.57 519.40C91.67 521.41 92.78 524.09 93.88 526.02C94.98 527.95 96.22 529.79 97.19 530.98C98.15 532.16 98.84 532.72 99.67 533.13C100.49 533.54 101.18 533.60 102.15 533.46C103.11 533.32 104.49 532.58 105.46 532.30C106.42 532.03 107.11 531.70 107.94 531.81C108.76 531.92 109.59 532.41 110.42 532.96C111.24 533.51 112.07 534.34 112.90 535.11C113.72 535.88 114.96 537.18 115.38 537.59" fill="none" stroke="#f1c83f" stroke-width="1.1"/>
<rect x="37.10" y="498.80" width="81.75" height="10.4" fill="#fff" stroke="#2a2a2a" stroke-width="1.3"/>
<rect x="38.70" y="500.30" width="78.6" height="7.1" fill="#dddddd"/>
<text x="78.00" y="506.20" font-size="7.5" text-anchor="middle" fill="#333333" textLength="30.12" lengthAdjust="spacingAndGlyphs">Cytokines</text>
<path d="M37.10 509.70V547.60H118.85" fill="none" stroke="#333333" stroke-width="1.2"/>
<text x="32.10" y="548.90" font-size="8.6" text-anchor="end" fill="#2b2b2b">0.0</text>
<text x="32.10" y="539.80" font-size="8.6" text-anchor="end" fill="#2b2b2b">0.1</text>
<text x="32.10" y="530.90" font-size="8.6" text-anchor="end" fill="#2b2b2b">0.2</text>
<text x="32.10" y="521.90" font-size="8.6" text-anchor="end" fill="#2b2b2b">0.3</text>
<text x="32.10" y="513.00" font-size="8.6" text-anchor="end" fill="#2b2b2b">0.4</text>
<text x="41.30" y="560.10" font-size="8.6" text-anchor="middle" fill="#2b2b2b">−2</text>
<text x="58.70" y="560.10" font-size="8.6" text-anchor="middle" fill="#2b2b2b">−1</text>
<text x="75.70" y="560.10" font-size="8.6" text-anchor="middle" fill="#2b2b2b">0</text>
<text x="93.10" y="560.10" font-size="8.6" text-anchor="middle" fill="#2b2b2b">1</text>
<text x="109.90" y="560.10" font-size="8.6" text-anchor="middle" fill="#2b2b2b">2</text>
<path d="M34.10 546.60H37.10M34.10 537.50H37.10M34.10 528.60H37.10M34.10 519.60H37.10M34.10 510.70H37.10M41.30 547.60V550.40M58.70 547.60V550.40M75.70 547.60V550.40M93.10 547.60V550.40M109.90 547.60V550.40" stroke="#333333" stroke-width="1" fill="none"/>
<path d="M170.64 536.77C171.13 535.80 172.57 533.05 173.61 530.98C174.66 528.91 175.82 526.38 176.92 524.36C178.02 522.35 179.13 520.28 180.23 518.91C181.33 517.53 182.43 516.78 183.54 516.10C184.64 515.41 185.74 514.97 186.84 514.77C187.95 514.58 189.05 514.63 190.15 514.94C191.25 515.24 192.36 515.93 193.46 516.59C194.56 517.25 195.66 518.08 196.77 518.91C197.87 519.73 198.97 520.92 200.07 521.55C201.18 522.19 202.28 522.38 203.38 522.71C204.48 523.04 205.59 523.12 206.69 523.54C207.79 523.95 208.89 524.50 210.00 525.19C211.10 525.88 212.20 526.84 213.30 527.67C214.41 528.50 215.51 529.41 216.61 530.15C217.71 530.90 218.82 531.53 219.92 532.14C221.02 532.74 222.12 533.29 223.23 533.79C224.33 534.29 225.43 534.75 226.53 535.11C227.64 535.47 228.74 535.61 229.84 535.94C230.94 536.27 232.05 536.63 233.15 537.10C234.25 537.57 235.35 538.20 236.46 538.75C237.56 539.30 238.66 539.83 239.76 540.40C240.87 540.98 242.02 541.67 243.07 542.22C244.12 542.78 245.55 543.46 246.05 543.71L246.05 546.40L170.64 546.40Z" fill="rgba(150,210,210,0.22)" stroke="none"/>
<path d="M170.64 536.77C171.13 535.80 172.57 533.05 173.61 530.98C174.66 528.91 175.82 526.38 176.92 524.36C178.02 522.35 179.13 520.28 180.23 518.91C181.33 517.53 182.43 516.78 183.54 516.10C184.64 515.41 185.74 514.97 186.84 514.77C187.95 514.58 189.05 514.63 190.15 514.94C191.25 515.24 192.36 515.93 193.46 516.59C194.56 517.25 195.66 518.08 196.77 518.91C197.87 519.73 198.97 520.92 200.07 521.55C201.18 522.19 202.28 522.38 203.38 522.71C204.48 523.04 205.59 523.12 206.69 523.54C207.79 523.95 208.89 524.50 210.00 525.19C211.10 525.88 212.20 526.84 213.30 527.67C214.41 528.50 215.51 529.41 216.61 530.15C217.71 530.90 218.82 531.53 219.92 532.14C221.02 532.74 222.12 533.29 223.23 533.79C224.33 534.29 225.43 534.75 226.53 535.11C227.64 535.47 228.74 535.61 229.84 535.94C230.94 536.27 232.05 536.63 233.15 537.10C234.25 537.57 235.35 538.20 236.46 538.75C237.56 539.30 238.66 539.83 239.76 540.40C240.87 540.98 242.02 541.67 243.07 542.22C244.12 542.78 245.55 543.46 246.05 543.71" fill="none" stroke="#9fd6c9" stroke-width="1.1"/>
<path d="M170.64 545.37C171.27 545.31 173.12 545.37 174.44 545.04C175.76 544.70 177.20 543.99 178.58 543.38C179.95 542.78 181.33 542.00 182.71 541.40C184.09 540.79 185.47 540.24 186.84 539.74C188.22 539.25 189.60 539.05 190.98 538.42C192.36 537.79 193.74 536.77 195.11 535.94C196.49 535.11 198.01 534.20 199.25 533.46C200.49 532.72 201.45 532.44 202.55 531.47C203.66 530.51 204.90 528.99 205.86 527.67C206.83 526.35 207.52 524.92 208.34 523.54C209.17 522.16 210.00 520.64 210.82 519.40C211.65 518.16 212.34 517.20 213.30 516.10C214.27 514.99 215.51 513.70 216.61 512.79C217.71 511.88 218.82 511.11 219.92 510.64C221.02 510.17 222.12 509.89 223.23 509.98C224.33 510.06 225.43 510.61 226.53 511.13C227.64 511.66 228.74 512.48 229.84 513.12C230.94 513.75 232.18 514.17 233.15 514.94C234.11 515.71 234.80 516.45 235.63 517.75C236.46 519.04 237.28 521.06 238.11 522.71C238.94 524.36 239.76 526.02 240.59 527.67C241.42 529.33 242.24 531.06 243.07 532.63C243.90 534.20 245.14 536.35 245.55 537.10L245.55 546.40L170.64 546.40Z" fill="rgba(245,210,70,0.2)" stroke="none"/>
<path d="M170.64 545.37C171.27 545.31 173.12 545.37 174.44 545.04C175.76 544.70 177.20 543.99 178.58 543.38C179.95 542.78 181.33 542.00 182.71 541.40C184.09 540.79 185.47 540.24 186.84 539.74C188.22 539.25 189.60 539.05 190.98 538.42C192.36 537.79 193.74 536.77 195.11 535.94C196.49 535.11 198.01 534.20 199.25 533.46C200.49 532.72 201.45 532.44 202.55 531.47C203.66 530.51 204.90 528.99 205.86 527.67C206.83 526.35 207.52 524.92 208.34 523.54C209.17 522.16 210.00 520.64 210.82 519.40C211.65 518.16 212.34 517.20 213.30 516.10C214.27 514.99 215.51 513.70 216.61 512.79C217.71 511.88 218.82 511.11 219.92 510.64C221.02 510.17 222.12 509.89 223.23 509.98C224.33 510.06 225.43 510.61 226.53 511.13C227.64 511.66 228.74 512.48 229.84 513.12C230.94 513.75 232.18 514.17 233.15 514.94C234.11 515.71 234.80 516.45 235.63 517.75C236.46 519.04 237.28 521.06 238.11 522.71C238.94 524.36 239.76 526.02 240.59 527.67C241.42 529.33 242.24 531.06 243.07 532.63C243.90 534.20 245.14 536.35 245.55 537.10" fill="none" stroke="#f1c83f" stroke-width="1.1"/>
<rect x="167.60" y="498.80" width="81.75" height="10.4" fill="#fff" stroke="#2a2a2a" stroke-width="1.3"/>
<rect x="169.20" y="500.30" width="78.6" height="7.1" fill="#dddddd"/>
<text x="208.50" y="506.20" font-size="7.5" text-anchor="middle" fill="#333333" textLength="54.26" lengthAdjust="spacingAndGlyphs">Effector cell traffic</text>
<path d="M167.60 509.70V547.60H249.35" fill="none" stroke="#333333" stroke-width="1.2"/>
<text x="162.60" y="548.70" font-size="8.6" text-anchor="end" fill="#2b2b2b">0.0</text>
<text x="162.60" y="541.10" font-size="8.6" text-anchor="end" fill="#2b2b2b">0.1</text>
<text x="162.60" y="533.60" font-size="8.6" text-anchor="end" fill="#2b2b2b">0.2</text>
<text x="162.60" y="526.50" font-size="8.6" text-anchor="end" fill="#2b2b2b">0.3</text>
<text x="162.60" y="518.70" font-size="8.6" text-anchor="end" fill="#2b2b2b">0.4</text>
<text x="162.60" y="511.30" font-size="8.6" text-anchor="end" fill="#2b2b2b">0.5</text>
<text x="172.00" y="560.10" font-size="8.6" text-anchor="middle" fill="#2b2b2b">−2</text>
<text x="191.00" y="560.10" font-size="8.6" text-anchor="middle" fill="#2b2b2b">−1</text>
<text x="210.30" y="560.10" font-size="8.6" text-anchor="middle" fill="#2b2b2b">0</text>
<text x="229.50" y="560.10" font-size="8.6" text-anchor="middle" fill="#2b2b2b">1</text>
<text x="248.00" y="560.10" font-size="8.6" text-anchor="middle" fill="#2b2b2b">2</text>
<path d="M164.60 546.40H167.60M164.60 538.80H167.60M164.60 531.30H167.60M164.60 524.20H167.60M164.60 516.40H167.60M164.60 509.00H167.60M172.00 547.60V550.40M191.00 547.60V550.40M210.30 547.60V550.40M229.50 547.60V550.40M248.00 547.60V550.40" stroke="#333333" stroke-width="1" fill="none"/>
<path d="M301.96 542.06C302.51 541.59 304.17 540.54 305.27 539.25C306.37 537.95 307.47 536.08 308.58 534.29C309.68 532.49 310.78 530.29 311.88 528.50C312.99 526.71 314.09 524.97 315.19 523.54C316.29 522.10 317.40 520.95 318.50 519.90C319.60 518.85 320.70 517.97 321.81 517.25C322.91 516.54 324.01 515.99 325.11 515.60C326.22 515.21 327.32 514.94 328.42 514.94C329.52 514.94 330.63 515.21 331.73 515.60C332.83 515.99 333.93 516.70 335.04 517.25C336.14 517.80 337.24 518.41 338.34 518.91C339.45 519.40 340.55 519.84 341.65 520.23C342.75 520.62 343.86 520.89 344.96 521.22C346.06 521.55 347.16 521.83 348.27 522.21C349.37 522.60 350.47 522.99 351.57 523.54C352.67 524.09 353.78 524.75 354.88 525.52C355.98 526.29 357.08 527.31 358.19 528.17C359.29 529.02 360.39 529.82 361.49 530.65C362.60 531.47 363.70 532.33 364.80 533.13C365.90 533.93 367.01 534.70 368.11 535.44C369.21 536.19 370.31 536.88 371.42 537.59C372.52 538.31 373.76 539.16 374.72 539.74C375.69 540.32 376.79 540.85 377.21 541.07L377.21 546.10L301.96 546.10Z" fill="rgba(150,210,210,0.22)" stroke="none"/>
<path d="M301.96 542.06C302.51 541.59 304.17 540.54 305.27 539.25C306.37 537.95 307.47 536.08 308.58 534.29C309.68 532.49 310.78 530.29 311.88 528.50C312.99 526.71 314.09 524.97 315.19 523.54C316.29 522.10 317.40 520.95 318.50 519.90C319.60 518.85 320.70 517.97 321.81 517.25C322.91 516.54 324.01 515.99 325.11 515.60C326.22 515.21 327.32 514.94 328.42 514.94C329.52 514.94 330.63 515.21 331.73 515.60C332.83 515.99 333.93 516.70 335.04 517.25C336.14 517.80 337.24 518.41 338.34 518.91C339.45 519.40 340.55 519.84 341.65 520.23C342.75 520.62 343.86 520.89 344.96 521.22C346.06 521.55 347.16 521.83 348.27 522.21C349.37 522.60 350.47 522.99 351.57 523.54C352.67 524.09 353.78 524.75 354.88 525.52C355.98 526.29 357.08 527.31 358.19 528.17C359.29 529.02 360.39 529.82 361.49 530.65C362.60 531.47 363.70 532.33 364.80 533.13C365.90 533.93 367.01 534.70 368.11 535.44C369.21 536.19 370.31 536.88 371.42 537.59C372.52 538.31 373.76 539.16 374.72 539.74C375.69 540.32 376.79 540.85 377.21 541.07" fill="none" stroke="#9fd6c9" stroke-width="1.1"/>
<path d="M301.96 545.37C302.65 545.26 304.72 545.31 306.10 544.70C307.47 544.10 308.99 542.91 310.23 541.73C311.47 540.54 312.43 538.97 313.54 537.59C314.64 536.22 315.60 534.56 316.84 533.46C318.08 532.36 319.60 531.81 320.98 530.98C322.36 530.15 323.87 529.46 325.11 528.50C326.35 527.53 327.46 526.43 328.42 525.19C329.39 523.95 330.07 522.57 330.90 521.06C331.73 519.54 332.55 517.47 333.38 516.10C334.21 514.72 335.04 513.70 335.86 512.79C336.69 511.88 337.38 511.11 338.34 510.64C339.31 510.17 340.55 509.98 341.65 509.98C342.75 509.98 343.86 510.17 344.96 510.64C346.06 511.11 347.16 512.15 348.27 512.79C349.37 513.42 350.47 513.89 351.57 514.44C352.67 514.99 353.78 515.54 354.88 516.10C355.98 516.65 357.22 517.12 358.19 517.75C359.15 518.38 359.84 518.93 360.67 519.90C361.49 520.86 362.18 522.10 363.15 523.54C364.11 524.97 365.35 526.84 366.46 528.50C367.56 530.15 368.66 531.94 369.76 533.46C370.87 534.98 371.83 536.35 373.07 537.59C374.31 538.83 376.52 540.35 377.21 540.90L377.21 546.10L301.96 546.10Z" fill="rgba(245,210,70,0.2)" stroke="none"/>
<path d="M301.96 545.37C302.65 545.26 304.72 545.31 306.10 544.70C307.47 544.10 308.99 542.91 310.23 541.73C311.47 540.54 312.43 538.97 313.54 537.59C314.64 536.22 315.60 534.56 316.84 533.46C318.08 532.36 319.60 531.81 320.98 530.98C322.36 530.15 323.87 529.46 325.11 528.50C326.35 527.53 327.46 526.43 328.42 525.19C329.39 523.95 330.07 522.57 330.90 521.06C331.73 519.54 332.55 517.47 333.38 516.10C334.21 514.72 335.04 513.70 335.86 512.79C336.69 511.88 337.38 511.11 338.34 510.64C339.31 510.17 340.55 509.98 341.65 509.98C342.75 509.98 343.86 510.17 344.96 510.64C346.06 511.11 347.16 512.15 348.27 512.79C349.37 513.42 350.47 513.89 351.57 514.44C352.67 514.99 353.78 515.54 354.88 516.10C355.98 516.65 357.22 517.12 358.19 517.75C359.15 518.38 359.84 518.93 360.67 519.90C361.49 520.86 362.18 522.10 363.15 523.54C364.11 524.97 365.35 526.84 366.46 528.50C367.56 530.15 368.66 531.94 369.76 533.46C370.87 534.98 371.83 536.35 373.07 537.59C374.31 538.83 376.52 540.35 377.21 540.90" fill="none" stroke="#f1c83f" stroke-width="1.1"/>
<rect x="298.10" y="498.80" width="81.75" height="10.4" fill="#fff" stroke="#2a2a2a" stroke-width="1.3"/>
<rect x="299.70" y="500.30" width="78.6" height="7.1" fill="#dddddd"/>
<text x="339.00" y="506.20" font-size="7.5" text-anchor="middle" fill="#333333" textLength="76.88" lengthAdjust="spacingAndGlyphs">Follicular B-helper T-cells</text>
<path d="M298.10 509.70V547.60H379.85" fill="none" stroke="#333333" stroke-width="1.2"/>
<text x="293.10" y="548.40" font-size="8.6" text-anchor="end" fill="#2b2b2b">0.0</text>
<text x="293.10" y="539.30" font-size="8.6" text-anchor="end" fill="#2b2b2b">0.1</text>
<text x="293.10" y="530.40" font-size="8.6" text-anchor="end" fill="#2b2b2b">0.2</text>
<text x="293.10" y="521.10" font-size="8.6" text-anchor="end" fill="#2b2b2b">0.3</text>
<text x="293.10" y="512.00" font-size="8.6" text-anchor="end" fill="#2b2b2b">0.4</text>
<text x="308.60" y="560.10" font-size="8.6" text-anchor="middle" fill="#2b2b2b">−2</text>
<text x="325.10" y="560.10" font-size="8.6" text-anchor="middle" fill="#2b2b2b">−1</text>
<text x="341.70" y="560.10" font-size="8.6" text-anchor="middle" fill="#2b2b2b">0</text>
<text x="358.50" y="560.10" font-size="8.6" text-anchor="middle" fill="#2b2b2b">1</text>
<text x="375.10" y="560.10" font-size="8.6" text-anchor="middle" fill="#2b2b2b">2</text>
<path d="M295.10 546.10H298.10M295.10 537.00H298.10M295.10 528.10H298.10M295.10 518.80H298.10M295.10 509.70H298.10M308.60 547.60V550.40M325.10 547.60V550.40M341.70 547.60V550.40M358.50 547.60V550.40M375.10 547.60V550.40" stroke="#333333" stroke-width="1" fill="none"/>
<path d="M431.64 542.55C432.27 542.36 434.12 541.73 435.44 541.40C436.76 541.07 438.06 540.79 439.58 540.57C441.09 540.35 443.02 540.43 444.54 540.07C446.05 539.72 447.29 539.25 448.67 538.42C450.05 537.59 451.57 536.35 452.81 535.11C454.05 533.87 455.01 532.22 456.11 530.98C457.22 529.74 458.32 528.58 459.42 527.67C460.52 526.76 461.63 526.07 462.73 525.52C463.83 524.97 464.93 524.61 466.04 524.36C467.14 524.12 468.24 524.09 469.34 524.03C470.45 523.98 471.55 523.98 472.65 524.03C473.75 524.09 474.86 524.45 475.96 524.36C477.06 524.28 478.16 524.09 479.27 523.54C480.37 522.99 481.47 522.02 482.57 521.06C483.67 520.09 484.78 518.85 485.88 517.75C486.98 516.65 488.08 515.32 489.19 514.44C490.29 513.56 491.53 512.87 492.49 512.46C493.46 512.04 494.15 511.91 494.98 511.96C495.80 512.02 496.63 512.24 497.46 512.79C498.28 513.34 499.11 514.17 499.94 515.27C500.76 516.37 501.59 517.89 502.42 519.40C503.24 520.92 504.13 522.71 504.90 524.36C505.67 526.02 506.69 528.50 507.05 529.33L507.05 546.40L431.64 546.40Z" fill="rgba(150,210,210,0.22)" stroke="none"/>
<path d="M431.64 542.55C432.27 542.36 434.12 541.73 435.44 541.40C436.76 541.07 438.06 540.79 439.58 540.57C441.09 540.35 443.02 540.43 444.54 540.07C446.05 539.72 447.29 539.25 448.67 538.42C450.05 537.59 451.57 536.35 452.81 535.11C454.05 533.87 455.01 532.22 456.11 530.98C457.22 529.74 458.32 528.58 459.42 527.67C460.52 526.76 461.63 526.07 462.73 525.52C463.83 524.97 464.93 524.61 466.04 524.36C467.14 524.12 468.24 524.09 469.34 524.03C470.45 523.98 471.55 523.98 472.65 524.03C473.75 524.09 474.86 524.45 475.96 524.36C477.06 524.28 478.16 524.09 479.27 523.54C480.37 522.99 481.47 522.02 482.57 521.06C483.67 520.09 484.78 518.85 485.88 517.75C486.98 516.65 488.08 515.32 489.19 514.44C490.29 513.56 491.53 512.87 492.49 512.46C493.46 512.04 494.15 511.91 494.98 511.96C495.80 512.02 496.63 512.24 497.46 512.79C498.28 513.34 499.11 514.17 499.94 515.27C500.76 516.37 501.59 517.89 502.42 519.40C503.24 520.92 504.13 522.71 504.90 524.36C505.67 526.02 506.69 528.50 507.05 529.33" fill="none" stroke="#9fd6c9" stroke-width="1.1"/>
<path d="M431.64 532.63C432.13 531.39 433.57 527.67 434.61 525.19C435.66 522.71 436.82 519.95 437.92 517.75C439.02 515.54 440.13 513.34 441.23 511.96C442.33 510.58 443.57 509.76 444.54 509.48C445.50 509.20 446.19 509.67 447.02 510.31C447.84 510.94 448.67 512.04 449.50 513.28C450.33 514.52 451.15 516.32 451.98 517.75C452.81 519.18 453.63 520.64 454.46 521.88C455.29 523.12 456.11 524.31 456.94 525.19C457.77 526.07 458.46 526.68 459.42 527.18C460.39 527.67 461.49 527.95 462.73 528.17C463.97 528.39 465.48 528.44 466.86 528.50C468.24 528.55 469.62 528.36 471.00 528.50C472.37 528.64 473.75 528.97 475.13 529.33C476.51 529.68 477.89 530.23 479.27 530.65C480.64 531.06 482.02 531.39 483.40 531.81C484.78 532.22 486.16 532.66 487.53 533.13C488.91 533.60 490.29 534.07 491.67 534.62C493.05 535.17 494.42 535.75 495.80 536.44C497.18 537.13 498.70 538.06 499.94 538.75C501.18 539.44 502.14 539.94 503.24 540.57C504.35 541.20 506.00 542.22 506.55 542.55L506.55 546.40L431.64 546.40Z" fill="rgba(245,210,70,0.2)" stroke="none"/>
<path d="M431.64 532.63C432.13 531.39 433.57 527.67 434.61 525.19C435.66 522.71 436.82 519.95 437.92 517.75C439.02 515.54 440.13 513.34 441.23 511.96C442.33 510.58 443.57 509.76 444.54 509.48C445.50 509.20 446.19 509.67 447.02 510.31C447.84 510.94 448.67 512.04 449.50 513.28C450.33 514.52 451.15 516.32 451.98 517.75C452.81 519.18 453.63 520.64 454.46 521.88C455.29 523.12 456.11 524.31 456.94 525.19C457.77 526.07 458.46 526.68 459.42 527.18C460.39 527.67 461.49 527.95 462.73 528.17C463.97 528.39 465.48 528.44 466.86 528.50C468.24 528.55 469.62 528.36 471.00 528.50C472.37 528.64 473.75 528.97 475.13 529.33C476.51 529.68 477.89 530.23 479.27 530.65C480.64 531.06 482.02 531.39 483.40 531.81C484.78 532.22 486.16 532.66 487.53 533.13C488.91 533.60 490.29 534.07 491.67 534.62C493.05 535.17 494.42 535.75 495.80 536.44C497.18 537.13 498.70 538.06 499.94 538.75C501.18 539.44 502.14 539.94 503.24 540.57C504.35 541.20 506.00 542.22 506.55 542.55" fill="none" stroke="#f1c83f" stroke-width="1.1"/>
<rect x="428.60" y="498.80" width="81.75" height="10.4" fill="#fff" stroke="#2a2a2a" stroke-width="1.3"/>
<rect x="430.20" y="500.30" width="78.6" height="7.1" fill="#dddddd"/>
<text x="469.50" y="506.20" font-size="7.5" text-anchor="middle" fill="#333333" textLength="70.91" lengthAdjust="spacingAndGlyphs">Follicular dendritic cells</text>
<path d="M428.60 509.70V547.60H510.35" fill="none" stroke="#333333" stroke-width="1.2"/>
<text x="423.60" y="548.70" font-size="8.6" text-anchor="end" fill="#2b2b2b">0.0</text>
<text x="423.60" y="535.10" font-size="8.6" text-anchor="end" fill="#2b2b2b">0.2</text>
<text x="423.60" y="521.50" font-size="8.6" text-anchor="end" fill="#2b2b2b">0.4</text>
<text x="449.20" y="560.10" font-size="8.6" text-anchor="middle" fill="#2b2b2b">−1</text>
<text x="470.70" y="560.10" font-size="8.6" text-anchor="middle" fill="#2b2b2b">0</text>
<text x="492.50" y="560.10" font-size="8.6" text-anchor="middle" fill="#2b2b2b">1</text>
<path d="M425.60 546.40H428.60M425.60 532.80H428.60M425.60 519.20H428.60M449.20 547.60V550.40M470.70 547.60V550.40M492.50 547.60V550.40" stroke="#333333" stroke-width="1" fill="none"/>
<path d="M40.13 599.63C40.55 598.53 41.79 595.08 42.61 593.02C43.44 590.95 44.13 589.02 45.10 587.23C46.06 585.44 47.30 583.43 48.40 582.27C49.51 581.11 50.61 580.61 51.71 580.28C52.81 579.95 53.92 580.09 55.02 580.28C56.12 580.48 57.22 581.03 58.33 581.44C59.43 581.86 60.53 582.41 61.63 582.76C62.74 583.12 63.70 583.40 64.94 583.59C66.18 583.78 67.70 583.81 69.07 583.92C70.45 584.03 71.97 584.06 73.21 584.25C74.45 584.45 75.41 584.64 76.52 585.08C77.62 585.52 78.72 586.21 79.82 586.90C80.93 587.59 82.03 588.47 83.13 589.21C84.23 589.96 85.34 590.65 86.44 591.36C87.54 592.08 88.64 592.82 89.75 593.51C90.85 594.20 91.95 594.89 93.05 595.50C94.16 596.10 95.26 596.55 96.36 597.15C97.46 597.76 98.57 598.39 99.67 599.14C100.77 599.88 101.87 600.79 102.98 601.62C104.08 602.44 105.18 603.24 106.28 604.10C107.39 604.95 108.49 605.97 109.59 606.74C110.69 607.52 111.80 608.12 112.90 608.73C114.00 609.33 115.65 610.11 116.21 610.38L116.21 612.20L40.13 612.20Z" fill="rgba(150,210,210,0.22)" stroke="none"/>
<path d="M40.13 599.63C40.55 598.53 41.79 595.08 42.61 593.02C43.44 590.95 44.13 589.02 45.10 587.23C46.06 585.44 47.30 583.43 48.40 582.27C49.51 581.11 50.61 580.61 51.71 580.28C52.81 579.95 53.92 580.09 55.02 580.28C56.12 580.48 57.22 581.03 58.33 581.44C59.43 581.86 60.53 582.41 61.63 582.76C62.74 583.12 63.70 583.40 64.94 583.59C66.18 583.78 67.70 583.81 69.07 583.92C70.45 584.03 71.97 584.06 73.21 584.25C74.45 584.45 75.41 584.64 76.52 585.08C77.62 585.52 78.72 586.21 79.82 586.90C80.93 587.59 82.03 588.47 83.13 589.21C84.23 589.96 85.34 590.65 86.44 591.36C87.54 592.08 88.64 592.82 89.75 593.51C90.85 594.20 91.95 594.89 93.05 595.50C94.16 596.10 95.26 596.55 96.36 597.15C97.46 597.76 98.57 598.39 99.67 599.14C100.77 599.88 101.87 600.79 102.98 601.62C104.08 602.44 105.18 603.24 106.28 604.10C107.39 604.95 108.49 605.97 109.59 606.74C110.69 607.52 111.80 608.12 112.90 608.73C114.00 609.33 115.65 610.11 116.21 610.38" fill="none" stroke="#9fd6c9" stroke-width="1.1"/>
<path d="M40.13 610.38C40.82 610.33 42.89 610.33 44.27 610.05C45.65 609.78 47.16 609.50 48.40 608.73C49.64 607.96 50.61 606.80 51.71 605.42C52.81 604.04 53.92 602.25 55.02 600.46C56.12 598.67 57.22 596.60 58.33 594.67C59.43 592.74 60.67 590.67 61.63 588.88C62.60 587.09 63.29 585.44 64.11 583.92C64.94 582.41 65.63 580.89 66.59 579.79C67.56 578.69 68.80 577.86 69.90 577.31C71.00 576.76 72.24 576.54 73.21 576.48C74.17 576.43 74.86 576.62 75.69 576.98C76.52 577.33 77.34 577.89 78.17 578.63C79.00 579.37 79.82 580.56 80.65 581.44C81.48 582.32 82.30 583.32 83.13 583.92C83.96 584.53 84.78 585.08 85.61 585.08C86.44 585.08 87.27 584.53 88.09 583.92C88.92 583.32 89.75 582.13 90.57 581.44C91.40 580.75 92.23 580.20 93.05 579.79C93.88 579.37 94.71 578.96 95.53 578.96C96.36 578.96 97.19 579.10 98.01 579.79C98.84 580.48 99.67 581.72 100.49 583.10C101.32 584.47 102.15 586.27 102.98 588.06C103.80 589.85 104.63 592.05 105.46 593.84C106.28 595.64 107.11 597.15 107.94 598.81C108.76 600.46 109.59 602.53 110.42 603.77C111.24 605.01 112.02 605.56 112.90 606.25C113.78 606.94 115.24 607.63 115.71 607.90L115.71 612.20L40.13 612.20Z" fill="rgba(245,210,70,0.2)" stroke="none"/>
<path d="M40.13 610.38C40.82 610.33 42.89 610.33 44.27 610.05C45.65 609.78 47.16 609.50 48.40 608.73C49.64 607.96 50.61 606.80 51.71 605.42C52.81 604.04 53.92 602.25 55.02 600.46C56.12 598.67 57.22 596.60 58.33 594.67C59.43 592.74 60.67 590.67 61.63 588.88C62.60 587.09 63.29 585.44 64.11 583.92C64.94 582.41 65.63 580.89 66.59 579.79C67.56 578.69 68.80 577.86 69.90 577.31C71.00 576.76 72.24 576.54 73.21 576.48C74.17 576.43 74.86 576.62 75.69 576.98C76.52 577.33 77.34 577.89 78.17 578.63C79.00 579.37 79.82 580.56 80.65 581.44C81.48 582.32 82.30 583.32 83.13 583.92C83.96 584.53 84.78 585.08 85.61 585.08C86.44 585.08 87.27 584.53 88.09 583.92C88.92 583.32 89.75 582.13 90.57 581.44C91.40 580.75 92.23 580.20 93.05 579.79C93.88 579.37 94.71 578.96 95.53 578.96C96.36 578.96 97.19 579.10 98.01 579.79C98.84 580.48 99.67 581.72 100.49 583.10C101.32 584.47 102.15 586.27 102.98 588.06C103.80 589.85 104.63 592.05 105.46 593.84C106.28 595.64 107.11 597.15 107.94 598.81C108.76 600.46 109.59 602.53 110.42 603.77C111.24 605.01 112.02 605.56 112.90 606.25C113.78 606.94 115.24 607.63 115.71 607.90" fill="none" stroke="#f1c83f" stroke-width="1.1"/>
<rect x="37.10" y="565.60" width="81.75" height="10.4" fill="#fff" stroke="#2a2a2a" stroke-width="1.3"/>
<rect x="38.70" y="567.10" width="78.6" height="7.1" fill="#dddddd"/>
<text x="78.00" y="573.00" font-size="7.5" text-anchor="middle" fill="#333333" textLength="9.53" lengthAdjust="spacingAndGlyphs">M1</text>
<path d="M37.10 576.50V614.40H118.85" fill="none" stroke="#333333" stroke-width="1.2"/>
<text x="32.10" y="614.50" font-size="8.6" text-anchor="end" fill="#2b2b2b">0.0</text>
<text x="32.10" y="605.50" font-size="8.6" text-anchor="end" fill="#2b2b2b">0.1</text>
<text x="32.10" y="596.30" font-size="8.6" text-anchor="end" fill="#2b2b2b">0.2</text>
<text x="32.10" y="587.20" font-size="8.6" text-anchor="end" fill="#2b2b2b">0.3</text>
<text x="32.10" y="577.90" font-size="8.6" text-anchor="end" fill="#2b2b2b">0.4</text>
<text x="40.10" y="626.90" font-size="8.6" text-anchor="middle" fill="#2b2b2b">−2</text>
<text x="58.30" y="626.90" font-size="8.6" text-anchor="middle" fill="#2b2b2b">−1</text>
<text x="76.00" y="626.90" font-size="8.6" text-anchor="middle" fill="#2b2b2b">0</text>
<text x="94.20" y="626.90" font-size="8.6" text-anchor="middle" fill="#2b2b2b">1</text>
<text x="112.10" y="626.90" font-size="8.6" text-anchor="middle" fill="#2b2b2b">2</text>
<path d="M34.10 612.20H37.10M34.10 603.20H37.10M34.10 594.00H37.10M34.10 584.90H37.10M34.10 575.60H37.10M40.10 614.40V617.20M58.30 614.40V617.20M76.00 614.40V617.20M94.20 614.40V617.20M112.10 614.40V617.20" stroke="#333333" stroke-width="1" fill="none"/>
<path d="M170.64 607.07C171.13 605.97 172.57 602.66 173.61 600.46C174.66 598.25 175.82 596.05 176.92 593.84C178.02 591.64 179.13 589.30 180.23 587.23C181.33 585.16 182.43 583.04 183.54 581.44C184.64 579.84 185.74 578.55 186.84 577.64C187.95 576.73 189.05 576.18 190.15 575.98C191.25 575.79 192.36 575.85 193.46 576.48C194.56 577.11 195.66 578.41 196.77 579.79C197.87 581.17 198.97 583.10 200.07 584.75C201.18 586.40 202.28 588.33 203.38 589.71C204.48 591.09 205.59 592.05 206.69 593.02C207.79 593.98 208.89 594.67 210.00 595.50C211.10 596.33 212.20 597.15 213.30 597.98C214.41 598.81 215.51 599.63 216.61 600.46C217.71 601.29 218.82 602.17 219.92 602.94C221.02 603.71 222.12 604.46 223.23 605.09C224.33 605.72 225.43 606.25 226.53 606.74C227.64 607.24 228.74 607.65 229.84 608.07C230.94 608.48 232.05 608.89 233.15 609.22C234.25 609.55 235.35 609.80 236.46 610.05C237.56 610.30 238.66 610.52 239.76 610.71C240.87 610.91 242.02 611.10 243.07 611.21C244.12 611.32 245.55 611.35 246.05 611.37L246.05 612.20L170.64 612.20Z" fill="rgba(150,210,210,0.22)" stroke="none"/>
<path d="M170.64 607.07C171.13 605.97 172.57 602.66 173.61 600.46C174.66 598.25 175.82 596.05 176.92 593.84C178.02 591.64 179.13 589.30 180.23 587.23C181.33 585.16 182.43 583.04 183.54 581.44C184.64 579.84 185.74 578.55 186.84 577.64C187.95 576.73 189.05 576.18 190.15 575.98C191.25 575.79 192.36 575.85 193.46 576.48C194.56 577.11 195.66 578.41 196.77 579.79C197.87 581.17 198.97 583.10 200.07 584.75C201.18 586.40 202.28 588.33 203.38 589.71C204.48 591.09 205.59 592.05 206.69 593.02C207.79 593.98 208.89 594.67 210.00 595.50C211.10 596.33 212.20 597.15 213.30 597.98C214.41 598.81 215.51 599.63 216.61 600.46C217.71 601.29 218.82 602.17 219.92 602.94C221.02 603.71 222.12 604.46 223.23 605.09C224.33 605.72 225.43 606.25 226.53 606.74C227.64 607.24 228.74 607.65 229.84 608.07C230.94 608.48 232.05 608.89 233.15 609.22C234.25 609.55 235.35 609.80 236.46 610.05C237.56 610.30 238.66 610.52 239.76 610.71C240.87 610.91 242.02 611.10 243.07 611.21C244.12 611.32 245.55 611.35 246.05 611.37" fill="none" stroke="#9fd6c9" stroke-width="1.1"/>
<path d="M170.64 612.04C171.27 611.90 173.12 611.62 174.44 611.21C175.76 610.80 177.20 610.24 178.58 609.55C179.95 608.87 181.33 607.90 182.71 607.07C184.09 606.25 185.47 605.42 186.84 604.59C188.22 603.77 189.74 602.94 190.98 602.11C192.22 601.29 193.18 600.60 194.29 599.63C195.39 598.67 196.49 597.43 197.59 596.33C198.70 595.22 199.80 593.90 200.90 593.02C202.00 592.14 203.11 591.50 204.21 591.03C205.31 590.56 206.41 590.37 207.52 590.21C208.62 590.04 209.72 590.12 210.82 590.04C211.93 589.96 213.03 590.04 214.13 589.71C215.23 589.38 216.34 588.69 217.44 588.06C218.54 587.42 219.64 586.51 220.75 585.91C221.85 585.30 223.09 584.61 224.05 584.42C225.02 584.23 225.71 584.42 226.53 584.75C227.36 585.08 228.05 585.71 229.01 586.40C229.98 587.09 231.22 588.06 232.32 588.88C233.42 589.71 234.53 590.59 235.63 591.36C236.73 592.14 237.97 592.82 238.94 593.51C239.90 594.20 240.59 594.67 241.42 595.50C242.24 596.33 243.13 597.51 243.90 598.47C244.67 599.44 245.69 600.82 246.05 601.29L246.05 612.20L170.64 612.20Z" fill="rgba(245,210,70,0.2)" stroke="none"/>
<path d="M170.64 612.04C171.27 611.90 173.12 611.62 174.44 611.21C175.76 610.80 177.20 610.24 178.58 609.55C179.95 608.87 181.33 607.90 182.71 607.07C184.09 606.25 185.47 605.42 186.84 604.59C188.22 603.77 189.74 602.94 190.98 602.11C192.22 601.29 193.18 600.60 194.29 599.63C195.39 598.67 196.49 597.43 197.59 596.33C198.70 595.22 199.80 593.90 200.90 593.02C202.00 592.14 203.11 591.50 204.21 591.03C205.31 590.56 206.41 590.37 207.52 590.21C208.62 590.04 209.72 590.12 210.82 590.04C211.93 589.96 213.03 590.04 214.13 589.71C215.23 589.38 216.34 588.69 217.44 588.06C218.54 587.42 219.64 586.51 220.75 585.91C221.85 585.30 223.09 584.61 224.05 584.42C225.02 584.23 225.71 584.42 226.53 584.75C227.36 585.08 228.05 585.71 229.01 586.40C229.98 587.09 231.22 588.06 232.32 588.88C233.42 589.71 234.53 590.59 235.63 591.36C236.73 592.14 237.97 592.82 238.94 593.51C239.90 594.20 240.59 594.67 241.42 595.50C242.24 596.33 243.13 597.51 243.90 598.47C244.67 599.44 245.69 600.82 246.05 601.29" fill="none" stroke="#f1c83f" stroke-width="1.1"/>
<rect x="167.60" y="565.60" width="81.75" height="10.4" fill="#fff" stroke="#2a2a2a" stroke-width="1.3"/>
<rect x="169.20" y="567.10" width="78.6" height="7.1" fill="#dddddd"/>
<text x="208.50" y="573.00" font-size="7.5" text-anchor="middle" fill="#333333" textLength="41.56" lengthAdjust="spacingAndGlyphs">Macrophages</text>
<path d="M167.60 576.50V614.40H249.35" fill="none" stroke="#333333" stroke-width="1.2"/>
<text x="162.60" y="614.50" font-size="8.6" text-anchor="end" fill="#2b2b2b">0.0</text>
<text x="162.60" y="601.30" font-size="8.6" text-anchor="end" fill="#2b2b2b">0.2</text>
<text x="162.60" y="587.70" font-size="8.6" text-anchor="end" fill="#2b2b2b">0.4</text>
<text x="171.10" y="626.90" font-size="8.6" text-anchor="middle" fill="#2b2b2b">−2</text>
<text x="189.80" y="626.90" font-size="8.6" text-anchor="middle" fill="#2b2b2b">−1</text>
<text x="208.30" y="626.90" font-size="8.6" text-anchor="middle" fill="#2b2b2b">0</text>
<text x="227.40" y="626.90" font-size="8.6" text-anchor="middle" fill="#2b2b2b">1</text>
<text x="246.00" y="626.90" font-size="8.6" text-anchor="middle" fill="#2b2b2b">2</text>
<path d="M164.60 612.20H167.60M164.60 599.00H167.60M164.60 585.40H167.60M171.10 614.40V617.20M189.80 614.40V617.20M208.30 614.40V617.20M227.40 614.40V617.20M246.00 614.40V617.20" stroke="#333333" stroke-width="1" fill="none"/>
<path d="M301.63 609.55C302.24 609.14 304.11 607.90 305.27 607.07C306.43 606.25 307.47 605.42 308.58 604.59C309.68 603.77 310.78 602.66 311.88 602.11C312.99 601.56 313.95 601.37 315.19 601.29C316.43 601.20 317.95 601.53 319.33 601.62C320.70 601.70 322.08 601.75 323.46 601.78C324.84 601.81 326.22 601.87 327.59 601.78C328.97 601.70 330.35 601.56 331.73 601.29C333.11 601.01 334.48 600.76 335.86 600.13C337.24 599.49 338.62 598.53 340.00 597.48C341.37 596.44 342.75 595.14 344.13 593.84C345.51 592.55 347.02 591.09 348.27 589.71C349.51 588.33 350.47 586.95 351.57 585.58C352.67 584.20 353.78 582.68 354.88 581.44C355.98 580.20 357.08 578.96 358.19 578.13C359.29 577.31 360.53 576.70 361.49 576.48C362.46 576.26 363.15 576.26 363.98 576.81C364.80 577.36 365.63 578.47 366.46 579.79C367.28 581.11 368.11 582.96 368.94 584.75C369.76 586.54 370.59 588.61 371.42 590.54C372.24 592.47 373.02 594.73 373.90 596.33C374.78 597.92 376.24 599.49 376.71 600.13L376.71 612.50L301.63 612.50Z" fill="rgba(150,210,210,0.22)" stroke="none"/>
<path d="M301.63 609.55C302.24 609.14 304.11 607.90 305.27 607.07C306.43 606.25 307.47 605.42 308.58 604.59C309.68 603.77 310.78 602.66 311.88 602.11C312.99 601.56 313.95 601.37 315.19 601.29C316.43 601.20 317.95 601.53 319.33 601.62C320.70 601.70 322.08 601.75 323.46 601.78C324.84 601.81 326.22 601.87 327.59 601.78C328.97 601.70 330.35 601.56 331.73 601.29C333.11 601.01 334.48 600.76 335.86 600.13C337.24 599.49 338.62 598.53 340.00 597.48C341.37 596.44 342.75 595.14 344.13 593.84C345.51 592.55 347.02 591.09 348.27 589.71C349.51 588.33 350.47 586.95 351.57 585.58C352.67 584.20 353.78 582.68 354.88 581.44C355.98 580.20 357.08 578.96 358.19 578.13C359.29 577.31 360.53 576.70 361.49 576.48C362.46 576.26 363.15 576.26 363.98 576.81C364.80 577.36 365.63 578.47 366.46 579.79C367.28 581.11 368.11 582.96 368.94 584.75C369.76 586.54 370.59 588.61 371.42 590.54C372.24 592.47 373.02 594.73 373.90 596.33C374.78 597.92 376.24 599.49 376.71 600.13" fill="none" stroke="#9fd6c9" stroke-width="1.1"/>
<path d="M301.63 591.86C302.10 590.95 303.42 587.95 304.44 586.40C305.46 584.86 306.65 583.48 307.75 582.60C308.85 581.72 309.95 581.11 311.06 581.11C312.16 581.11 313.26 581.80 314.36 582.60C315.47 583.40 316.57 584.72 317.67 585.91C318.77 587.09 319.88 588.44 320.98 589.71C322.08 590.98 323.18 592.27 324.29 593.51C325.39 594.75 326.49 596.05 327.59 597.15C328.70 598.25 329.80 599.30 330.90 600.13C332.00 600.96 332.97 601.56 334.21 602.11C335.45 602.66 336.96 603.02 338.34 603.44C339.72 603.85 341.10 604.32 342.48 604.59C343.86 604.87 345.23 605.14 346.61 605.09C347.99 605.03 349.37 604.70 350.75 604.26C352.12 603.82 353.50 603.13 354.88 602.44C356.26 601.75 357.77 600.87 359.01 600.13C360.25 599.38 361.22 598.47 362.32 597.98C363.42 597.48 364.53 597.21 365.63 597.15C366.73 597.10 367.83 597.23 368.94 597.65C370.04 598.06 371.28 599.03 372.24 599.63C373.21 600.24 373.98 600.65 374.72 601.29C375.47 601.92 376.38 603.08 376.71 603.44L376.71 612.50L301.63 612.50Z" fill="rgba(245,210,70,0.2)" stroke="none"/>
<path d="M301.63 591.86C302.10 590.95 303.42 587.95 304.44 586.40C305.46 584.86 306.65 583.48 307.75 582.60C308.85 581.72 309.95 581.11 311.06 581.11C312.16 581.11 313.26 581.80 314.36 582.60C315.47 583.40 316.57 584.72 317.67 585.91C318.77 587.09 319.88 588.44 320.98 589.71C322.08 590.98 323.18 592.27 324.29 593.51C325.39 594.75 326.49 596.05 327.59 597.15C328.70 598.25 329.80 599.30 330.90 600.13C332.00 600.96 332.97 601.56 334.21 602.11C335.45 602.66 336.96 603.02 338.34 603.44C339.72 603.85 341.10 604.32 342.48 604.59C343.86 604.87 345.23 605.14 346.61 605.09C347.99 605.03 349.37 604.70 350.75 604.26C352.12 603.82 353.50 603.13 354.88 602.44C356.26 601.75 357.77 600.87 359.01 600.13C360.25 599.38 361.22 598.47 362.32 597.98C363.42 597.48 364.53 597.21 365.63 597.15C366.73 597.10 367.83 597.23 368.94 597.65C370.04 598.06 371.28 599.03 372.24 599.63C373.21 600.24 373.98 600.65 374.72 601.29C375.47 601.92 376.38 603.08 376.71 603.44" fill="none" stroke="#f1c83f" stroke-width="1.1"/>
<rect x="298.10" y="565.60" width="81.75" height="10.4" fill="#fff" stroke="#2a2a2a" stroke-width="1.3"/>
<rect x="299.70" y="567.10" width="78.6" height="7.1" fill="#dddddd"/>
<text x="339.00" y="573.00" font-size="7.5" text-anchor="middle" fill="#333333" textLength="17.53" lengthAdjust="spacingAndGlyphs">MHCI</text>
<path d="M298.10 576.50V614.40H379.85" fill="none" stroke="#333333" stroke-width="1.2"/>
<text x="293.10" y="614.80" font-size="8.6" text-anchor="end" fill="#2b2b2b">0.0</text>
<text x="293.10" y="603.30" font-size="8.6" text-anchor="end" fill="#2b2b2b">0.2</text>
<text x="293.10" y="591.60" font-size="8.6" text-anchor="end" fill="#2b2b2b">0.4</text>
<text x="293.10" y="579.70" font-size="8.6" text-anchor="end" fill="#2b2b2b">0.6</text>
<text x="317.20" y="626.90" font-size="8.6" text-anchor="middle" fill="#2b2b2b">−1</text>
<text x="340.50" y="626.90" font-size="8.6" text-anchor="middle" fill="#2b2b2b">0</text>
<text x="364.00" y="626.90" font-size="8.6" text-anchor="middle" fill="#2b2b2b">1</text>
<path d="M295.10 612.50H298.10M295.10 601.00H298.10M295.10 589.30H298.10M295.10 577.40H298.10M317.20 614.40V617.20M340.50 614.40V617.20M364.00 614.40V617.20" stroke="#333333" stroke-width="1" fill="none"/>
<path d="M431.64 609.55C432.27 609.28 434.12 608.45 435.44 607.90C436.76 607.35 438.20 606.72 439.58 606.25C440.95 605.78 442.33 605.37 443.71 605.09C445.09 604.81 446.47 604.76 447.84 604.59C449.22 604.43 450.60 604.29 451.98 604.10C453.36 603.90 454.74 603.77 456.11 603.44C457.49 603.11 459.01 602.61 460.25 602.11C461.49 601.62 462.31 601.15 463.55 600.46C464.80 599.77 466.31 598.86 467.69 597.98C469.07 597.10 470.45 595.99 471.82 595.17C473.20 594.34 474.58 593.79 475.96 593.02C477.34 592.25 478.71 591.45 480.09 590.54C481.47 589.63 482.99 588.53 484.23 587.56C485.47 586.60 486.43 585.58 487.53 584.75C488.64 583.92 489.88 583.07 490.84 582.60C491.81 582.13 492.49 581.94 493.32 581.94C494.15 581.94 494.98 582.13 495.80 582.60C496.63 583.07 497.46 583.70 498.28 584.75C499.11 585.80 499.94 587.37 500.76 588.88C501.59 590.40 502.42 592.25 503.24 593.84C504.07 595.44 505.09 597.15 505.72 598.47C506.36 599.80 506.83 601.23 507.05 601.78L507.05 612.20L431.64 612.20Z" fill="rgba(150,210,210,0.22)" stroke="none"/>
<path d="M431.64 609.55C432.27 609.28 434.12 608.45 435.44 607.90C436.76 607.35 438.20 606.72 439.58 606.25C440.95 605.78 442.33 605.37 443.71 605.09C445.09 604.81 446.47 604.76 447.84 604.59C449.22 604.43 450.60 604.29 451.98 604.10C453.36 603.90 454.74 603.77 456.11 603.44C457.49 603.11 459.01 602.61 460.25 602.11C461.49 601.62 462.31 601.15 463.55 600.46C464.80 599.77 466.31 598.86 467.69 597.98C469.07 597.10 470.45 595.99 471.82 595.17C473.20 594.34 474.58 593.79 475.96 593.02C477.34 592.25 478.71 591.45 480.09 590.54C481.47 589.63 482.99 588.53 484.23 587.56C485.47 586.60 486.43 585.58 487.53 584.75C488.64 583.92 489.88 583.07 490.84 582.60C491.81 582.13 492.49 581.94 493.32 581.94C494.15 581.94 494.98 582.13 495.80 582.60C496.63 583.07 497.46 583.70 498.28 584.75C499.11 585.80 499.94 587.37 500.76 588.88C501.59 590.40 502.42 592.25 503.24 593.84C504.07 595.44 505.09 597.15 505.72 598.47C506.36 599.80 506.83 601.23 507.05 601.78" fill="none" stroke="#9fd6c9" stroke-width="1.1"/>
<path d="M431.64 599.63C432.13 598.12 433.57 593.43 434.61 590.54C435.66 587.64 436.82 584.47 437.92 582.27C439.02 580.06 440.27 578.27 441.23 577.31C442.19 576.34 442.75 576.43 443.71 576.48C444.67 576.54 445.92 577.09 447.02 577.64C448.12 578.19 449.22 578.88 450.33 579.79C451.43 580.70 452.53 581.86 453.63 583.10C454.74 584.34 455.84 585.71 456.94 587.23C458.04 588.75 459.14 590.54 460.25 592.19C461.35 593.84 462.45 595.91 463.55 597.15C464.66 598.39 465.76 599.08 466.86 599.63C467.96 600.18 469.07 600.32 470.17 600.46C471.27 600.60 472.37 600.40 473.48 600.46C474.58 600.51 475.68 600.46 476.78 600.79C477.89 601.12 478.85 601.81 480.09 602.44C481.33 603.08 482.85 603.88 484.23 604.59C485.60 605.31 486.98 606.05 488.36 606.74C489.74 607.43 491.12 608.12 492.49 608.73C493.87 609.33 495.25 609.94 496.63 610.38C498.01 610.82 499.52 611.15 500.76 611.37C502.00 611.59 503.02 611.65 504.07 611.70C505.12 611.76 506.55 611.70 507.05 611.70L507.05 612.20L431.64 612.20Z" fill="rgba(245,210,70,0.2)" stroke="none"/>
<path d="M431.64 599.63C432.13 598.12 433.57 593.43 434.61 590.54C435.66 587.64 436.82 584.47 437.92 582.27C439.02 580.06 440.27 578.27 441.23 577.31C442.19 576.34 442.75 576.43 443.71 576.48C444.67 576.54 445.92 577.09 447.02 577.64C448.12 578.19 449.22 578.88 450.33 579.79C451.43 580.70 452.53 581.86 453.63 583.10C454.74 584.34 455.84 585.71 456.94 587.23C458.04 588.75 459.14 590.54 460.25 592.19C461.35 593.84 462.45 595.91 463.55 597.15C464.66 598.39 465.76 599.08 466.86 599.63C467.96 600.18 469.07 600.32 470.17 600.46C471.27 600.60 472.37 600.40 473.48 600.46C474.58 600.51 475.68 600.46 476.78 600.79C477.89 601.12 478.85 601.81 480.09 602.44C481.33 603.08 482.85 603.88 484.23 604.59C485.60 605.31 486.98 606.05 488.36 606.74C489.74 607.43 491.12 608.12 492.49 608.73C493.87 609.33 495.25 609.94 496.63 610.38C498.01 610.82 499.52 611.15 500.76 611.37C502.00 611.59 503.02 611.65 504.07 611.70C505.12 611.76 506.55 611.70 507.05 611.70" fill="none" stroke="#f1c83f" stroke-width="1.1"/>
<rect x="428.60" y="565.60" width="81.75" height="10.4" fill="#fff" stroke="#2a2a2a" stroke-width="1.3"/>
<rect x="430.20" y="567.10" width="78.6" height="7.1" fill="#dddddd"/>
<text x="469.50" y="573.00" font-size="7.5" text-anchor="middle" fill="#333333" textLength="19.43" lengthAdjust="spacingAndGlyphs">MHCII</text>
<path d="M428.60 576.50V614.40H510.35" fill="none" stroke="#333333" stroke-width="1.2"/>
<text x="423.60" y="614.50" font-size="8.6" text-anchor="end" fill="#2b2b2b">0.0</text>
<text x="423.60" y="603.60" font-size="8.6" text-anchor="end" fill="#2b2b2b">0.2</text>
<text x="423.60" y="592.40" font-size="8.6" text-anchor="end" fill="#2b2b2b">0.4</text>
<text x="423.60" y="581.00" font-size="8.6" text-anchor="end" fill="#2b2b2b">0.6</text>
<text x="446.20" y="626.90" font-size="8.6" text-anchor="middle" fill="#2b2b2b">−1</text>
<text x="467.40" y="626.90" font-size="8.6" text-anchor="middle" fill="#2b2b2b">0</text>
<text x="488.40" y="626.90" font-size="8.6" text-anchor="middle" fill="#2b2b2b">1</text>
<text x="509.60" y="626.90" font-size="8.6" text-anchor="middle" fill="#2b2b2b">2</text>
<path d="M425.60 612.20H428.60M425.60 601.30H428.60M425.60 590.10H428.60M425.60 578.70H428.60M446.20 614.40V617.20M467.40 614.40V617.20M488.40 614.40V617.20M509.60 614.40V617.20" stroke="#333333" stroke-width="1" fill="none"/>
<path d="M40.13 675.55C40.69 674.73 42.34 672.66 43.44 670.59C44.54 668.53 45.65 665.63 46.75 663.15C47.85 660.67 48.95 658.05 50.06 655.71C51.16 653.37 52.26 650.89 53.36 649.10C54.47 647.30 55.57 645.87 56.67 644.96C57.77 644.05 58.88 643.78 59.98 643.64C61.08 643.50 62.18 643.78 63.29 644.13C64.39 644.49 65.49 645.15 66.59 645.79C67.70 646.42 68.80 647.11 69.90 647.94C71.00 648.76 72.11 649.59 73.21 650.75C74.31 651.91 75.41 653.51 76.52 654.88C77.62 656.26 78.72 657.64 79.82 659.02C80.93 660.40 82.03 661.91 83.13 663.15C84.23 664.39 85.34 665.49 86.44 666.46C87.54 667.42 88.64 668.39 89.75 668.94C90.85 669.49 91.95 669.68 93.05 669.77C94.16 669.85 95.26 669.30 96.36 669.44C97.46 669.57 98.57 669.99 99.67 670.59C100.77 671.20 101.87 672.25 102.98 673.07C104.08 673.90 105.18 674.87 106.28 675.55C107.39 676.24 108.49 676.80 109.59 677.21C110.69 677.62 111.93 677.84 112.90 678.04C113.86 678.23 114.96 678.31 115.38 678.37L115.38 679.30L40.13 679.30Z" fill="rgba(150,210,210,0.22)" stroke="none"/>
<path d="M40.13 675.55C40.69 674.73 42.34 672.66 43.44 670.59C44.54 668.53 45.65 665.63 46.75 663.15C47.85 660.67 48.95 658.05 50.06 655.71C51.16 653.37 52.26 650.89 53.36 649.10C54.47 647.30 55.57 645.87 56.67 644.96C57.77 644.05 58.88 643.78 59.98 643.64C61.08 643.50 62.18 643.78 63.29 644.13C64.39 644.49 65.49 645.15 66.59 645.79C67.70 646.42 68.80 647.11 69.90 647.94C71.00 648.76 72.11 649.59 73.21 650.75C74.31 651.91 75.41 653.51 76.52 654.88C77.62 656.26 78.72 657.64 79.82 659.02C80.93 660.40 82.03 661.91 83.13 663.15C84.23 664.39 85.34 665.49 86.44 666.46C87.54 667.42 88.64 668.39 89.75 668.94C90.85 669.49 91.95 669.68 93.05 669.77C94.16 669.85 95.26 669.30 96.36 669.44C97.46 669.57 98.57 669.99 99.67 670.59C100.77 671.20 101.87 672.25 102.98 673.07C104.08 673.90 105.18 674.87 106.28 675.55C107.39 676.24 108.49 676.80 109.59 677.21C110.69 677.62 111.93 677.84 112.90 678.04C113.86 678.23 114.96 678.31 115.38 678.37" fill="none" stroke="#9fd6c9" stroke-width="1.1"/>
<path d="M40.13 678.86C40.82 678.86 42.89 679.00 44.27 678.86C45.65 678.72 47.16 678.50 48.40 678.04C49.64 677.57 50.61 677.02 51.71 676.05C52.81 675.09 53.92 673.57 55.02 672.25C56.12 670.92 57.22 669.41 58.33 668.11C59.43 666.82 60.53 665.58 61.63 664.47C62.74 663.37 63.84 662.33 64.94 661.50C66.04 660.67 67.14 660.20 68.25 659.51C69.35 658.82 70.45 658.08 71.55 657.36C72.66 656.65 73.76 655.90 74.86 655.21C75.96 654.53 77.07 653.84 78.17 653.23C79.27 652.62 80.37 651.93 81.48 651.58C82.58 651.22 83.68 651.16 84.78 651.08C85.89 651.00 86.99 651.13 88.09 651.08C89.19 651.02 90.30 650.89 91.40 650.75C92.50 650.61 93.60 650.34 94.71 650.25C95.81 650.17 97.05 650.09 98.01 650.25C98.98 650.42 99.67 650.61 100.49 651.25C101.32 651.88 102.15 652.90 102.98 654.06C103.80 655.21 104.63 656.67 105.46 658.19C106.28 659.71 107.11 661.64 107.94 663.15C108.76 664.67 109.59 666.05 110.42 667.29C111.24 668.53 112.07 669.63 112.90 670.59C113.72 671.56 114.96 672.66 115.38 673.07L115.38 679.30L40.13 679.30Z" fill="rgba(245,210,70,0.2)" stroke="none"/>
<path d="M40.13 678.86C40.82 678.86 42.89 679.00 44.27 678.86C45.65 678.72 47.16 678.50 48.40 678.04C49.64 677.57 50.61 677.02 51.71 676.05C52.81 675.09 53.92 673.57 55.02 672.25C56.12 670.92 57.22 669.41 58.33 668.11C59.43 666.82 60.53 665.58 61.63 664.47C62.74 663.37 63.84 662.33 64.94 661.50C66.04 660.67 67.14 660.20 68.25 659.51C69.35 658.82 70.45 658.08 71.55 657.36C72.66 656.65 73.76 655.90 74.86 655.21C75.96 654.53 77.07 653.84 78.17 653.23C79.27 652.62 80.37 651.93 81.48 651.58C82.58 651.22 83.68 651.16 84.78 651.08C85.89 651.00 86.99 651.13 88.09 651.08C89.19 651.02 90.30 650.89 91.40 650.75C92.50 650.61 93.60 650.34 94.71 650.25C95.81 650.17 97.05 650.09 98.01 650.25C98.98 650.42 99.67 650.61 100.49 651.25C101.32 651.88 102.15 652.90 102.98 654.06C103.80 655.21 104.63 656.67 105.46 658.19C106.28 659.71 107.11 661.64 107.94 663.15C108.76 664.67 109.59 666.05 110.42 667.29C111.24 668.53 112.07 669.63 112.90 670.59C113.72 671.56 114.96 672.66 115.38 673.07" fill="none" stroke="#f1c83f" stroke-width="1.1"/>
<rect x="37.10" y="632.00" width="81.75" height="10.4" fill="#fff" stroke="#2a2a2a" stroke-width="1.3"/>
<rect x="38.70" y="633.50" width="78.6" height="7.1" fill="#dddddd"/>
<text x="78.00" y="639.40" font-size="7.5" text-anchor="middle" fill="#333333" textLength="9.53" lengthAdjust="spacingAndGlyphs">NK</text>
<path d="M37.10 642.90V680.80H118.85" fill="none" stroke="#333333" stroke-width="1.2"/>
<text x="32.10" y="681.60" font-size="8.6" text-anchor="end" fill="#2b2b2b">0.0</text>
<text x="32.10" y="673.80" font-size="8.6" text-anchor="end" fill="#2b2b2b">0.1</text>
<text x="32.10" y="666.00" font-size="8.6" text-anchor="end" fill="#2b2b2b">0.2</text>
<text x="32.10" y="657.70" font-size="8.6" text-anchor="end" fill="#2b2b2b">0.3</text>
<text x="32.10" y="650.90" font-size="8.6" text-anchor="end" fill="#2b2b2b">0.4</text>
<text x="43.40" y="693.30" font-size="8.6" text-anchor="middle" fill="#2b2b2b">−2</text>
<text x="60.80" y="693.30" font-size="8.6" text-anchor="middle" fill="#2b2b2b">−1</text>
<text x="77.80" y="693.30" font-size="8.6" text-anchor="middle" fill="#2b2b2b">0</text>
<text x="94.70" y="693.30" font-size="8.6" text-anchor="middle" fill="#2b2b2b">1</text>
<text x="112.10" y="693.30" font-size="8.6" text-anchor="middle" fill="#2b2b2b">2</text>
<path d="M34.10 679.30H37.10M34.10 671.50H37.10M34.10 663.70H37.10M34.10 655.40H37.10M34.10 648.60H37.10M43.40 680.80V683.60M60.80 680.80V683.60M77.80 680.80V683.60M94.70 680.80V683.60M112.10 680.80V683.60" stroke="#333333" stroke-width="1" fill="none"/>
<path d="M170.64 660.67C171.00 659.71 172.02 656.81 172.79 654.88C173.56 652.95 174.30 650.69 175.27 649.10C176.23 647.50 177.47 646.06 178.58 645.29C179.68 644.52 180.78 644.44 181.88 644.47C182.99 644.49 184.09 644.96 185.19 645.46C186.29 645.95 187.40 646.84 188.50 647.44C189.60 648.05 190.70 648.63 191.81 649.10C192.91 649.56 194.01 649.78 195.11 650.25C196.22 650.72 197.32 651.19 198.42 651.91C199.52 652.62 200.63 653.78 201.73 654.55C202.83 655.32 203.93 655.93 205.04 656.54C206.14 657.14 207.24 657.69 208.34 658.19C209.45 658.69 210.55 659.18 211.65 659.51C212.75 659.84 213.86 659.98 214.96 660.18C216.06 660.37 217.16 660.45 218.27 660.67C219.37 660.89 220.47 661.14 221.57 661.50C222.67 661.86 223.78 662.27 224.88 662.82C225.98 663.37 227.08 664.06 228.19 664.81C229.29 665.55 230.39 666.46 231.49 667.29C232.60 668.11 233.70 668.94 234.80 669.77C235.90 670.59 237.01 671.42 238.11 672.25C239.21 673.07 240.31 673.98 241.42 674.73C242.52 675.47 243.95 676.30 244.72 676.71C245.50 677.13 245.83 677.13 246.05 677.21L246.05 679.30L170.64 679.30Z" fill="rgba(150,210,210,0.22)" stroke="none"/>
<path d="M170.64 660.67C171.00 659.71 172.02 656.81 172.79 654.88C173.56 652.95 174.30 650.69 175.27 649.10C176.23 647.50 177.47 646.06 178.58 645.29C179.68 644.52 180.78 644.44 181.88 644.47C182.99 644.49 184.09 644.96 185.19 645.46C186.29 645.95 187.40 646.84 188.50 647.44C189.60 648.05 190.70 648.63 191.81 649.10C192.91 649.56 194.01 649.78 195.11 650.25C196.22 650.72 197.32 651.19 198.42 651.91C199.52 652.62 200.63 653.78 201.73 654.55C202.83 655.32 203.93 655.93 205.04 656.54C206.14 657.14 207.24 657.69 208.34 658.19C209.45 658.69 210.55 659.18 211.65 659.51C212.75 659.84 213.86 659.98 214.96 660.18C216.06 660.37 217.16 660.45 218.27 660.67C219.37 660.89 220.47 661.14 221.57 661.50C222.67 661.86 223.78 662.27 224.88 662.82C225.98 663.37 227.08 664.06 228.19 664.81C229.29 665.55 230.39 666.46 231.49 667.29C232.60 668.11 233.70 668.94 234.80 669.77C235.90 670.59 237.01 671.42 238.11 672.25C239.21 673.07 240.31 673.98 241.42 674.73C242.52 675.47 243.95 676.30 244.72 676.71C245.50 677.13 245.83 677.13 246.05 677.21" fill="none" stroke="#9fd6c9" stroke-width="1.1"/>
<path d="M170.64 678.04C171.27 677.76 173.12 677.07 174.44 676.38C175.76 675.69 177.20 674.78 178.58 673.90C179.95 673.02 181.33 672.11 182.71 671.09C184.09 670.07 185.47 668.97 186.84 667.78C188.22 666.60 189.60 665.30 190.98 663.98C192.36 662.66 193.87 661.08 195.11 659.84C196.35 658.60 197.46 657.64 198.42 656.54C199.39 655.43 200.07 654.47 200.90 653.23C201.73 651.99 202.55 650.42 203.38 649.10C204.21 647.77 205.04 646.26 205.86 645.29C206.69 644.33 207.60 643.64 208.34 643.31C209.09 642.98 209.64 642.98 210.33 643.31C211.02 643.64 211.71 644.33 212.48 645.29C213.25 646.26 214.13 647.83 214.96 649.10C215.78 650.36 216.61 651.80 217.44 652.90C218.27 654.00 219.09 655.02 219.92 655.71C220.75 656.40 221.57 656.90 222.40 657.03C223.23 657.17 224.05 656.95 224.88 656.54C225.71 656.12 226.53 655.32 227.36 654.55C228.19 653.78 229.01 652.68 229.84 651.91C230.67 651.13 231.49 650.39 232.32 649.92C233.15 649.45 233.98 649.15 234.80 649.10C235.63 649.04 236.46 649.18 237.28 649.59C238.11 650.00 238.94 650.69 239.76 651.58C240.59 652.46 241.47 653.64 242.24 654.88C243.02 656.12 243.76 657.50 244.39 659.02C245.03 660.53 245.77 663.15 246.05 663.98L246.05 679.30L170.64 679.30Z" fill="rgba(245,210,70,0.2)" stroke="none"/>
<path d="M170.64 678.04C171.27 677.76 173.12 677.07 174.44 676.38C175.76 675.69 177.20 674.78 178.58 673.90C179.95 673.02 181.33 672.11 182.71 671.09C184.09 670.07 185.47 668.97 186.84 667.78C188.22 666.60 189.60 665.30 190.98 663.98C192.36 662.66 193.87 661.08 195.11 659.84C196.35 658.60 197.46 657.64 198.42 656.54C199.39 655.43 200.07 654.47 200.90 653.23C201.73 651.99 202.55 650.42 203.38 649.10C204.21 647.77 205.04 646.26 205.86 645.29C206.69 644.33 207.60 643.64 208.34 643.31C209.09 642.98 209.64 642.98 210.33 643.31C211.02 643.64 211.71 644.33 212.48 645.29C213.25 646.26 214.13 647.83 214.96 649.10C215.78 650.36 216.61 651.80 217.44 652.90C218.27 654.00 219.09 655.02 219.92 655.71C220.75 656.40 221.57 656.90 222.40 657.03C223.23 657.17 224.05 656.95 224.88 656.54C225.71 656.12 226.53 655.32 227.36 654.55C228.19 653.78 229.01 652.68 229.84 651.91C230.67 651.13 231.49 650.39 232.32 649.92C233.15 649.45 233.98 649.15 234.80 649.10C235.63 649.04 236.46 649.18 237.28 649.59C238.11 650.00 238.94 650.69 239.76 651.58C240.59 652.46 241.47 653.64 242.24 654.88C243.02 656.12 243.76 657.50 244.39 659.02C245.03 660.53 245.77 663.15 246.05 663.98" fill="none" stroke="#f1c83f" stroke-width="1.1"/>
<rect x="167.60" y="632.00" width="81.75" height="10.4" fill="#fff" stroke="#2a2a2a" stroke-width="1.3"/>
<rect x="169.20" y="633.50" width="78.6" height="7.1" fill="#dddddd"/>
<text x="208.50" y="639.40" font-size="7.5" text-anchor="middle" fill="#333333" textLength="19.82" lengthAdjust="spacingAndGlyphs">T-cells</text>
<path d="M167.60 642.90V680.80H249.35" fill="none" stroke="#333333" stroke-width="1.2"/>
<text x="162.60" y="681.60" font-size="8.6" text-anchor="end" fill="#2b2b2b">0.0</text>
<text x="162.60" y="673.30" font-size="8.6" text-anchor="end" fill="#2b2b2b">0.1</text>
<text x="162.60" y="665.20" font-size="8.6" text-anchor="end" fill="#2b2b2b">0.2</text>
<text x="162.60" y="657.10" font-size="8.6" text-anchor="end" fill="#2b2b2b">0.3</text>
<text x="162.60" y="649.30" font-size="8.6" text-anchor="end" fill="#2b2b2b">0.4</text>
<text x="187.20" y="693.30" font-size="8.6" text-anchor="middle" fill="#2b2b2b">−1</text>
<text x="207.50" y="693.30" font-size="8.6" text-anchor="middle" fill="#2b2b2b">0</text>
<text x="227.40" y="693.30" font-size="8.6" text-anchor="middle" fill="#2b2b2b">1</text>
<text x="248.00" y="693.30" font-size="8.6" text-anchor="middle" fill="#2b2b2b">2</text>
<path d="M164.60 679.30H167.60M164.60 671.00H167.60M164.60 662.90H167.60M164.60 654.80H167.60M164.60 647.00H167.60M187.20 680.80V683.60M207.50 680.80V683.60M227.40 680.80V683.60M248.00 680.80V683.60" stroke="#333333" stroke-width="1" fill="none"/>
<path d="M301.96 669.77C302.37 668.39 303.61 664.12 304.44 661.50C305.27 658.88 306.10 656.26 306.92 654.06C307.75 651.85 308.58 649.78 309.40 648.27C310.23 646.75 311.06 645.65 311.88 644.96C312.71 644.27 313.54 644.08 314.36 644.13C315.19 644.19 316.02 644.60 316.84 645.29C317.67 645.98 318.50 647.17 319.33 648.27C320.15 649.37 320.98 650.80 321.81 651.91C322.63 653.01 323.32 654.11 324.29 654.88C325.25 655.66 326.49 656.04 327.59 656.54C328.70 657.03 329.80 657.39 330.90 657.86C332.00 658.33 333.11 658.96 334.21 659.35C335.31 659.73 336.41 659.98 337.52 660.18C338.62 660.37 339.86 660.34 340.82 660.51C341.79 660.67 342.48 660.73 343.30 661.17C344.13 661.61 344.96 662.27 345.78 663.15C346.61 664.03 347.44 665.22 348.27 666.46C349.09 667.70 349.92 669.35 350.75 670.59C351.57 671.83 352.26 672.94 353.23 673.90C354.19 674.87 355.29 675.75 356.53 676.38C357.77 677.02 359.01 677.37 360.67 677.70C362.32 678.04 363.84 678.23 366.46 678.37C369.07 678.50 374.72 678.50 376.38 678.53L376.38 679.30L301.96 679.30Z" fill="rgba(150,210,210,0.22)" stroke="none"/>
<path d="M301.96 669.77C302.37 668.39 303.61 664.12 304.44 661.50C305.27 658.88 306.10 656.26 306.92 654.06C307.75 651.85 308.58 649.78 309.40 648.27C310.23 646.75 311.06 645.65 311.88 644.96C312.71 644.27 313.54 644.08 314.36 644.13C315.19 644.19 316.02 644.60 316.84 645.29C317.67 645.98 318.50 647.17 319.33 648.27C320.15 649.37 320.98 650.80 321.81 651.91C322.63 653.01 323.32 654.11 324.29 654.88C325.25 655.66 326.49 656.04 327.59 656.54C328.70 657.03 329.80 657.39 330.90 657.86C332.00 658.33 333.11 658.96 334.21 659.35C335.31 659.73 336.41 659.98 337.52 660.18C338.62 660.37 339.86 660.34 340.82 660.51C341.79 660.67 342.48 660.73 343.30 661.17C344.13 661.61 344.96 662.27 345.78 663.15C346.61 664.03 347.44 665.22 348.27 666.46C349.09 667.70 349.92 669.35 350.75 670.59C351.57 671.83 352.26 672.94 353.23 673.90C354.19 674.87 355.29 675.75 356.53 676.38C357.77 677.02 359.01 677.37 360.67 677.70C362.32 678.04 363.84 678.23 366.46 678.37C369.07 678.50 374.72 678.50 376.38 678.53" fill="none" stroke="#9fd6c9" stroke-width="1.1"/>
<path d="M301.96 678.37C302.51 678.17 304.03 677.68 305.27 677.21C306.51 676.74 308.02 676.02 309.40 675.55C310.78 675.09 312.16 674.67 313.54 674.40C314.92 674.12 316.43 674.18 317.67 673.90C318.91 673.63 319.88 673.43 320.98 672.74C322.08 672.05 323.18 670.81 324.29 669.77C325.39 668.72 326.49 667.42 327.59 666.46C328.70 665.49 329.80 664.53 330.90 663.98C332.00 663.43 333.11 663.34 334.21 663.15C335.31 662.96 336.41 663.04 337.52 662.82C338.62 662.60 339.86 662.19 340.82 661.83C341.79 661.47 342.48 661.22 343.30 660.67C344.13 660.12 344.96 659.35 345.78 658.52C346.61 657.69 347.44 656.73 348.27 655.71C349.09 654.69 349.92 653.51 350.75 652.40C351.57 651.30 352.40 650.20 353.23 649.10C354.05 647.99 354.88 646.70 355.71 645.79C356.53 644.88 357.36 644.11 358.19 643.64C359.01 643.17 359.84 642.81 360.67 642.98C361.49 643.14 362.32 643.61 363.15 644.63C363.98 645.65 364.80 647.39 365.63 649.10C366.46 650.80 367.28 652.95 368.11 654.88C368.94 656.81 369.76 658.74 370.59 660.67C371.42 662.60 372.16 664.67 373.07 666.46C373.98 668.25 375.55 670.59 376.05 671.42L376.05 679.30L301.96 679.30Z" fill="rgba(245,210,70,0.2)" stroke="none"/>
<path d="M301.96 678.37C302.51 678.17 304.03 677.68 305.27 677.21C306.51 676.74 308.02 676.02 309.40 675.55C310.78 675.09 312.16 674.67 313.54 674.40C314.92 674.12 316.43 674.18 317.67 673.90C318.91 673.63 319.88 673.43 320.98 672.74C322.08 672.05 323.18 670.81 324.29 669.77C325.39 668.72 326.49 667.42 327.59 666.46C328.70 665.49 329.80 664.53 330.90 663.98C332.00 663.43 333.11 663.34 334.21 663.15C335.31 662.96 336.41 663.04 337.52 662.82C338.62 662.60 339.86 662.19 340.82 661.83C341.79 661.47 342.48 661.22 343.30 660.67C344.13 660.12 344.96 659.35 345.78 658.52C346.61 657.69 347.44 656.73 348.27 655.71C349.09 654.69 349.92 653.51 350.75 652.40C351.57 651.30 352.40 650.20 353.23 649.10C354.05 647.99 354.88 646.70 355.71 645.79C356.53 644.88 357.36 644.11 358.19 643.64C359.01 643.17 359.84 642.81 360.67 642.98C361.49 643.14 362.32 643.61 363.15 644.63C363.98 645.65 364.80 647.39 365.63 649.10C366.46 650.80 367.28 652.95 368.11 654.88C368.94 656.81 369.76 658.74 370.59 660.67C371.42 662.60 372.16 664.67 373.07 666.46C373.98 668.25 375.55 670.59 376.05 671.42" fill="none" stroke="#f1c83f" stroke-width="1.1"/>
<rect x="298.10" y="632.00" width="81.75" height="10.4" fill="#fff" stroke="#2a2a2a" stroke-width="1.3"/>
<rect x="299.70" y="633.50" width="78.6" height="7.1" fill="#dddddd"/>
<text x="339.00" y="639.40" font-size="7.5" text-anchor="middle" fill="#333333" textLength="13.85" lengthAdjust="spacingAndGlyphs">Treg</text>
<path d="M298.10 642.90V680.80H379.85" fill="none" stroke="#333333" stroke-width="1.2"/>
<text x="293.10" y="681.60" font-size="8.6" text-anchor="end" fill="#2b2b2b">0.0</text>
<text x="293.10" y="669.40" font-size="8.6" text-anchor="end" fill="#2b2b2b">0.2</text>
<text x="293.10" y="657.10" font-size="8.6" text-anchor="end" fill="#2b2b2b">0.4</text>
<text x="293.10" y="644.90" font-size="8.6" text-anchor="end" fill="#2b2b2b">0.6</text>
<text x="298.70" y="693.30" font-size="8.6" text-anchor="middle" fill="#2b2b2b">−2</text>
<text x="318.50" y="693.30" font-size="8.6" text-anchor="middle" fill="#2b2b2b">−1</text>
<text x="338.30" y="693.30" font-size="8.6" text-anchor="middle" fill="#2b2b2b">0</text>
<text x="359.00" y="693.30" font-size="8.6" text-anchor="middle" fill="#2b2b2b">1</text>
<text x="378.40" y="693.30" font-size="8.6" text-anchor="middle" fill="#2b2b2b">2</text>
<path d="M295.10 679.30H298.10M295.10 667.10H298.10M295.10 654.80H298.10M295.10 642.60H298.10M298.70 680.80V683.60M318.50 680.80V683.60M338.30 680.80V683.60M359.00 680.80V683.60M378.40 680.80V683.60" stroke="#333333" stroke-width="1" fill="none"/>
<path d="M432.13 668.11C432.55 667.15 433.79 664.25 434.61 662.33C435.44 660.40 436.13 658.47 437.10 656.54C438.06 654.61 439.30 652.46 440.40 650.75C441.51 649.04 442.61 647.39 443.71 646.28C444.81 645.18 445.92 644.63 447.02 644.13C448.12 643.64 449.22 643.31 450.33 643.31C451.43 643.31 452.53 643.45 453.63 644.13C454.74 644.82 455.84 646.06 456.94 647.44C458.04 648.82 459.14 650.75 460.25 652.40C461.35 654.06 462.45 655.85 463.55 657.36C464.66 658.88 465.76 660.40 466.86 661.50C467.96 662.60 469.07 663.37 470.17 663.98C471.27 664.59 472.37 664.86 473.48 665.14C474.58 665.41 475.68 665.47 476.78 665.63C477.89 665.80 478.99 665.99 480.09 666.13C481.19 666.27 482.30 666.27 483.40 666.46C484.50 666.65 485.60 666.96 486.71 667.29C487.81 667.62 488.91 668.03 490.01 668.44C491.12 668.86 492.22 669.27 493.32 669.77C494.42 670.26 495.53 670.87 496.63 671.42C497.73 671.97 498.83 672.47 499.94 673.07C501.04 673.68 502.06 674.45 503.24 675.06C504.43 675.67 506.41 676.44 507.05 676.71L507.05 679.30L432.13 679.30Z" fill="rgba(150,210,210,0.22)" stroke="none"/>
<path d="M432.13 668.11C432.55 667.15 433.79 664.25 434.61 662.33C435.44 660.40 436.13 658.47 437.10 656.54C438.06 654.61 439.30 652.46 440.40 650.75C441.51 649.04 442.61 647.39 443.71 646.28C444.81 645.18 445.92 644.63 447.02 644.13C448.12 643.64 449.22 643.31 450.33 643.31C451.43 643.31 452.53 643.45 453.63 644.13C454.74 644.82 455.84 646.06 456.94 647.44C458.04 648.82 459.14 650.75 460.25 652.40C461.35 654.06 462.45 655.85 463.55 657.36C464.66 658.88 465.76 660.40 466.86 661.50C467.96 662.60 469.07 663.37 470.17 663.98C471.27 664.59 472.37 664.86 473.48 665.14C474.58 665.41 475.68 665.47 476.78 665.63C477.89 665.80 478.99 665.99 480.09 666.13C481.19 666.27 482.30 666.27 483.40 666.46C484.50 666.65 485.60 666.96 486.71 667.29C487.81 667.62 488.91 668.03 490.01 668.44C491.12 668.86 492.22 669.27 493.32 669.77C494.42 670.26 495.53 670.87 496.63 671.42C497.73 671.97 498.83 672.47 499.94 673.07C501.04 673.68 502.06 674.45 503.24 675.06C504.43 675.67 506.41 676.44 507.05 676.71" fill="none" stroke="#9fd6c9" stroke-width="1.1"/>
<path d="M432.13 678.37C432.69 678.17 434.34 677.81 435.44 677.21C436.54 676.60 437.65 675.55 438.75 674.73C439.85 673.90 440.95 673.07 442.06 672.25C443.16 671.42 444.26 670.59 445.36 669.77C446.47 668.94 447.57 668.25 448.67 667.29C449.77 666.32 450.88 665.08 451.98 663.98C453.08 662.88 454.18 661.77 455.29 660.67C456.39 659.57 457.49 658.14 458.59 657.36C459.70 656.59 460.80 656.32 461.90 656.04C463.00 655.77 464.11 655.85 465.21 655.71C466.31 655.57 467.41 655.41 468.52 655.21C469.62 655.02 470.72 654.75 471.82 654.55C472.93 654.36 474.03 654.19 475.13 654.06C476.23 653.92 477.34 653.81 478.44 653.73C479.54 653.64 480.64 653.64 481.75 653.56C482.85 653.48 483.95 653.42 485.05 653.23C486.16 653.04 487.26 652.62 488.36 652.40C489.46 652.18 490.70 651.91 491.67 651.91C492.63 651.91 493.32 651.85 494.15 652.40C494.98 652.95 495.80 654.03 496.63 655.21C497.46 656.40 498.28 658.05 499.11 659.51C499.94 660.97 500.76 662.55 501.59 663.98C502.42 665.41 503.16 666.87 504.07 668.11C504.98 669.35 506.55 670.87 507.05 671.42L507.05 679.30L432.13 679.30Z" fill="rgba(245,210,70,0.2)" stroke="none"/>
<path d="M432.13 678.37C432.69 678.17 434.34 677.81 435.44 677.21C436.54 676.60 437.65 675.55 438.75 674.73C439.85 673.90 440.95 673.07 442.06 672.25C443.16 671.42 444.26 670.59 445.36 669.77C446.47 668.94 447.57 668.25 448.67 667.29C449.77 666.32 450.88 665.08 451.98 663.98C453.08 662.88 454.18 661.77 455.29 660.67C456.39 659.57 457.49 658.14 458.59 657.36C459.70 656.59 460.80 656.32 461.90 656.04C463.00 655.77 464.11 655.85 465.21 655.71C466.31 655.57 467.41 655.41 468.52 655.21C469.62 655.02 470.72 654.75 471.82 654.55C472.93 654.36 474.03 654.19 475.13 654.06C476.23 653.92 477.34 653.81 478.44 653.73C479.54 653.64 480.64 653.64 481.75 653.56C482.85 653.48 483.95 653.42 485.05 653.23C486.16 653.04 487.26 652.62 488.36 652.40C489.46 652.18 490.70 651.91 491.67 651.91C492.63 651.91 493.32 651.85 494.15 652.40C494.98 652.95 495.80 654.03 496.63 655.21C497.46 656.40 498.28 658.05 499.11 659.51C499.94 660.97 500.76 662.55 501.59 663.98C502.42 665.41 503.16 666.87 504.07 668.11C504.98 669.35 506.55 670.87 507.05 671.42" fill="none" stroke="#f1c83f" stroke-width="1.1"/>
<rect x="428.60" y="632.00" width="81.75" height="10.4" fill="#fff" stroke="#2a2a2a" stroke-width="1.3"/>
<rect x="430.20" y="633.50" width="78.6" height="7.1" fill="#dddddd"/>
<text x="469.50" y="639.40" font-size="7.5" text-anchor="middle" fill="#333333" textLength="71.04" lengthAdjust="spacingAndGlyphs">Tumor proliferation rate</text>
<path d="M428.60 642.90V680.80H510.35" fill="none" stroke="#333333" stroke-width="1.2"/>
<text x="423.60" y="681.60" font-size="8.6" text-anchor="end" fill="#2b2b2b">0.0</text>
<text x="423.60" y="674.30" font-size="8.6" text-anchor="end" fill="#2b2b2b">0.1</text>
<text x="423.60" y="667.10" font-size="8.6" text-anchor="end" fill="#2b2b2b">0.2</text>
<text x="423.60" y="659.80" font-size="8.6" text-anchor="end" fill="#2b2b2b">0.3</text>
<text x="423.60" y="652.40" font-size="8.6" text-anchor="end" fill="#2b2b2b">0.4</text>
<text x="423.60" y="644.90" font-size="8.6" text-anchor="end" fill="#2b2b2b">0.5</text>
<text x="429.70" y="693.30" font-size="8.6" text-anchor="middle" fill="#2b2b2b">−2</text>
<text x="448.70" y="693.30" font-size="8.6" text-anchor="middle" fill="#2b2b2b">−1</text>
<text x="468.50" y="693.30" font-size="8.6" text-anchor="middle" fill="#2b2b2b">0</text>
<text x="487.50" y="693.30" font-size="8.6" text-anchor="middle" fill="#2b2b2b">1</text>
<text x="507.40" y="693.30" font-size="8.6" text-anchor="middle" fill="#2b2b2b">2</text>
<path d="M425.60 679.30H428.60M425.60 672.00H428.60M425.60 664.80H428.60M425.60 657.50H428.60M425.60 650.10H428.60M425.60 642.60H428.60M429.70 680.80V683.60M448.70 680.80V683.60M468.50 680.80V683.60M487.50 680.80V683.60M507.40 680.80V683.60" stroke="#333333" stroke-width="1" fill="none"/>
<text x="0" y="0" transform="translate(13.6,557.5) rotate(-90)" font-size="9.2" text-anchor="middle" fill="#231f20" textLength="25.4" lengthAdjust="spacingAndGlyphs">Density</text>
<text x="260" y="704.8" font-size="9.3" text-anchor="middle" fill="#231f20" stroke="#231f20" stroke-width="0.15" textLength="50.8" lengthAdjust="spacingAndGlyphs">Signature score</text>
<rect x="0" y="0" width="520" height="1" fill="#111"/>
<rect x="0" y="0" width="1.1" height="712" fill="#111"/>
<rect x="518.6" y="0" width="1.4" height="712" fill="#111"/>
<rect x="0" y="710.5" width="520" height="1.5" fill="#111"/>
</svg></body></html>
